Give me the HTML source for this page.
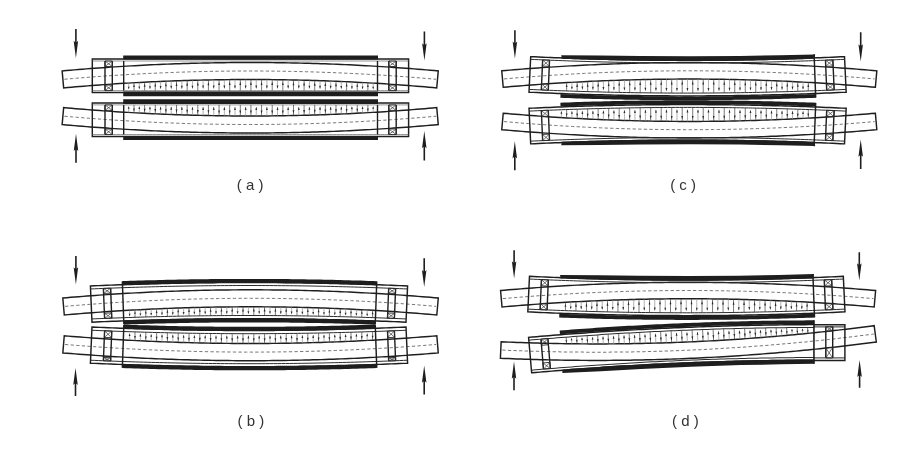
<!DOCTYPE html>
<html><head><meta charset="utf-8"><title>Roll bending diagram</title>
<style>html,body{margin:0;padding:0;background:#fff;}svg{display:block;font-family:"Liberation Sans",sans-serif;filter:grayscale(1);}</style>
</head><body>
<svg width="924" height="460" viewBox="0 0 924 460">
<rect width="924" height="460" fill="#fff"/>
<polygon points="62.14,70.93 66.18,70.58 70.23,70.22 74.27,69.88 78.32,69.55 82.36,69.22 86.41,68.9 90.45,68.59 94.49,68.28 98.54,67.99 102.58,67.7 106.63,67.42 110.67,67.14 114.72,66.88 118.76,66.62 122.8,66.37 126.85,66.13 130.89,65.89 134.94,65.67 138.98,65.45 143.03,65.24 147.07,65.04 151.11,64.84 155.16,64.65 159.2,64.47 163.25,64.3 167.29,64.14 171.34,63.98 175.38,63.83 179.42,63.69 183.47,63.56 187.51,63.44 191.56,63.32 195.6,63.21 199.65,63.11 203.69,63.02 207.73,62.93 211.78,62.85 215.82,62.78 219.87,62.72 223.91,62.66 227.96,62.62 232,62.58 236.04,62.55 240.09,62.52 244.13,62.51 248.18,62.5 252.22,62.5 256.27,62.51 260.31,62.52 264.36,62.55 268.4,62.58 272.44,62.62 276.49,62.66 280.53,62.72 284.58,62.78 288.62,62.85 292.67,62.93 296.71,63.02 300.75,63.11 304.8,63.21 308.84,63.32 312.89,63.44 316.93,63.56 320.98,63.69 325.02,63.83 329.06,63.98 333.11,64.14 337.15,64.3 341.2,64.47 345.24,64.65 349.29,64.84 353.33,65.04 357.37,65.24 361.42,65.45 365.46,65.67 369.51,65.89 373.55,66.13 377.6,66.37 381.64,66.62 385.68,66.88 389.73,67.14 393.77,67.42 397.82,67.7 401.86,67.99 405.91,68.28 409.95,68.59 413.99,68.9 418.04,69.22 422.08,69.55 426.13,69.88 430.17,70.22 434.22,70.58 438.26,70.93 436.74,87.87 432.73,87.51 428.72,87.16 424.71,86.82 420.69,86.49 416.68,86.16 412.67,85.85 408.66,85.54 404.65,85.23 400.64,84.94 396.62,84.65 392.61,84.38 388.6,84.11 384.59,83.84 380.58,83.59 376.57,83.34 372.55,83.1 368.54,82.87 364.53,82.64 360.52,82.43 356.51,82.22 352.5,82.02 348.48,81.82 344.47,81.64 340.46,81.46 336.45,81.29 332.44,81.13 328.43,80.97 324.41,80.82 320.4,80.68 316.39,80.55 312.38,80.43 308.37,80.31 304.36,80.21 300.34,80.1 296.33,80.01 292.32,79.93 288.31,79.85 284.3,79.78 280.29,79.72 276.28,79.66 272.26,79.62 268.25,79.58 264.24,79.55 260.23,79.52 256.22,79.51 252.21,79.5 248.19,79.5 244.18,79.51 240.17,79.52 236.16,79.55 232.15,79.58 228.14,79.62 224.12,79.66 220.11,79.72 216.1,79.78 212.09,79.85 208.08,79.93 204.07,80.01 200.06,80.1 196.04,80.21 192.03,80.31 188.02,80.43 184.01,80.55 180,80.68 175.99,80.82 171.97,80.97 167.96,81.13 163.95,81.29 159.94,81.46 155.93,81.64 151.92,81.82 147.9,82.02 143.89,82.22 139.88,82.43 135.87,82.64 131.86,82.87 127.85,83.1 123.83,83.34 119.82,83.59 115.81,83.84 111.8,84.11 107.79,84.38 103.78,84.65 99.76,84.94 95.75,85.23 91.74,85.54 87.73,85.85 83.72,86.16 79.71,86.49 75.69,86.82 71.68,87.16 67.67,87.51 63.66,87.87" fill="none" stroke="#1e1e1e" stroke-width="1.45" stroke-linejoin="miter"/>
<polyline points="64.4,79.27 68.44,78.91 72.48,78.56 76.52,78.22 80.56,77.89 84.6,77.57 88.63,77.25 92.67,76.94 96.71,76.64 100.75,76.35 104.79,76.06 108.83,75.79 112.87,75.52 116.91,75.25 120.95,75 124.99,74.75 129.03,74.52 133.07,74.29 137.1,74.06 141.14,73.85 145.18,73.64 149.22,73.44 153.26,73.25 157.3,73.07 161.34,72.89 165.38,72.72 169.42,72.56 173.46,72.41 177.5,72.27 181.53,72.13 185.57,72 189.61,71.88 193.65,71.77 197.69,71.66 201.73,71.56 205.77,71.47 209.81,71.39 213.85,71.32 217.89,71.25 221.93,71.19 225.97,71.14 230,71.1 234.04,71.06 238.08,71.04 242.12,71.02 246.16,71 250.2,71 254.24,71 258.28,71.02 262.32,71.04 266.36,71.06 270.4,71.1 274.43,71.14 278.47,71.19 282.51,71.25 286.55,71.32 290.59,71.39 294.63,71.47 298.67,71.56 302.71,71.66 306.75,71.77 310.79,71.88 314.83,72 318.87,72.13 322.9,72.27 326.94,72.41 330.98,72.56 335.02,72.72 339.06,72.89 343.1,73.07 347.14,73.25 351.18,73.44 355.22,73.64 359.26,73.85 363.3,74.06 367.33,74.29 371.37,74.52 375.41,74.75 379.45,75 383.49,75.25 387.53,75.52 391.57,75.79 395.61,76.06 399.65,76.35 403.69,76.64 407.73,76.94 411.77,77.25 415.8,77.57 419.84,77.89 423.88,78.22 427.92,78.56 431.96,78.91 436,79.27" fill="none" stroke="#777" stroke-width="1" stroke-dasharray="3.3 2.3"/>
<polygon points="92.3,59 96.3,59 100.31,59 104.31,59 108.32,59 112.32,59 116.32,59 120.33,59 124.33,59 128.33,59 132.34,59 136.34,59 140.35,59 144.35,59 148.35,59 152.36,59 156.36,59 160.36,59 164.37,59 168.37,59 172.38,59 176.38,59 180.38,59 184.39,59 188.39,59 192.39,59 196.4,59 200.4,59 204.41,59 208.41,59 212.41,59 216.42,59 220.42,59 224.43,59 228.43,59 232.43,59 236.44,59 240.44,59 244.44,59 248.45,59 252.45,59 256.46,59 260.46,59 264.46,59 268.47,59 272.47,59 276.47,59 280.48,59 284.48,59 288.49,59 292.49,59 296.49,59 300.5,59 304.5,59 308.51,59 312.51,59 316.51,59 320.52,59 324.52,59 328.52,59 332.53,59 336.53,59 340.54,59 344.54,59 348.54,59 352.55,59 356.55,59 360.55,59 364.56,59 368.56,59 372.57,59 376.57,59 380.57,59 384.58,59 388.58,59 392.58,59 396.59,59 400.59,59 404.6,59 408.6,59 408.6,92.5 404.6,92.5 400.59,92.5 396.59,92.5 392.58,92.5 388.58,92.5 384.58,92.5 380.57,92.5 376.57,92.5 372.57,92.5 368.56,92.5 364.56,92.5 360.55,92.5 356.55,92.5 352.55,92.5 348.54,92.5 344.54,92.5 340.54,92.5 336.53,92.5 332.53,92.5 328.52,92.5 324.52,92.5 320.52,92.5 316.51,92.5 312.51,92.5 308.51,92.5 304.5,92.5 300.5,92.5 296.49,92.5 292.49,92.5 288.49,92.5 284.48,92.5 280.48,92.5 276.47,92.5 272.47,92.5 268.47,92.5 264.46,92.5 260.46,92.5 256.46,92.5 252.45,92.5 248.45,92.5 244.44,92.5 240.44,92.5 236.44,92.5 232.43,92.5 228.43,92.5 224.43,92.5 220.42,92.5 216.42,92.5 212.41,92.5 208.41,92.5 204.41,92.5 200.4,92.5 196.4,92.5 192.39,92.5 188.39,92.5 184.39,92.5 180.38,92.5 176.38,92.5 172.38,92.5 168.37,92.5 164.37,92.5 160.36,92.5 156.36,92.5 152.36,92.5 148.35,92.5 144.35,92.5 140.35,92.5 136.34,92.5 132.34,92.5 128.33,92.5 124.33,92.5 120.33,92.5 116.32,92.5 112.32,92.5 108.32,92.5 104.31,92.5 100.31,92.5 96.3,92.5 92.3,92.5" fill="none" stroke="#1e1e1e" stroke-width="1.45" stroke-linejoin="miter"/>
<polyline points="92.3,61 96.3,61 100.31,61 104.31,61 108.32,61 112.32,61 116.32,61 120.33,61 124.33,61 128.33,61 132.34,61 136.34,61 140.35,61 144.35,61 148.35,61 152.36,61 156.36,61 160.36,61 164.37,61 168.37,61 172.38,61 176.38,61 180.38,61 184.39,61 188.39,61 192.39,61 196.4,61 200.4,61 204.41,61 208.41,61 212.41,61 216.42,61 220.42,61 224.43,61 228.43,61 232.43,61 236.44,61 240.44,61 244.44,61 248.45,61 252.45,61 256.46,61 260.46,61 264.46,61 268.47,61 272.47,61 276.47,61 280.48,61 284.48,61 288.49,61 292.49,61 296.49,61 300.5,61 304.5,61 308.51,61 312.51,61 316.51,61 320.52,61 324.52,61 328.52,61 332.53,61 336.53,61 340.54,61 344.54,61 348.54,61 352.55,61 356.55,61 360.55,61 364.56,61 368.56,61 372.57,61 376.57,61 380.57,61 384.58,61 388.58,61 392.58,61 396.59,61 400.59,61 404.6,61 408.6,61" fill="none" stroke="#666" stroke-width="0.7" />
<polyline points="92.3,90.6 96.3,90.6 100.31,90.6 104.31,90.6 108.32,90.6 112.32,90.6 116.32,90.6 120.33,90.6 124.33,90.6 128.33,90.6 132.34,90.6 136.34,90.6 140.35,90.6 144.35,90.6 148.35,90.6 152.36,90.6 156.36,90.6 160.36,90.6 164.37,90.6 168.37,90.6 172.38,90.6 176.38,90.6 180.38,90.6 184.39,90.6 188.39,90.6 192.39,90.6 196.4,90.6 200.4,90.6 204.41,90.6 208.41,90.6 212.41,90.6 216.42,90.6 220.42,90.6 224.43,90.6 228.43,90.6 232.43,90.6 236.44,90.6 240.44,90.6 244.44,90.6 248.45,90.6 252.45,90.6 256.46,90.6 260.46,90.6 264.46,90.6 268.47,90.6 272.47,90.6 276.47,90.6 280.48,90.6 284.48,90.6 288.49,90.6 292.49,90.6 296.49,90.6 300.5,90.6 304.5,90.6 308.51,90.6 312.51,90.6 316.51,90.6 320.52,90.6 324.52,90.6 328.52,90.6 332.53,90.6 336.53,90.6 340.54,90.6 344.54,90.6 348.54,90.6 352.55,90.6 356.55,90.6 360.55,90.6 364.56,90.6 368.56,90.6 372.57,90.6 376.57,90.6 380.57,90.6 384.58,90.6 388.58,90.6 392.58,90.6 396.59,90.6 400.59,90.6 404.6,90.6 408.6,90.6" fill="none" stroke="#666" stroke-width="0.7" />
<polygon points="123.2,55.5 127.24,55.5 131.29,55.5 135.33,55.5 139.38,55.5 143.42,55.5 147.47,55.5 151.51,55.5 155.56,55.5 159.6,55.5 163.64,55.5 167.69,55.5 171.73,55.5 175.78,55.5 179.82,55.5 183.87,55.5 187.91,55.5 191.96,55.5 196,55.5 200.04,55.5 204.09,55.5 208.13,55.5 212.18,55.5 216.22,55.5 220.27,55.5 224.31,55.5 228.36,55.5 232.4,55.5 236.44,55.5 240.49,55.5 244.53,55.5 248.58,55.5 252.62,55.5 256.67,55.5 260.71,55.5 264.76,55.5 268.8,55.5 272.84,55.5 276.89,55.5 280.93,55.5 284.98,55.5 289.02,55.5 293.07,55.5 297.11,55.5 301.16,55.5 305.2,55.5 309.24,55.5 313.29,55.5 317.33,55.5 321.38,55.5 325.42,55.5 329.47,55.5 333.51,55.5 337.56,55.5 341.6,55.5 345.64,55.5 349.69,55.5 353.73,55.5 357.78,55.5 361.82,55.5 365.87,55.5 369.91,55.5 373.96,55.5 378,55.5 378,59.4 373.96,59.4 369.91,59.4 365.87,59.4 361.82,59.4 357.78,59.4 353.73,59.4 349.69,59.4 345.64,59.4 341.6,59.4 337.56,59.4 333.51,59.4 329.47,59.4 325.42,59.4 321.38,59.4 317.33,59.4 313.29,59.4 309.24,59.4 305.2,59.4 301.16,59.4 297.11,59.4 293.07,59.4 289.02,59.4 284.98,59.4 280.93,59.4 276.89,59.4 272.84,59.4 268.8,59.4 264.76,59.4 260.71,59.4 256.67,59.4 252.62,59.4 248.58,59.4 244.53,59.4 240.49,59.4 236.44,59.4 232.4,59.4 228.36,59.4 224.31,59.4 220.27,59.4 216.22,59.4 212.18,59.4 208.13,59.4 204.09,59.4 200.04,59.4 196,59.4 191.96,59.4 187.91,59.4 183.87,59.4 179.82,59.4 175.78,59.4 171.73,59.4 167.69,59.4 163.64,59.4 159.6,59.4 155.56,59.4 151.51,59.4 147.47,59.4 143.42,59.4 139.38,59.4 135.33,59.4 131.29,59.4 127.24,59.4 123.2,59.4" fill="#1e1e1e" stroke="none" stroke-width="0" stroke-linejoin="miter"/>
<polygon points="123.2,91.5 127.24,91.5 131.29,91.5 135.33,91.5 139.38,91.5 143.42,91.5 147.47,91.5 151.51,91.5 155.56,91.5 159.6,91.5 163.64,91.5 167.69,91.5 171.73,91.5 175.78,91.5 179.82,91.5 183.87,91.5 187.91,91.5 191.96,91.5 196,91.5 200.04,91.5 204.09,91.5 208.13,91.5 212.18,91.5 216.22,91.5 220.27,91.5 224.31,91.5 228.36,91.5 232.4,91.5 236.44,91.5 240.49,91.5 244.53,91.5 248.58,91.5 252.62,91.5 256.67,91.5 260.71,91.5 264.76,91.5 268.8,91.5 272.84,91.5 276.89,91.5 280.93,91.5 284.98,91.5 289.02,91.5 293.07,91.5 297.11,91.5 301.16,91.5 305.2,91.5 309.24,91.5 313.29,91.5 317.33,91.5 321.38,91.5 325.42,91.5 329.47,91.5 333.51,91.5 337.56,91.5 341.6,91.5 345.64,91.5 349.69,91.5 353.73,91.5 357.78,91.5 361.82,91.5 365.87,91.5 369.91,91.5 373.96,91.5 378,91.5 378,96.2 373.96,96.2 369.91,96.2 365.87,96.2 361.82,96.2 357.78,96.2 353.73,96.2 349.69,96.2 345.64,96.2 341.6,96.2 337.56,96.2 333.51,96.2 329.47,96.2 325.42,96.2 321.38,96.2 317.33,96.2 313.29,96.2 309.24,96.2 305.2,96.2 301.16,96.2 297.11,96.2 293.07,96.2 289.02,96.2 284.98,96.2 280.93,96.2 276.89,96.2 272.84,96.2 268.8,96.2 264.76,96.2 260.71,96.2 256.67,96.2 252.62,96.2 248.58,96.2 244.53,96.2 240.49,96.2 236.44,96.2 232.4,96.2 228.36,96.2 224.31,96.2 220.27,96.2 216.22,96.2 212.18,96.2 208.13,96.2 204.09,96.2 200.04,96.2 196,96.2 191.96,96.2 187.91,96.2 183.87,96.2 179.82,96.2 175.78,96.2 171.73,96.2 167.69,96.2 163.64,96.2 159.6,96.2 155.56,96.2 151.51,96.2 147.47,96.2 143.42,96.2 139.38,96.2 135.33,96.2 131.29,96.2 127.24,96.2 123.2,96.2" fill="#1e1e1e" stroke="none" stroke-width="0" stroke-linejoin="miter"/>
<line x1="105" y1="61" x2="105" y2="90.6" stroke="#1e1e1e" stroke-width="1.4"/>
<line x1="112.3" y1="61" x2="112.3" y2="90.6" stroke="#1e1e1e" stroke-width="1.4"/>
<polygon points="105,61 112.3,61 112.3,66.5 105,66.5" fill="none" stroke="#2a2a2a" stroke-width="0.9" stroke-linejoin="miter"/>
<line x1="105.44" y1="61.33" x2="111.86" y2="66.17" stroke="#333" stroke-width="0.7"/>
<line x1="111.86" y1="61.33" x2="105.44" y2="66.17" stroke="#333" stroke-width="0.7"/>
<polygon points="105,85.1 112.3,85.1 112.3,90.6 105,90.6" fill="none" stroke="#2a2a2a" stroke-width="0.9" stroke-linejoin="miter"/>
<line x1="105.44" y1="85.43" x2="111.86" y2="90.27" stroke="#333" stroke-width="0.7"/>
<line x1="111.86" y1="85.43" x2="105.44" y2="90.27" stroke="#333" stroke-width="0.7"/>
<line x1="388.8" y1="61" x2="388.8" y2="90.6" stroke="#1e1e1e" stroke-width="1.4"/>
<line x1="396.2" y1="61" x2="396.2" y2="90.6" stroke="#1e1e1e" stroke-width="1.4"/>
<polygon points="388.8,61 396.2,61 396.2,66.5 388.8,66.5" fill="none" stroke="#2a2a2a" stroke-width="0.9" stroke-linejoin="miter"/>
<line x1="389.24" y1="61.33" x2="395.76" y2="66.17" stroke="#333" stroke-width="0.7"/>
<line x1="395.76" y1="61.33" x2="389.24" y2="66.17" stroke="#333" stroke-width="0.7"/>
<polygon points="388.8,85.1 396.2,85.1 396.2,90.6 388.8,90.6" fill="none" stroke="#2a2a2a" stroke-width="0.9" stroke-linejoin="miter"/>
<line x1="389.24" y1="85.43" x2="395.76" y2="90.27" stroke="#333" stroke-width="0.7"/>
<line x1="395.76" y1="85.43" x2="389.24" y2="90.27" stroke="#333" stroke-width="0.7"/>
<line x1="123.7" y1="61" x2="123.7" y2="90.6" stroke="#1e1e1e" stroke-width="1.4"/>
<line x1="377.5" y1="61" x2="377.5" y2="90.6" stroke="#1e1e1e" stroke-width="1.4"/>
<line x1="128.7" y1="83.02" x2="128.7" y2="88.81" stroke="#909090" stroke-width="0.7"/>
<polygon points="127.8,86.81 129.6,86.81 128.7,89.31" fill="#2a2a2a" stroke="none" stroke-width="0" stroke-linejoin="miter"/>
<line x1="134.01" y1="82.72" x2="134.01" y2="90.6" stroke="#404040" stroke-width="0.7"/>
<polygon points="133.11,86.9 134.91,86.9 134.01,84.3" fill="#2a2a2a" stroke="none" stroke-width="0" stroke-linejoin="miter"/>
<line x1="139.33" y1="82.43" x2="139.33" y2="88.71" stroke="#909090" stroke-width="0.7"/>
<polygon points="138.43,86.52 140.23,86.52 139.33,89.21" fill="#2a2a2a" stroke="none" stroke-width="0" stroke-linejoin="miter"/>
<line x1="144.64" y1="82.16" x2="144.64" y2="90.6" stroke="#404040" stroke-width="0.7"/>
<polygon points="143.74,86.63 145.54,86.63 144.64,83.85" fill="#2a2a2a" stroke="none" stroke-width="0" stroke-linejoin="miter"/>
<line x1="149.96" y1="81.9" x2="149.96" y2="88.62" stroke="#909090" stroke-width="0.7"/>
<polygon points="149.06,86.25 150.86,86.25 149.96,89.12" fill="#2a2a2a" stroke="none" stroke-width="0" stroke-linejoin="miter"/>
<line x1="155.27" y1="81.65" x2="155.27" y2="90.6" stroke="#404040" stroke-width="0.7"/>
<polygon points="154.37,86.39 156.17,86.39 155.27,83.44" fill="#2a2a2a" stroke="none" stroke-width="0" stroke-linejoin="miter"/>
<line x1="160.59" y1="81.41" x2="160.59" y2="88.54" stroke="#909090" stroke-width="0.7"/>
<polygon points="159.69,86.01 161.49,86.01 160.59,89.04" fill="#2a2a2a" stroke="none" stroke-width="0" stroke-linejoin="miter"/>
<line x1="165.91" y1="81.19" x2="165.91" y2="90.6" stroke="#404040" stroke-width="0.7"/>
<polygon points="165,86.18 166.81,86.18 165.91,83.08" fill="#2a2a2a" stroke="none" stroke-width="0" stroke-linejoin="miter"/>
<line x1="171.22" y1="80.99" x2="171.22" y2="88.47" stroke="#909090" stroke-width="0.7"/>
<polygon points="170.32,85.79 172.12,85.79 171.22,88.97" fill="#2a2a2a" stroke="none" stroke-width="0" stroke-linejoin="miter"/>
<line x1="176.53" y1="80.79" x2="176.53" y2="90.6" stroke="#404040" stroke-width="0.7"/>
<polygon points="175.63,85.96 177.44,85.96 176.53,82.76" fill="#2a2a2a" stroke="none" stroke-width="0" stroke-linejoin="miter"/>
<line x1="181.85" y1="80.61" x2="181.85" y2="88.4" stroke="#909090" stroke-width="0.7"/>
<polygon points="180.95,85.7 182.75,85.7 181.85,88.9" fill="#2a2a2a" stroke="none" stroke-width="0" stroke-linejoin="miter"/>
<line x1="187.16" y1="80.45" x2="187.16" y2="90.6" stroke="#404040" stroke-width="0.7"/>
<polygon points="186.26,85.68 188.06,85.68 187.16,82.48" fill="#2a2a2a" stroke="none" stroke-width="0" stroke-linejoin="miter"/>
<line x1="192.48" y1="80.29" x2="192.48" y2="88.35" stroke="#909090" stroke-width="0.7"/>
<polygon points="191.58,85.65 193.38,85.65 192.48,88.85" fill="#2a2a2a" stroke="none" stroke-width="0" stroke-linejoin="miter"/>
<line x1="197.79" y1="80.15" x2="197.79" y2="90.6" stroke="#404040" stroke-width="0.7"/>
<polygon points="196.89,85.44 198.69,85.44 197.79,82.24" fill="#2a2a2a" stroke="none" stroke-width="0" stroke-linejoin="miter"/>
<line x1="203.11" y1="80.03" x2="203.11" y2="88.3" stroke="#909090" stroke-width="0.7"/>
<polygon points="202.21,85.6 204.01,85.6 203.11,88.8" fill="#2a2a2a" stroke="none" stroke-width="0" stroke-linejoin="miter"/>
<line x1="208.43" y1="79.92" x2="208.43" y2="90.6" stroke="#404040" stroke-width="0.7"/>
<polygon points="207.53,85.25 209.33,85.25 208.43,82.05" fill="#2a2a2a" stroke="none" stroke-width="0" stroke-linejoin="miter"/>
<line x1="213.74" y1="79.82" x2="213.74" y2="88.27" stroke="#909090" stroke-width="0.7"/>
<polygon points="212.84,85.57 214.64,85.57 213.74,88.77" fill="#2a2a2a" stroke="none" stroke-width="0" stroke-linejoin="miter"/>
<line x1="219.06" y1="79.73" x2="219.06" y2="90.6" stroke="#404040" stroke-width="0.7"/>
<polygon points="218.16,85.11 219.96,85.11 219.06,81.91" fill="#2a2a2a" stroke="none" stroke-width="0" stroke-linejoin="miter"/>
<line x1="224.37" y1="79.66" x2="224.37" y2="88.24" stroke="#909090" stroke-width="0.7"/>
<polygon points="223.47,85.54 225.27,85.54 224.37,88.74" fill="#2a2a2a" stroke="none" stroke-width="0" stroke-linejoin="miter"/>
<line x1="229.69" y1="79.6" x2="229.69" y2="90.6" stroke="#404040" stroke-width="0.7"/>
<polygon points="228.78,85 230.59,85 229.69,81.8" fill="#2a2a2a" stroke="none" stroke-width="0" stroke-linejoin="miter"/>
<line x1="235" y1="79.56" x2="235" y2="88.22" stroke="#909090" stroke-width="0.7"/>
<polygon points="234.1,85.52 235.9,85.52 235,88.72" fill="#2a2a2a" stroke="none" stroke-width="0" stroke-linejoin="miter"/>
<line x1="240.31" y1="79.52" x2="240.31" y2="90.6" stroke="#404040" stroke-width="0.7"/>
<polygon points="239.41,84.92 241.22,84.92 240.31,81.72" fill="#2a2a2a" stroke="none" stroke-width="0" stroke-linejoin="miter"/>
<line x1="245.63" y1="79.5" x2="245.63" y2="88.21" stroke="#909090" stroke-width="0.7"/>
<polygon points="244.73,85.51 246.53,85.51 245.63,88.71" fill="#2a2a2a" stroke="none" stroke-width="0" stroke-linejoin="miter"/>
<line x1="250.94" y1="79.5" x2="250.94" y2="90.6" stroke="#404040" stroke-width="0.7"/>
<polygon points="250.04,84.9 251.84,84.9 250.94,81.7" fill="#2a2a2a" stroke="none" stroke-width="0" stroke-linejoin="miter"/>
<line x1="256.26" y1="79.51" x2="256.26" y2="88.21" stroke="#909090" stroke-width="0.7"/>
<polygon points="255.36,85.51 257.16,85.51 256.26,88.71" fill="#2a2a2a" stroke="none" stroke-width="0" stroke-linejoin="miter"/>
<line x1="261.57" y1="79.53" x2="261.57" y2="90.6" stroke="#404040" stroke-width="0.7"/>
<polygon points="260.68,84.93 262.47,84.93 261.57,81.73" fill="#2a2a2a" stroke="none" stroke-width="0" stroke-linejoin="miter"/>
<line x1="266.89" y1="79.57" x2="266.89" y2="88.22" stroke="#909090" stroke-width="0.7"/>
<polygon points="265.99,85.52 267.79,85.52 266.89,88.72" fill="#2a2a2a" stroke="none" stroke-width="0" stroke-linejoin="miter"/>
<line x1="272.21" y1="79.62" x2="272.21" y2="90.6" stroke="#404040" stroke-width="0.7"/>
<polygon points="271.31,85.01 273.11,85.01 272.21,81.81" fill="#2a2a2a" stroke="none" stroke-width="0" stroke-linejoin="miter"/>
<line x1="277.52" y1="79.68" x2="277.52" y2="88.24" stroke="#909090" stroke-width="0.7"/>
<polygon points="276.62,85.54 278.42,85.54 277.52,88.74" fill="#2a2a2a" stroke="none" stroke-width="0" stroke-linejoin="miter"/>
<line x1="282.84" y1="79.75" x2="282.84" y2="90.6" stroke="#404040" stroke-width="0.7"/>
<polygon points="281.94,85.12 283.74,85.12 282.84,81.92" fill="#2a2a2a" stroke="none" stroke-width="0" stroke-linejoin="miter"/>
<line x1="288.15" y1="79.84" x2="288.15" y2="88.27" stroke="#909090" stroke-width="0.7"/>
<polygon points="287.25,85.57 289.05,85.57 288.15,88.77" fill="#2a2a2a" stroke="none" stroke-width="0" stroke-linejoin="miter"/>
<line x1="293.47" y1="79.95" x2="293.47" y2="90.6" stroke="#404040" stroke-width="0.7"/>
<polygon points="292.57,85.28 294.37,85.28 293.47,82.08" fill="#2a2a2a" stroke="none" stroke-width="0" stroke-linejoin="miter"/>
<line x1="298.78" y1="80.06" x2="298.78" y2="88.31" stroke="#909090" stroke-width="0.7"/>
<polygon points="297.88,85.61 299.68,85.61 298.78,88.81" fill="#2a2a2a" stroke="none" stroke-width="0" stroke-linejoin="miter"/>
<line x1="304.1" y1="80.19" x2="304.1" y2="90.6" stroke="#404040" stroke-width="0.7"/>
<polygon points="303.2,85.47 305,85.47 304.1,82.27" fill="#2a2a2a" stroke="none" stroke-width="0" stroke-linejoin="miter"/>
<line x1="309.41" y1="80.34" x2="309.41" y2="88.36" stroke="#909090" stroke-width="0.7"/>
<polygon points="308.51,85.66 310.31,85.66 309.41,88.86" fill="#2a2a2a" stroke="none" stroke-width="0" stroke-linejoin="miter"/>
<line x1="314.73" y1="80.49" x2="314.73" y2="90.6" stroke="#404040" stroke-width="0.7"/>
<polygon points="313.83,85.71 315.62,85.71 314.73,82.51" fill="#2a2a2a" stroke="none" stroke-width="0" stroke-linejoin="miter"/>
<line x1="320.04" y1="80.66" x2="320.04" y2="88.41" stroke="#909090" stroke-width="0.7"/>
<polygon points="319.14,85.71 320.94,85.71 320.04,88.91" fill="#2a2a2a" stroke="none" stroke-width="0" stroke-linejoin="miter"/>
<line x1="325.36" y1="80.85" x2="325.36" y2="90.6" stroke="#404040" stroke-width="0.7"/>
<polygon points="324.46,86 326.25,86 325.36,82.8" fill="#2a2a2a" stroke="none" stroke-width="0" stroke-linejoin="miter"/>
<line x1="330.67" y1="81.04" x2="330.67" y2="88.48" stroke="#909090" stroke-width="0.7"/>
<polygon points="329.77,85.82 331.57,85.82 330.67,88.98" fill="#2a2a2a" stroke="none" stroke-width="0" stroke-linejoin="miter"/>
<line x1="335.99" y1="81.25" x2="335.99" y2="90.6" stroke="#404040" stroke-width="0.7"/>
<polygon points="335.09,86.21 336.88,86.21 335.99,83.12" fill="#2a2a2a" stroke="none" stroke-width="0" stroke-linejoin="miter"/>
<line x1="341.3" y1="81.48" x2="341.3" y2="88.55" stroke="#909090" stroke-width="0.7"/>
<polygon points="340.4,86.04 342.2,86.04 341.3,89.05" fill="#2a2a2a" stroke="none" stroke-width="0" stroke-linejoin="miter"/>
<line x1="346.62" y1="81.72" x2="346.62" y2="90.6" stroke="#404040" stroke-width="0.7"/>
<polygon points="345.72,86.42 347.51,86.42 346.62,83.49" fill="#2a2a2a" stroke="none" stroke-width="0" stroke-linejoin="miter"/>
<line x1="351.93" y1="81.97" x2="351.93" y2="88.63" stroke="#909090" stroke-width="0.7"/>
<polygon points="351.03,86.28 352.83,86.28 351.93,89.13" fill="#2a2a2a" stroke="none" stroke-width="0" stroke-linejoin="miter"/>
<line x1="357.25" y1="82.23" x2="357.25" y2="90.6" stroke="#404040" stroke-width="0.7"/>
<polygon points="356.35,86.67 358.14,86.67 357.25,83.91" fill="#2a2a2a" stroke="none" stroke-width="0" stroke-linejoin="miter"/>
<line x1="362.56" y1="82.51" x2="362.56" y2="88.72" stroke="#909090" stroke-width="0.7"/>
<polygon points="361.66,86.56 363.46,86.56 362.56,89.22" fill="#2a2a2a" stroke="none" stroke-width="0" stroke-linejoin="miter"/>
<line x1="367.88" y1="82.8" x2="367.88" y2="90.6" stroke="#404040" stroke-width="0.7"/>
<polygon points="366.98,86.94 368.77,86.94 367.88,84.36" fill="#2a2a2a" stroke="none" stroke-width="0" stroke-linejoin="miter"/>
<line x1="373.19" y1="83.11" x2="373.19" y2="88.83" stroke="#909090" stroke-width="0.7"/>
<polygon points="372.29,86.85 374.09,86.85 373.19,89.33" fill="#2a2a2a" stroke="none" stroke-width="0" stroke-linejoin="miter"/>
<g transform="matrix(1 0 0 -1 0 195.5)">
<polygon points="62.14,70.93 66.18,70.58 70.23,70.22 74.27,69.88 78.32,69.55 82.36,69.22 86.41,68.9 90.45,68.59 94.49,68.28 98.54,67.99 102.58,67.7 106.63,67.42 110.67,67.14 114.72,66.88 118.76,66.62 122.8,66.37 126.85,66.13 130.89,65.89 134.94,65.67 138.98,65.45 143.03,65.24 147.07,65.04 151.11,64.84 155.16,64.65 159.2,64.47 163.25,64.3 167.29,64.14 171.34,63.98 175.38,63.83 179.42,63.69 183.47,63.56 187.51,63.44 191.56,63.32 195.6,63.21 199.65,63.11 203.69,63.02 207.73,62.93 211.78,62.85 215.82,62.78 219.87,62.72 223.91,62.66 227.96,62.62 232,62.58 236.04,62.55 240.09,62.52 244.13,62.51 248.18,62.5 252.22,62.5 256.27,62.51 260.31,62.52 264.36,62.55 268.4,62.58 272.44,62.62 276.49,62.66 280.53,62.72 284.58,62.78 288.62,62.85 292.67,62.93 296.71,63.02 300.75,63.11 304.8,63.21 308.84,63.32 312.89,63.44 316.93,63.56 320.98,63.69 325.02,63.83 329.06,63.98 333.11,64.14 337.15,64.3 341.2,64.47 345.24,64.65 349.29,64.84 353.33,65.04 357.37,65.24 361.42,65.45 365.46,65.67 369.51,65.89 373.55,66.13 377.6,66.37 381.64,66.62 385.68,66.88 389.73,67.14 393.77,67.42 397.82,67.7 401.86,67.99 405.91,68.28 409.95,68.59 413.99,68.9 418.04,69.22 422.08,69.55 426.13,69.88 430.17,70.22 434.22,70.58 438.26,70.93 436.74,87.87 432.73,87.51 428.72,87.16 424.71,86.82 420.69,86.49 416.68,86.16 412.67,85.85 408.66,85.54 404.65,85.23 400.64,84.94 396.62,84.65 392.61,84.38 388.6,84.11 384.59,83.84 380.58,83.59 376.57,83.34 372.55,83.1 368.54,82.87 364.53,82.64 360.52,82.43 356.51,82.22 352.5,82.02 348.48,81.82 344.47,81.64 340.46,81.46 336.45,81.29 332.44,81.13 328.43,80.97 324.41,80.82 320.4,80.68 316.39,80.55 312.38,80.43 308.37,80.31 304.36,80.21 300.34,80.1 296.33,80.01 292.32,79.93 288.31,79.85 284.3,79.78 280.29,79.72 276.28,79.66 272.26,79.62 268.25,79.58 264.24,79.55 260.23,79.52 256.22,79.51 252.21,79.5 248.19,79.5 244.18,79.51 240.17,79.52 236.16,79.55 232.15,79.58 228.14,79.62 224.12,79.66 220.11,79.72 216.1,79.78 212.09,79.85 208.08,79.93 204.07,80.01 200.06,80.1 196.04,80.21 192.03,80.31 188.02,80.43 184.01,80.55 180,80.68 175.99,80.82 171.97,80.97 167.96,81.13 163.95,81.29 159.94,81.46 155.93,81.64 151.92,81.82 147.9,82.02 143.89,82.22 139.88,82.43 135.87,82.64 131.86,82.87 127.85,83.1 123.83,83.34 119.82,83.59 115.81,83.84 111.8,84.11 107.79,84.38 103.78,84.65 99.76,84.94 95.75,85.23 91.74,85.54 87.73,85.85 83.72,86.16 79.71,86.49 75.69,86.82 71.68,87.16 67.67,87.51 63.66,87.87" fill="none" stroke="#1e1e1e" stroke-width="1.45" stroke-linejoin="miter"/>
<polyline points="64.4,79.27 68.44,78.91 72.48,78.56 76.52,78.22 80.56,77.89 84.6,77.57 88.63,77.25 92.67,76.94 96.71,76.64 100.75,76.35 104.79,76.06 108.83,75.79 112.87,75.52 116.91,75.25 120.95,75 124.99,74.75 129.03,74.52 133.07,74.29 137.1,74.06 141.14,73.85 145.18,73.64 149.22,73.44 153.26,73.25 157.3,73.07 161.34,72.89 165.38,72.72 169.42,72.56 173.46,72.41 177.5,72.27 181.53,72.13 185.57,72 189.61,71.88 193.65,71.77 197.69,71.66 201.73,71.56 205.77,71.47 209.81,71.39 213.85,71.32 217.89,71.25 221.93,71.19 225.97,71.14 230,71.1 234.04,71.06 238.08,71.04 242.12,71.02 246.16,71 250.2,71 254.24,71 258.28,71.02 262.32,71.04 266.36,71.06 270.4,71.1 274.43,71.14 278.47,71.19 282.51,71.25 286.55,71.32 290.59,71.39 294.63,71.47 298.67,71.56 302.71,71.66 306.75,71.77 310.79,71.88 314.83,72 318.87,72.13 322.9,72.27 326.94,72.41 330.98,72.56 335.02,72.72 339.06,72.89 343.1,73.07 347.14,73.25 351.18,73.44 355.22,73.64 359.26,73.85 363.3,74.06 367.33,74.29 371.37,74.52 375.41,74.75 379.45,75 383.49,75.25 387.53,75.52 391.57,75.79 395.61,76.06 399.65,76.35 403.69,76.64 407.73,76.94 411.77,77.25 415.8,77.57 419.84,77.89 423.88,78.22 427.92,78.56 431.96,78.91 436,79.27" fill="none" stroke="#777" stroke-width="1" stroke-dasharray="3.3 2.3"/>
<polygon points="92.3,59 96.3,59 100.31,59 104.31,59 108.32,59 112.32,59 116.32,59 120.33,59 124.33,59 128.33,59 132.34,59 136.34,59 140.35,59 144.35,59 148.35,59 152.36,59 156.36,59 160.36,59 164.37,59 168.37,59 172.38,59 176.38,59 180.38,59 184.39,59 188.39,59 192.39,59 196.4,59 200.4,59 204.41,59 208.41,59 212.41,59 216.42,59 220.42,59 224.43,59 228.43,59 232.43,59 236.44,59 240.44,59 244.44,59 248.45,59 252.45,59 256.46,59 260.46,59 264.46,59 268.47,59 272.47,59 276.47,59 280.48,59 284.48,59 288.49,59 292.49,59 296.49,59 300.5,59 304.5,59 308.51,59 312.51,59 316.51,59 320.52,59 324.52,59 328.52,59 332.53,59 336.53,59 340.54,59 344.54,59 348.54,59 352.55,59 356.55,59 360.55,59 364.56,59 368.56,59 372.57,59 376.57,59 380.57,59 384.58,59 388.58,59 392.58,59 396.59,59 400.59,59 404.6,59 408.6,59 408.6,92.5 404.6,92.5 400.59,92.5 396.59,92.5 392.58,92.5 388.58,92.5 384.58,92.5 380.57,92.5 376.57,92.5 372.57,92.5 368.56,92.5 364.56,92.5 360.55,92.5 356.55,92.5 352.55,92.5 348.54,92.5 344.54,92.5 340.54,92.5 336.53,92.5 332.53,92.5 328.52,92.5 324.52,92.5 320.52,92.5 316.51,92.5 312.51,92.5 308.51,92.5 304.5,92.5 300.5,92.5 296.49,92.5 292.49,92.5 288.49,92.5 284.48,92.5 280.48,92.5 276.47,92.5 272.47,92.5 268.47,92.5 264.46,92.5 260.46,92.5 256.46,92.5 252.45,92.5 248.45,92.5 244.44,92.5 240.44,92.5 236.44,92.5 232.43,92.5 228.43,92.5 224.43,92.5 220.42,92.5 216.42,92.5 212.41,92.5 208.41,92.5 204.41,92.5 200.4,92.5 196.4,92.5 192.39,92.5 188.39,92.5 184.39,92.5 180.38,92.5 176.38,92.5 172.38,92.5 168.37,92.5 164.37,92.5 160.36,92.5 156.36,92.5 152.36,92.5 148.35,92.5 144.35,92.5 140.35,92.5 136.34,92.5 132.34,92.5 128.33,92.5 124.33,92.5 120.33,92.5 116.32,92.5 112.32,92.5 108.32,92.5 104.31,92.5 100.31,92.5 96.3,92.5 92.3,92.5" fill="none" stroke="#1e1e1e" stroke-width="1.45" stroke-linejoin="miter"/>
<polyline points="92.3,61 96.3,61 100.31,61 104.31,61 108.32,61 112.32,61 116.32,61 120.33,61 124.33,61 128.33,61 132.34,61 136.34,61 140.35,61 144.35,61 148.35,61 152.36,61 156.36,61 160.36,61 164.37,61 168.37,61 172.38,61 176.38,61 180.38,61 184.39,61 188.39,61 192.39,61 196.4,61 200.4,61 204.41,61 208.41,61 212.41,61 216.42,61 220.42,61 224.43,61 228.43,61 232.43,61 236.44,61 240.44,61 244.44,61 248.45,61 252.45,61 256.46,61 260.46,61 264.46,61 268.47,61 272.47,61 276.47,61 280.48,61 284.48,61 288.49,61 292.49,61 296.49,61 300.5,61 304.5,61 308.51,61 312.51,61 316.51,61 320.52,61 324.52,61 328.52,61 332.53,61 336.53,61 340.54,61 344.54,61 348.54,61 352.55,61 356.55,61 360.55,61 364.56,61 368.56,61 372.57,61 376.57,61 380.57,61 384.58,61 388.58,61 392.58,61 396.59,61 400.59,61 404.6,61 408.6,61" fill="none" stroke="#666" stroke-width="0.7" />
<polyline points="92.3,90.6 96.3,90.6 100.31,90.6 104.31,90.6 108.32,90.6 112.32,90.6 116.32,90.6 120.33,90.6 124.33,90.6 128.33,90.6 132.34,90.6 136.34,90.6 140.35,90.6 144.35,90.6 148.35,90.6 152.36,90.6 156.36,90.6 160.36,90.6 164.37,90.6 168.37,90.6 172.38,90.6 176.38,90.6 180.38,90.6 184.39,90.6 188.39,90.6 192.39,90.6 196.4,90.6 200.4,90.6 204.41,90.6 208.41,90.6 212.41,90.6 216.42,90.6 220.42,90.6 224.43,90.6 228.43,90.6 232.43,90.6 236.44,90.6 240.44,90.6 244.44,90.6 248.45,90.6 252.45,90.6 256.46,90.6 260.46,90.6 264.46,90.6 268.47,90.6 272.47,90.6 276.47,90.6 280.48,90.6 284.48,90.6 288.49,90.6 292.49,90.6 296.49,90.6 300.5,90.6 304.5,90.6 308.51,90.6 312.51,90.6 316.51,90.6 320.52,90.6 324.52,90.6 328.52,90.6 332.53,90.6 336.53,90.6 340.54,90.6 344.54,90.6 348.54,90.6 352.55,90.6 356.55,90.6 360.55,90.6 364.56,90.6 368.56,90.6 372.57,90.6 376.57,90.6 380.57,90.6 384.58,90.6 388.58,90.6 392.58,90.6 396.59,90.6 400.59,90.6 404.6,90.6 408.6,90.6" fill="none" stroke="#666" stroke-width="0.7" />
<polygon points="123.2,55.5 127.24,55.5 131.29,55.5 135.33,55.5 139.38,55.5 143.42,55.5 147.47,55.5 151.51,55.5 155.56,55.5 159.6,55.5 163.64,55.5 167.69,55.5 171.73,55.5 175.78,55.5 179.82,55.5 183.87,55.5 187.91,55.5 191.96,55.5 196,55.5 200.04,55.5 204.09,55.5 208.13,55.5 212.18,55.5 216.22,55.5 220.27,55.5 224.31,55.5 228.36,55.5 232.4,55.5 236.44,55.5 240.49,55.5 244.53,55.5 248.58,55.5 252.62,55.5 256.67,55.5 260.71,55.5 264.76,55.5 268.8,55.5 272.84,55.5 276.89,55.5 280.93,55.5 284.98,55.5 289.02,55.5 293.07,55.5 297.11,55.5 301.16,55.5 305.2,55.5 309.24,55.5 313.29,55.5 317.33,55.5 321.38,55.5 325.42,55.5 329.47,55.5 333.51,55.5 337.56,55.5 341.6,55.5 345.64,55.5 349.69,55.5 353.73,55.5 357.78,55.5 361.82,55.5 365.87,55.5 369.91,55.5 373.96,55.5 378,55.5 378,59.4 373.96,59.4 369.91,59.4 365.87,59.4 361.82,59.4 357.78,59.4 353.73,59.4 349.69,59.4 345.64,59.4 341.6,59.4 337.56,59.4 333.51,59.4 329.47,59.4 325.42,59.4 321.38,59.4 317.33,59.4 313.29,59.4 309.24,59.4 305.2,59.4 301.16,59.4 297.11,59.4 293.07,59.4 289.02,59.4 284.98,59.4 280.93,59.4 276.89,59.4 272.84,59.4 268.8,59.4 264.76,59.4 260.71,59.4 256.67,59.4 252.62,59.4 248.58,59.4 244.53,59.4 240.49,59.4 236.44,59.4 232.4,59.4 228.36,59.4 224.31,59.4 220.27,59.4 216.22,59.4 212.18,59.4 208.13,59.4 204.09,59.4 200.04,59.4 196,59.4 191.96,59.4 187.91,59.4 183.87,59.4 179.82,59.4 175.78,59.4 171.73,59.4 167.69,59.4 163.64,59.4 159.6,59.4 155.56,59.4 151.51,59.4 147.47,59.4 143.42,59.4 139.38,59.4 135.33,59.4 131.29,59.4 127.24,59.4 123.2,59.4" fill="#1e1e1e" stroke="none" stroke-width="0" stroke-linejoin="miter"/>
<polygon points="123.2,91.5 127.24,91.5 131.29,91.5 135.33,91.5 139.38,91.5 143.42,91.5 147.47,91.5 151.51,91.5 155.56,91.5 159.6,91.5 163.64,91.5 167.69,91.5 171.73,91.5 175.78,91.5 179.82,91.5 183.87,91.5 187.91,91.5 191.96,91.5 196,91.5 200.04,91.5 204.09,91.5 208.13,91.5 212.18,91.5 216.22,91.5 220.27,91.5 224.31,91.5 228.36,91.5 232.4,91.5 236.44,91.5 240.49,91.5 244.53,91.5 248.58,91.5 252.62,91.5 256.67,91.5 260.71,91.5 264.76,91.5 268.8,91.5 272.84,91.5 276.89,91.5 280.93,91.5 284.98,91.5 289.02,91.5 293.07,91.5 297.11,91.5 301.16,91.5 305.2,91.5 309.24,91.5 313.29,91.5 317.33,91.5 321.38,91.5 325.42,91.5 329.47,91.5 333.51,91.5 337.56,91.5 341.6,91.5 345.64,91.5 349.69,91.5 353.73,91.5 357.78,91.5 361.82,91.5 365.87,91.5 369.91,91.5 373.96,91.5 378,91.5 378,96.2 373.96,96.2 369.91,96.2 365.87,96.2 361.82,96.2 357.78,96.2 353.73,96.2 349.69,96.2 345.64,96.2 341.6,96.2 337.56,96.2 333.51,96.2 329.47,96.2 325.42,96.2 321.38,96.2 317.33,96.2 313.29,96.2 309.24,96.2 305.2,96.2 301.16,96.2 297.11,96.2 293.07,96.2 289.02,96.2 284.98,96.2 280.93,96.2 276.89,96.2 272.84,96.2 268.8,96.2 264.76,96.2 260.71,96.2 256.67,96.2 252.62,96.2 248.58,96.2 244.53,96.2 240.49,96.2 236.44,96.2 232.4,96.2 228.36,96.2 224.31,96.2 220.27,96.2 216.22,96.2 212.18,96.2 208.13,96.2 204.09,96.2 200.04,96.2 196,96.2 191.96,96.2 187.91,96.2 183.87,96.2 179.82,96.2 175.78,96.2 171.73,96.2 167.69,96.2 163.64,96.2 159.6,96.2 155.56,96.2 151.51,96.2 147.47,96.2 143.42,96.2 139.38,96.2 135.33,96.2 131.29,96.2 127.24,96.2 123.2,96.2" fill="#1e1e1e" stroke="none" stroke-width="0" stroke-linejoin="miter"/>
<line x1="105" y1="61" x2="105" y2="90.6" stroke="#1e1e1e" stroke-width="1.4"/>
<line x1="112.3" y1="61" x2="112.3" y2="90.6" stroke="#1e1e1e" stroke-width="1.4"/>
<polygon points="105,61 112.3,61 112.3,66.5 105,66.5" fill="none" stroke="#2a2a2a" stroke-width="0.9" stroke-linejoin="miter"/>
<line x1="105.44" y1="61.33" x2="111.86" y2="66.17" stroke="#333" stroke-width="0.7"/>
<line x1="111.86" y1="61.33" x2="105.44" y2="66.17" stroke="#333" stroke-width="0.7"/>
<polygon points="105,85.1 112.3,85.1 112.3,90.6 105,90.6" fill="none" stroke="#2a2a2a" stroke-width="0.9" stroke-linejoin="miter"/>
<line x1="105.44" y1="85.43" x2="111.86" y2="90.27" stroke="#333" stroke-width="0.7"/>
<line x1="111.86" y1="85.43" x2="105.44" y2="90.27" stroke="#333" stroke-width="0.7"/>
<line x1="388.8" y1="61" x2="388.8" y2="90.6" stroke="#1e1e1e" stroke-width="1.4"/>
<line x1="396.2" y1="61" x2="396.2" y2="90.6" stroke="#1e1e1e" stroke-width="1.4"/>
<polygon points="388.8,61 396.2,61 396.2,66.5 388.8,66.5" fill="none" stroke="#2a2a2a" stroke-width="0.9" stroke-linejoin="miter"/>
<line x1="389.24" y1="61.33" x2="395.76" y2="66.17" stroke="#333" stroke-width="0.7"/>
<line x1="395.76" y1="61.33" x2="389.24" y2="66.17" stroke="#333" stroke-width="0.7"/>
<polygon points="388.8,85.1 396.2,85.1 396.2,90.6 388.8,90.6" fill="none" stroke="#2a2a2a" stroke-width="0.9" stroke-linejoin="miter"/>
<line x1="389.24" y1="85.43" x2="395.76" y2="90.27" stroke="#333" stroke-width="0.7"/>
<line x1="395.76" y1="85.43" x2="389.24" y2="90.27" stroke="#333" stroke-width="0.7"/>
<line x1="123.7" y1="61" x2="123.7" y2="90.6" stroke="#1e1e1e" stroke-width="1.4"/>
<line x1="377.5" y1="61" x2="377.5" y2="90.6" stroke="#1e1e1e" stroke-width="1.4"/>
<line x1="128.7" y1="83.02" x2="128.7" y2="88.81" stroke="#909090" stroke-width="0.7"/>
<polygon points="127.8,86.81 129.6,86.81 128.7,89.31" fill="#2a2a2a" stroke="none" stroke-width="0" stroke-linejoin="miter"/>
<line x1="134.01" y1="82.72" x2="134.01" y2="90.6" stroke="#404040" stroke-width="0.7"/>
<polygon points="133.11,86.9 134.91,86.9 134.01,84.3" fill="#2a2a2a" stroke="none" stroke-width="0" stroke-linejoin="miter"/>
<line x1="139.33" y1="82.43" x2="139.33" y2="88.71" stroke="#909090" stroke-width="0.7"/>
<polygon points="138.43,86.52 140.23,86.52 139.33,89.21" fill="#2a2a2a" stroke="none" stroke-width="0" stroke-linejoin="miter"/>
<line x1="144.64" y1="82.16" x2="144.64" y2="90.6" stroke="#404040" stroke-width="0.7"/>
<polygon points="143.74,86.63 145.54,86.63 144.64,83.85" fill="#2a2a2a" stroke="none" stroke-width="0" stroke-linejoin="miter"/>
<line x1="149.96" y1="81.9" x2="149.96" y2="88.62" stroke="#909090" stroke-width="0.7"/>
<polygon points="149.06,86.25 150.86,86.25 149.96,89.12" fill="#2a2a2a" stroke="none" stroke-width="0" stroke-linejoin="miter"/>
<line x1="155.27" y1="81.65" x2="155.27" y2="90.6" stroke="#404040" stroke-width="0.7"/>
<polygon points="154.37,86.39 156.17,86.39 155.27,83.44" fill="#2a2a2a" stroke="none" stroke-width="0" stroke-linejoin="miter"/>
<line x1="160.59" y1="81.41" x2="160.59" y2="88.54" stroke="#909090" stroke-width="0.7"/>
<polygon points="159.69,86.01 161.49,86.01 160.59,89.04" fill="#2a2a2a" stroke="none" stroke-width="0" stroke-linejoin="miter"/>
<line x1="165.91" y1="81.19" x2="165.91" y2="90.6" stroke="#404040" stroke-width="0.7"/>
<polygon points="165,86.18 166.81,86.18 165.91,83.08" fill="#2a2a2a" stroke="none" stroke-width="0" stroke-linejoin="miter"/>
<line x1="171.22" y1="80.99" x2="171.22" y2="88.47" stroke="#909090" stroke-width="0.7"/>
<polygon points="170.32,85.79 172.12,85.79 171.22,88.97" fill="#2a2a2a" stroke="none" stroke-width="0" stroke-linejoin="miter"/>
<line x1="176.53" y1="80.79" x2="176.53" y2="90.6" stroke="#404040" stroke-width="0.7"/>
<polygon points="175.63,85.96 177.44,85.96 176.53,82.76" fill="#2a2a2a" stroke="none" stroke-width="0" stroke-linejoin="miter"/>
<line x1="181.85" y1="80.61" x2="181.85" y2="88.4" stroke="#909090" stroke-width="0.7"/>
<polygon points="180.95,85.7 182.75,85.7 181.85,88.9" fill="#2a2a2a" stroke="none" stroke-width="0" stroke-linejoin="miter"/>
<line x1="187.16" y1="80.45" x2="187.16" y2="90.6" stroke="#404040" stroke-width="0.7"/>
<polygon points="186.26,85.68 188.06,85.68 187.16,82.48" fill="#2a2a2a" stroke="none" stroke-width="0" stroke-linejoin="miter"/>
<line x1="192.48" y1="80.29" x2="192.48" y2="88.35" stroke="#909090" stroke-width="0.7"/>
<polygon points="191.58,85.65 193.38,85.65 192.48,88.85" fill="#2a2a2a" stroke="none" stroke-width="0" stroke-linejoin="miter"/>
<line x1="197.79" y1="80.15" x2="197.79" y2="90.6" stroke="#404040" stroke-width="0.7"/>
<polygon points="196.89,85.44 198.69,85.44 197.79,82.24" fill="#2a2a2a" stroke="none" stroke-width="0" stroke-linejoin="miter"/>
<line x1="203.11" y1="80.03" x2="203.11" y2="88.3" stroke="#909090" stroke-width="0.7"/>
<polygon points="202.21,85.6 204.01,85.6 203.11,88.8" fill="#2a2a2a" stroke="none" stroke-width="0" stroke-linejoin="miter"/>
<line x1="208.43" y1="79.92" x2="208.43" y2="90.6" stroke="#404040" stroke-width="0.7"/>
<polygon points="207.53,85.25 209.33,85.25 208.43,82.05" fill="#2a2a2a" stroke="none" stroke-width="0" stroke-linejoin="miter"/>
<line x1="213.74" y1="79.82" x2="213.74" y2="88.27" stroke="#909090" stroke-width="0.7"/>
<polygon points="212.84,85.57 214.64,85.57 213.74,88.77" fill="#2a2a2a" stroke="none" stroke-width="0" stroke-linejoin="miter"/>
<line x1="219.06" y1="79.73" x2="219.06" y2="90.6" stroke="#404040" stroke-width="0.7"/>
<polygon points="218.16,85.11 219.96,85.11 219.06,81.91" fill="#2a2a2a" stroke="none" stroke-width="0" stroke-linejoin="miter"/>
<line x1="224.37" y1="79.66" x2="224.37" y2="88.24" stroke="#909090" stroke-width="0.7"/>
<polygon points="223.47,85.54 225.27,85.54 224.37,88.74" fill="#2a2a2a" stroke="none" stroke-width="0" stroke-linejoin="miter"/>
<line x1="229.69" y1="79.6" x2="229.69" y2="90.6" stroke="#404040" stroke-width="0.7"/>
<polygon points="228.78,85 230.59,85 229.69,81.8" fill="#2a2a2a" stroke="none" stroke-width="0" stroke-linejoin="miter"/>
<line x1="235" y1="79.56" x2="235" y2="88.22" stroke="#909090" stroke-width="0.7"/>
<polygon points="234.1,85.52 235.9,85.52 235,88.72" fill="#2a2a2a" stroke="none" stroke-width="0" stroke-linejoin="miter"/>
<line x1="240.31" y1="79.52" x2="240.31" y2="90.6" stroke="#404040" stroke-width="0.7"/>
<polygon points="239.41,84.92 241.22,84.92 240.31,81.72" fill="#2a2a2a" stroke="none" stroke-width="0" stroke-linejoin="miter"/>
<line x1="245.63" y1="79.5" x2="245.63" y2="88.21" stroke="#909090" stroke-width="0.7"/>
<polygon points="244.73,85.51 246.53,85.51 245.63,88.71" fill="#2a2a2a" stroke="none" stroke-width="0" stroke-linejoin="miter"/>
<line x1="250.94" y1="79.5" x2="250.94" y2="90.6" stroke="#404040" stroke-width="0.7"/>
<polygon points="250.04,84.9 251.84,84.9 250.94,81.7" fill="#2a2a2a" stroke="none" stroke-width="0" stroke-linejoin="miter"/>
<line x1="256.26" y1="79.51" x2="256.26" y2="88.21" stroke="#909090" stroke-width="0.7"/>
<polygon points="255.36,85.51 257.16,85.51 256.26,88.71" fill="#2a2a2a" stroke="none" stroke-width="0" stroke-linejoin="miter"/>
<line x1="261.57" y1="79.53" x2="261.57" y2="90.6" stroke="#404040" stroke-width="0.7"/>
<polygon points="260.68,84.93 262.47,84.93 261.57,81.73" fill="#2a2a2a" stroke="none" stroke-width="0" stroke-linejoin="miter"/>
<line x1="266.89" y1="79.57" x2="266.89" y2="88.22" stroke="#909090" stroke-width="0.7"/>
<polygon points="265.99,85.52 267.79,85.52 266.89,88.72" fill="#2a2a2a" stroke="none" stroke-width="0" stroke-linejoin="miter"/>
<line x1="272.21" y1="79.62" x2="272.21" y2="90.6" stroke="#404040" stroke-width="0.7"/>
<polygon points="271.31,85.01 273.11,85.01 272.21,81.81" fill="#2a2a2a" stroke="none" stroke-width="0" stroke-linejoin="miter"/>
<line x1="277.52" y1="79.68" x2="277.52" y2="88.24" stroke="#909090" stroke-width="0.7"/>
<polygon points="276.62,85.54 278.42,85.54 277.52,88.74" fill="#2a2a2a" stroke="none" stroke-width="0" stroke-linejoin="miter"/>
<line x1="282.84" y1="79.75" x2="282.84" y2="90.6" stroke="#404040" stroke-width="0.7"/>
<polygon points="281.94,85.12 283.74,85.12 282.84,81.92" fill="#2a2a2a" stroke="none" stroke-width="0" stroke-linejoin="miter"/>
<line x1="288.15" y1="79.84" x2="288.15" y2="88.27" stroke="#909090" stroke-width="0.7"/>
<polygon points="287.25,85.57 289.05,85.57 288.15,88.77" fill="#2a2a2a" stroke="none" stroke-width="0" stroke-linejoin="miter"/>
<line x1="293.47" y1="79.95" x2="293.47" y2="90.6" stroke="#404040" stroke-width="0.7"/>
<polygon points="292.57,85.28 294.37,85.28 293.47,82.08" fill="#2a2a2a" stroke="none" stroke-width="0" stroke-linejoin="miter"/>
<line x1="298.78" y1="80.06" x2="298.78" y2="88.31" stroke="#909090" stroke-width="0.7"/>
<polygon points="297.88,85.61 299.68,85.61 298.78,88.81" fill="#2a2a2a" stroke="none" stroke-width="0" stroke-linejoin="miter"/>
<line x1="304.1" y1="80.19" x2="304.1" y2="90.6" stroke="#404040" stroke-width="0.7"/>
<polygon points="303.2,85.47 305,85.47 304.1,82.27" fill="#2a2a2a" stroke="none" stroke-width="0" stroke-linejoin="miter"/>
<line x1="309.41" y1="80.34" x2="309.41" y2="88.36" stroke="#909090" stroke-width="0.7"/>
<polygon points="308.51,85.66 310.31,85.66 309.41,88.86" fill="#2a2a2a" stroke="none" stroke-width="0" stroke-linejoin="miter"/>
<line x1="314.73" y1="80.49" x2="314.73" y2="90.6" stroke="#404040" stroke-width="0.7"/>
<polygon points="313.83,85.71 315.62,85.71 314.73,82.51" fill="#2a2a2a" stroke="none" stroke-width="0" stroke-linejoin="miter"/>
<line x1="320.04" y1="80.66" x2="320.04" y2="88.41" stroke="#909090" stroke-width="0.7"/>
<polygon points="319.14,85.71 320.94,85.71 320.04,88.91" fill="#2a2a2a" stroke="none" stroke-width="0" stroke-linejoin="miter"/>
<line x1="325.36" y1="80.85" x2="325.36" y2="90.6" stroke="#404040" stroke-width="0.7"/>
<polygon points="324.46,86 326.25,86 325.36,82.8" fill="#2a2a2a" stroke="none" stroke-width="0" stroke-linejoin="miter"/>
<line x1="330.67" y1="81.04" x2="330.67" y2="88.48" stroke="#909090" stroke-width="0.7"/>
<polygon points="329.77,85.82 331.57,85.82 330.67,88.98" fill="#2a2a2a" stroke="none" stroke-width="0" stroke-linejoin="miter"/>
<line x1="335.99" y1="81.25" x2="335.99" y2="90.6" stroke="#404040" stroke-width="0.7"/>
<polygon points="335.09,86.21 336.88,86.21 335.99,83.12" fill="#2a2a2a" stroke="none" stroke-width="0" stroke-linejoin="miter"/>
<line x1="341.3" y1="81.48" x2="341.3" y2="88.55" stroke="#909090" stroke-width="0.7"/>
<polygon points="340.4,86.04 342.2,86.04 341.3,89.05" fill="#2a2a2a" stroke="none" stroke-width="0" stroke-linejoin="miter"/>
<line x1="346.62" y1="81.72" x2="346.62" y2="90.6" stroke="#404040" stroke-width="0.7"/>
<polygon points="345.72,86.42 347.51,86.42 346.62,83.49" fill="#2a2a2a" stroke="none" stroke-width="0" stroke-linejoin="miter"/>
<line x1="351.93" y1="81.97" x2="351.93" y2="88.63" stroke="#909090" stroke-width="0.7"/>
<polygon points="351.03,86.28 352.83,86.28 351.93,89.13" fill="#2a2a2a" stroke="none" stroke-width="0" stroke-linejoin="miter"/>
<line x1="357.25" y1="82.23" x2="357.25" y2="90.6" stroke="#404040" stroke-width="0.7"/>
<polygon points="356.35,86.67 358.14,86.67 357.25,83.91" fill="#2a2a2a" stroke="none" stroke-width="0" stroke-linejoin="miter"/>
<line x1="362.56" y1="82.51" x2="362.56" y2="88.72" stroke="#909090" stroke-width="0.7"/>
<polygon points="361.66,86.56 363.46,86.56 362.56,89.22" fill="#2a2a2a" stroke="none" stroke-width="0" stroke-linejoin="miter"/>
<line x1="367.88" y1="82.8" x2="367.88" y2="90.6" stroke="#404040" stroke-width="0.7"/>
<polygon points="366.98,86.94 368.77,86.94 367.88,84.36" fill="#2a2a2a" stroke="none" stroke-width="0" stroke-linejoin="miter"/>
<line x1="373.19" y1="83.11" x2="373.19" y2="88.83" stroke="#909090" stroke-width="0.7"/>
<polygon points="372.29,86.85 374.09,86.85 373.19,89.33" fill="#2a2a2a" stroke="none" stroke-width="0" stroke-linejoin="miter"/>
</g>
<polygon points="62.81,298.03 66.84,297.68 70.88,297.34 74.92,297 78.96,296.68 82.99,296.36 87.03,296.05 91.07,295.74 95.11,295.44 99.14,295.15 103.18,294.87 107.22,294.6 111.26,294.33 115.29,294.07 119.33,293.82 123.37,293.58 127.41,293.34 131.44,293.11 135.48,292.89 139.52,292.68 143.56,292.47 147.59,292.28 151.63,292.09 155.67,291.9 159.71,291.73 163.74,291.56 167.78,291.4 171.82,291.25 175.86,291.1 179.89,290.97 183.93,290.84 187.97,290.71 192.01,290.6 196.04,290.49 200.08,290.39 204.12,290.3 208.16,290.22 212.19,290.14 216.23,290.08 220.27,290.01 224.31,289.96 228.34,289.92 232.38,289.88 236.42,289.85 240.46,289.82 244.49,289.81 248.53,289.8 252.57,289.8 256.61,289.81 260.64,289.82 264.68,289.85 268.72,289.88 272.76,289.92 276.79,289.96 280.83,290.01 284.87,290.08 288.91,290.14 292.94,290.22 296.98,290.3 301.02,290.39 305.06,290.49 309.09,290.6 313.13,290.71 317.17,290.84 321.21,290.97 325.24,291.1 329.28,291.25 333.32,291.4 337.36,291.56 341.39,291.73 345.43,291.9 349.47,292.09 353.51,292.28 357.54,292.47 361.58,292.68 365.62,292.89 369.66,293.11 373.69,293.34 377.73,293.58 381.77,293.82 385.81,294.07 389.84,294.33 393.88,294.6 397.92,294.87 401.96,295.15 405.99,295.44 410.03,295.74 414.07,296.05 418.11,296.36 422.14,296.68 426.18,297 430.22,297.34 434.26,297.68 438.29,298.03 436.81,314.97 432.8,314.62 428.8,314.28 424.79,313.95 420.78,313.62 416.78,313.31 412.77,313 408.77,312.69 404.76,312.4 400.76,312.11 396.75,311.83 392.75,311.56 388.74,311.3 384.73,311.04 380.73,310.79 376.72,310.55 372.72,310.31 368.71,310.09 364.71,309.87 360.7,309.66 356.7,309.45 352.69,309.26 348.68,309.07 344.68,308.89 340.67,308.71 336.67,308.55 332.66,308.39 328.66,308.24 324.65,308.09 320.65,307.96 316.64,307.83 312.63,307.71 308.63,307.59 304.62,307.49 300.62,307.39 296.61,307.3 292.61,307.22 288.6,307.14 284.6,307.07 280.59,307.01 276.59,306.96 272.58,306.91 268.57,306.88 264.57,306.85 260.56,306.82 256.56,306.81 252.55,306.8 248.55,306.8 244.54,306.81 240.54,306.82 236.53,306.85 232.53,306.88 228.52,306.91 224.51,306.96 220.51,307.01 216.5,307.07 212.5,307.14 208.49,307.22 204.49,307.3 200.48,307.39 196.48,307.49 192.47,307.59 188.47,307.71 184.46,307.83 180.45,307.96 176.45,308.09 172.44,308.24 168.44,308.39 164.43,308.55 160.43,308.71 156.42,308.89 152.42,309.07 148.41,309.26 144.4,309.45 140.4,309.66 136.39,309.87 132.39,310.09 128.38,310.31 124.38,310.55 120.37,310.79 116.37,311.04 112.36,311.3 108.35,311.56 104.35,311.83 100.34,312.11 96.34,312.4 92.33,312.69 88.33,313 84.32,313.31 80.32,313.62 76.31,313.95 72.3,314.28 68.3,314.62 64.29,314.97" fill="none" stroke="#1e1e1e" stroke-width="1.45" stroke-linejoin="miter"/>
<polyline points="65.05,306.37 69.08,306.02 73.12,305.68 77.15,305.35 81.18,305.03 85.21,304.71 89.25,304.4 93.28,304.1 97.31,303.81 101.34,303.52 105.38,303.24 109.41,302.97 113.44,302.71 117.47,302.45 121.51,302.2 125.54,301.96 129.57,301.73 133.6,301.51 137.64,301.29 141.67,301.08 145.7,300.88 149.73,300.68 153.77,300.5 157.8,300.32 161.83,300.15 165.87,299.98 169.9,299.83 173.93,299.68 177.96,299.54 182,299.4 186.03,299.28 190.06,299.16 194.09,299.05 198.13,298.94 202.16,298.85 206.19,298.76 210.22,298.68 214.26,298.61 218.29,298.54 222.32,298.49 226.35,298.44 230.39,298.4 234.42,298.36 238.45,298.33 242.48,298.32 246.52,298.3 250.55,298.3 254.58,298.3 258.62,298.32 262.65,298.33 266.68,298.36 270.71,298.4 274.75,298.44 278.78,298.49 282.81,298.54 286.84,298.61 290.88,298.68 294.91,298.76 298.94,298.85 302.97,298.94 307.01,299.05 311.04,299.16 315.07,299.28 319.1,299.4 323.14,299.54 327.17,299.68 331.2,299.83 335.23,299.98 339.27,300.15 343.3,300.32 347.33,300.5 351.37,300.68 355.4,300.88 359.43,301.08 363.46,301.29 367.5,301.51 371.53,301.73 375.56,301.96 379.59,302.2 383.63,302.45 387.66,302.71 391.69,302.97 395.72,303.24 399.76,303.52 403.79,303.81 407.82,304.1 411.85,304.4 415.89,304.71 419.92,305.03 423.95,305.35 427.98,305.68 432.02,306.02 436.05,306.37" fill="none" stroke="#777" stroke-width="1" stroke-dasharray="3.3 2.3"/>
<polygon points="90.41,285.98 94.47,285.8 98.54,285.63 102.61,285.46 106.67,285.3 110.74,285.14 114.81,284.99 118.87,284.84 122.94,284.7 127,284.56 131.07,284.42 135.14,284.29 139.2,284.17 143.27,284.05 147.34,283.93 151.4,283.82 155.47,283.71 159.54,283.61 163.6,283.51 167.67,283.41 171.74,283.33 175.8,283.24 179.87,283.16 183.94,283.09 188,283.01 192.07,282.95 196.14,282.89 200.2,282.83 204.27,282.78 208.33,282.73 212.4,282.69 216.47,282.65 220.53,282.61 224.6,282.58 228.67,282.56 232.73,282.54 236.8,282.52 240.87,282.51 244.93,282.5 249,282.5 253.07,282.5 257.13,282.51 261.2,282.52 265.27,282.54 269.33,282.56 273.4,282.58 277.47,282.61 281.53,282.65 285.6,282.69 289.67,282.73 293.73,282.78 297.8,282.83 301.86,282.89 305.93,282.95 310,283.01 314.06,283.09 318.13,283.16 322.2,283.24 326.26,283.33 330.33,283.41 334.4,283.51 338.46,283.61 342.53,283.71 346.6,283.82 350.66,283.93 354.73,284.05 358.8,284.17 362.86,284.29 366.93,284.42 371,284.56 375.06,284.7 379.13,284.84 383.19,284.99 387.26,285.14 391.33,285.3 395.39,285.46 399.46,285.63 403.53,285.8 407.59,285.98 406.01,322.14 401.98,321.97 397.96,321.8 393.93,321.63 389.9,321.47 385.88,321.32 381.85,321.17 377.83,321.02 373.8,320.88 369.77,320.74 365.75,320.6 361.72,320.48 357.7,320.35 353.67,320.23 349.65,320.12 345.62,320 341.59,319.9 337.57,319.8 333.54,319.7 329.52,319.61 325.49,319.52 321.46,319.43 317.44,319.35 313.41,319.28 309.39,319.21 305.36,319.14 301.34,319.08 297.31,319.03 293.28,318.97 289.26,318.93 285.23,318.88 281.21,318.84 277.18,318.81 273.15,318.78 269.13,318.76 265.1,318.74 261.08,318.72 257.05,318.71 253.03,318.7 249,318.7 244.97,318.7 240.95,318.71 236.92,318.72 232.9,318.74 228.87,318.76 224.85,318.78 220.82,318.81 216.79,318.84 212.77,318.88 208.74,318.93 204.72,318.97 200.69,319.03 196.66,319.08 192.64,319.14 188.61,319.21 184.59,319.28 180.56,319.35 176.54,319.43 172.51,319.52 168.48,319.61 164.46,319.7 160.43,319.8 156.41,319.9 152.38,320 148.35,320.12 144.33,320.23 140.3,320.35 136.28,320.48 132.25,320.6 128.23,320.74 124.2,320.88 120.17,321.02 116.15,321.17 112.12,321.32 108.1,321.47 104.07,321.63 100.04,321.8 96.02,321.97 91.99,322.14" fill="none" stroke="#1e1e1e" stroke-width="1.45" stroke-linejoin="miter"/>
<polyline points="90.54,288.98 94.6,288.8 98.66,288.63 102.73,288.46 106.79,288.3 110.85,288.14 114.92,287.99 118.98,287.84 123.04,287.7 127.11,287.56 131.17,287.42 135.23,287.29 139.3,287.17 143.36,287.04 147.42,286.93 151.48,286.82 155.55,286.71 159.61,286.61 163.67,286.51 167.74,286.41 171.8,286.32 175.86,286.24 179.93,286.16 183.99,286.09 188.05,286.01 192.12,285.95 196.18,285.89 200.24,285.83 204.31,285.78 208.37,285.73 212.43,285.69 216.49,285.65 220.56,285.61 224.62,285.58 228.68,285.56 232.75,285.54 236.81,285.52 240.87,285.51 244.94,285.5 249,285.5 253.06,285.5 257.13,285.51 261.19,285.52 265.25,285.54 269.32,285.56 273.38,285.58 277.44,285.61 281.51,285.65 285.57,285.69 289.63,285.73 293.69,285.78 297.76,285.83 301.82,285.89 305.88,285.95 309.95,286.01 314.01,286.09 318.07,286.16 322.14,286.24 326.2,286.32 330.26,286.41 334.33,286.51 338.39,286.61 342.45,286.71 346.52,286.82 350.58,286.93 354.64,287.04 358.7,287.17 362.77,287.29 366.83,287.42 370.89,287.56 374.96,287.7 379.02,287.84 383.08,287.99 387.15,288.14 391.21,288.3 395.27,288.46 399.34,288.63 403.4,288.8 407.46,288.98" fill="none" stroke="#2a2a2a" stroke-width="1" />
<polyline points="91.85,318.95 95.88,318.77 99.91,318.6 103.94,318.44 107.97,318.28 112,318.12 116.03,317.97 120.06,317.82 124.09,317.68 128.12,317.54 132.15,317.41 136.18,317.28 140.21,317.15 144.24,317.03 148.26,316.92 152.29,316.81 156.32,316.7 160.35,316.6 164.38,316.5 168.41,316.41 172.44,316.32 176.47,316.23 180.5,316.15 184.53,316.08 188.56,316.01 192.59,315.94 196.62,315.88 200.65,315.83 204.68,315.77 208.71,315.73 212.74,315.68 216.76,315.65 220.79,315.61 224.82,315.58 228.85,315.56 232.88,315.54 236.91,315.52 240.94,315.51 244.97,315.5 249,315.5 253.03,315.5 257.06,315.51 261.09,315.52 265.12,315.54 269.15,315.56 273.18,315.58 277.21,315.61 281.24,315.65 285.26,315.68 289.29,315.73 293.32,315.77 297.35,315.83 301.38,315.88 305.41,315.94 309.44,316.01 313.47,316.08 317.5,316.15 321.53,316.23 325.56,316.32 329.59,316.41 333.62,316.5 337.65,316.6 341.68,316.7 345.71,316.81 349.74,316.92 353.76,317.03 357.79,317.15 361.82,317.28 365.85,317.41 369.88,317.54 373.91,317.68 377.94,317.82 381.97,317.97 386,318.12 390.03,318.28 394.06,318.44 398.09,318.6 402.12,318.77 406.15,318.95" fill="none" stroke="#2a2a2a" stroke-width="1" />
<polygon points="122.34,281.12 126.38,280.98 130.42,280.84 134.46,280.71 138.49,280.59 142.53,280.47 146.57,280.35 150.61,280.24 154.65,280.13 158.69,280.03 162.73,279.93 166.76,279.83 170.8,279.74 174.84,279.66 178.88,279.58 182.92,279.5 186.96,279.43 191,279.36 195.03,279.3 199.07,279.24 203.11,279.19 207.15,279.14 211.19,279.1 215.23,279.06 219.26,279.02 223.3,278.99 227.34,278.96 231.38,278.94 235.42,278.93 239.46,278.91 243.5,278.9 247.53,278.9 251.57,278.9 255.61,278.91 259.65,278.92 263.69,278.93 267.73,278.95 271.77,278.97 275.8,279 279.84,279.03 283.88,279.07 287.92,279.11 291.96,279.15 296,279.21 300.03,279.26 304.07,279.32 308.11,279.38 312.15,279.45 316.19,279.52 320.23,279.6 324.27,279.68 328.3,279.77 332.34,279.86 336.38,279.95 340.42,280.05 344.46,280.16 348.5,280.27 352.53,280.38 356.57,280.5 360.61,280.62 364.65,280.75 368.69,280.88 372.73,281.02 376.77,281.16 376.62,285.25 372.59,285.11 368.55,284.98 364.52,284.85 360.49,284.72 356.45,284.6 352.42,284.48 348.38,284.37 344.35,284.26 340.32,284.15 336.28,284.05 332.25,283.96 328.21,283.87 324.18,283.78 320.15,283.7 316.11,283.62 312.08,283.55 308.04,283.48 304.01,283.42 299.98,283.36 295.94,283.3 291.91,283.25 287.87,283.21 283.84,283.17 279.81,283.13 275.77,283.1 271.74,283.07 267.71,283.05 263.67,283.03 259.64,283.02 255.6,283.01 251.57,283 247.54,283 243.5,283 239.47,283.01 235.43,283.03 231.4,283.04 227.37,283.06 223.33,283.09 219.3,283.12 215.26,283.16 211.23,283.2 207.2,283.24 203.16,283.29 199.13,283.34 195.09,283.4 191.06,283.46 187.03,283.53 182.99,283.6 178.96,283.68 174.93,283.76 170.89,283.84 166.86,283.93 162.82,284.03 158.79,284.13 154.76,284.23 150.72,284.34 146.69,284.45 142.65,284.56 138.62,284.69 134.59,284.81 130.55,284.94 126.52,285.08 122.48,285.21" fill="#1e1e1e" stroke="none" stroke-width="0" stroke-linejoin="miter"/>
<polygon points="123.72,320.39 127.71,320.25 131.7,320.12 135.7,319.99 139.69,319.87 143.69,319.75 147.68,319.63 151.68,319.52 155.67,319.42 159.67,319.31 163.66,319.22 167.66,319.12 171.65,319.04 175.65,318.95 179.64,318.87 183.64,318.8 187.63,318.73 191.62,318.66 195.62,318.6 199.61,318.54 203.61,318.49 207.6,318.44 211.6,318.4 215.59,318.36 219.59,318.32 223.58,318.29 227.58,318.26 231.57,318.24 235.57,318.23 239.56,318.21 243.56,318.2 247.55,318.2 251.54,318.2 255.54,318.21 259.53,318.22 263.53,318.23 267.52,318.25 271.52,318.27 275.51,318.3 279.51,318.33 283.5,318.37 287.5,318.41 291.49,318.45 295.49,318.5 299.48,318.56 303.48,318.61 307.47,318.68 311.46,318.75 315.46,318.82 319.45,318.89 323.45,318.97 327.44,319.06 331.44,319.15 335.43,319.24 339.43,319.34 343.42,319.45 347.42,319.55 351.41,319.66 355.41,319.78 359.4,319.9 363.39,320.03 367.39,320.16 371.38,320.29 375.38,320.43 375.23,324.63 371.24,324.49 367.25,324.36 363.26,324.23 359.27,324.1 355.28,323.98 351.29,323.86 347.3,323.75 343.31,323.64 339.32,323.54 335.33,323.44 331.34,323.35 327.35,323.26 323.36,323.17 319.37,323.09 315.38,323.02 311.39,322.94 307.4,322.88 303.41,322.81 299.42,322.76 295.43,322.7 291.44,322.65 287.45,322.61 283.46,322.57 279.47,322.53 275.48,322.5 271.49,322.47 267.5,322.45 263.51,322.43 259.52,322.42 255.53,322.41 251.54,322.4 247.55,322.4 243.56,322.4 239.57,322.41 235.58,322.43 231.59,322.44 227.6,322.46 223.61,322.49 219.62,322.52 215.63,322.56 211.64,322.6 207.65,322.64 203.66,322.69 199.67,322.74 195.68,322.8 191.69,322.86 187.7,322.93 183.71,323 179.72,323.07 175.73,323.15 171.74,323.23 167.75,323.32 163.76,323.42 159.77,323.51 155.78,323.62 151.79,323.72 147.8,323.83 143.81,323.95 139.82,324.07 135.83,324.19 131.84,324.32 127.85,324.45 123.86,324.59" fill="#1e1e1e" stroke="none" stroke-width="0" stroke-linejoin="miter"/>
<line x1="103.39" y1="288.43" x2="104.6" y2="318.41" stroke="#1e1e1e" stroke-width="1.4"/>
<line x1="110.62" y1="288.15" x2="111.77" y2="318.13" stroke="#1e1e1e" stroke-width="1.4"/>
<polygon points="103.39,288.43 110.62,288.15 110.81,293.15 103.59,293.43" fill="none" stroke="#2a2a2a" stroke-width="0.9" stroke-linejoin="miter"/>
<line x1="103.84" y1="288.72" x2="110.37" y2="292.86" stroke="#333" stroke-width="0.7"/>
<line x1="110.2" y1="288.47" x2="104.01" y2="293.11" stroke="#333" stroke-width="0.7"/>
<polygon points="104.39,313.21 111.57,312.93 111.77,318.13 104.6,318.41" fill="none" stroke="#2a2a2a" stroke-width="0.9" stroke-linejoin="miter"/>
<line x1="104.83" y1="313.51" x2="111.33" y2="317.83" stroke="#333" stroke-width="0.7"/>
<line x1="111.15" y1="313.26" x2="105.02" y2="318.08" stroke="#333" stroke-width="0.7"/>
<line x1="388.68" y1="288.2" x2="387.52" y2="318.18" stroke="#1e1e1e" stroke-width="1.4"/>
<line x1="395.61" y1="288.48" x2="394.4" y2="318.45" stroke="#1e1e1e" stroke-width="1.4"/>
<polygon points="388.68,288.2 395.61,288.48 395.41,293.47 388.49,293.2" fill="none" stroke="#2a2a2a" stroke-width="0.9" stroke-linejoin="miter"/>
<line x1="389.09" y1="288.52" x2="395.01" y2="293.16" stroke="#333" stroke-width="0.7"/>
<line x1="395.18" y1="288.76" x2="388.92" y2="292.91" stroke="#333" stroke-width="0.7"/>
<polygon points="387.73,312.98 394.61,313.25 394.4,318.45 387.52,318.18" fill="none" stroke="#2a2a2a" stroke-width="0.9" stroke-linejoin="miter"/>
<line x1="388.13" y1="313.31" x2="394" y2="318.12" stroke="#333" stroke-width="0.7"/>
<line x1="394.18" y1="313.55" x2="387.95" y2="317.88" stroke="#333" stroke-width="0.7"/>
<line x1="122.35" y1="281.42" x2="123.85" y2="324.29" stroke="#1e1e1e" stroke-width="1.45"/>
<line x1="376.76" y1="281.46" x2="375.24" y2="324.33" stroke="#1e1e1e" stroke-width="1.45"/>
<line x1="129.6" y1="310.22" x2="129.6" y2="315.74" stroke="#909090" stroke-width="0.7"/>
<polygon points="128.7,313.85 130.5,313.85 129.6,316.24" fill="#2a2a2a" stroke="none" stroke-width="0" stroke-linejoin="miter"/>
<line x1="135" y1="309.92" x2="135" y2="317.3" stroke="#404040" stroke-width="0.7"/>
<polygon points="134.1,313.83 135.9,313.83 135,311.39" fill="#2a2a2a" stroke="none" stroke-width="0" stroke-linejoin="miter"/>
<line x1="140.4" y1="309.63" x2="140.4" y2="315.36" stroke="#909090" stroke-width="0.7"/>
<polygon points="139.5,313.38 141.3,313.38 140.4,315.86" fill="#2a2a2a" stroke="none" stroke-width="0" stroke-linejoin="miter"/>
<line x1="145.8" y1="309.36" x2="145.8" y2="316.97" stroke="#404040" stroke-width="0.7"/>
<polygon points="144.9,313.4 146.7,313.4 145.8,310.89" fill="#2a2a2a" stroke="none" stroke-width="0" stroke-linejoin="miter"/>
<line x1="151.2" y1="309.11" x2="151.2" y2="315.01" stroke="#909090" stroke-width="0.7"/>
<polygon points="150.3,312.96 152.1,312.96 151.2,315.51" fill="#2a2a2a" stroke="none" stroke-width="0" stroke-linejoin="miter"/>
<line x1="156.6" y1="308.86" x2="156.6" y2="316.68" stroke="#404040" stroke-width="0.7"/>
<polygon points="155.7,313.01 157.5,313.01 156.6,310.43" fill="#2a2a2a" stroke="none" stroke-width="0" stroke-linejoin="miter"/>
<line x1="162" y1="308.63" x2="162" y2="314.7" stroke="#909090" stroke-width="0.7"/>
<polygon points="161.1,312.59 162.9,312.59 162,315.2" fill="#2a2a2a" stroke="none" stroke-width="0" stroke-linejoin="miter"/>
<line x1="167.4" y1="308.41" x2="167.4" y2="316.42" stroke="#404040" stroke-width="0.7"/>
<polygon points="166.5,312.66 168.3,312.66 167.4,310.02" fill="#2a2a2a" stroke="none" stroke-width="0" stroke-linejoin="miter"/>
<line x1="172.8" y1="308.21" x2="172.8" y2="314.43" stroke="#909090" stroke-width="0.7"/>
<polygon points="171.9,312.26 173.7,312.26 172.8,314.93" fill="#2a2a2a" stroke="none" stroke-width="0" stroke-linejoin="miter"/>
<line x1="178.2" y1="308.02" x2="178.2" y2="316.19" stroke="#404040" stroke-width="0.7"/>
<polygon points="177.3,312.35 179.1,312.35 178.2,309.66" fill="#2a2a2a" stroke="none" stroke-width="0" stroke-linejoin="miter"/>
<line x1="183.6" y1="307.85" x2="183.6" y2="314.19" stroke="#909090" stroke-width="0.7"/>
<polygon points="182.7,311.97 184.5,311.97 183.6,314.69" fill="#2a2a2a" stroke="none" stroke-width="0" stroke-linejoin="miter"/>
<line x1="189" y1="307.68" x2="189" y2="316" stroke="#404040" stroke-width="0.7"/>
<polygon points="188.1,312.09 189.9,312.09 189,309.35" fill="#2a2a2a" stroke="none" stroke-width="0" stroke-linejoin="miter"/>
<line x1="194.4" y1="307.54" x2="194.4" y2="313.99" stroke="#909090" stroke-width="0.7"/>
<polygon points="193.5,311.72 195.3,311.72 194.4,314.49" fill="#2a2a2a" stroke="none" stroke-width="0" stroke-linejoin="miter"/>
<line x1="199.8" y1="307.4" x2="199.8" y2="315.84" stroke="#404040" stroke-width="0.7"/>
<polygon points="198.9,311.87 200.7,311.87 199.8,309.09" fill="#2a2a2a" stroke="none" stroke-width="0" stroke-linejoin="miter"/>
<line x1="205.2" y1="307.28" x2="205.2" y2="313.82" stroke="#909090" stroke-width="0.7"/>
<polygon points="204.3,311.52 206.1,311.52 205.2,314.32" fill="#2a2a2a" stroke="none" stroke-width="0" stroke-linejoin="miter"/>
<line x1="210.6" y1="307.17" x2="210.6" y2="315.7" stroke="#404040" stroke-width="0.7"/>
<polygon points="209.7,311.69 211.5,311.69 210.6,308.88" fill="#2a2a2a" stroke="none" stroke-width="0" stroke-linejoin="miter"/>
<line x1="216" y1="307.08" x2="216" y2="313.69" stroke="#909090" stroke-width="0.7"/>
<polygon points="215.1,311.36 216.9,311.36 216,314.19" fill="#2a2a2a" stroke="none" stroke-width="0" stroke-linejoin="miter"/>
<line x1="221.4" y1="307" x2="221.4" y2="315.61" stroke="#404040" stroke-width="0.7"/>
<polygon points="220.5,311.56 222.3,311.56 221.4,308.72" fill="#2a2a2a" stroke="none" stroke-width="0" stroke-linejoin="miter"/>
<line x1="226.8" y1="306.93" x2="226.8" y2="313.6" stroke="#909090" stroke-width="0.7"/>
<polygon points="225.9,311.25 227.7,311.25 226.8,314.1" fill="#2a2a2a" stroke="none" stroke-width="0" stroke-linejoin="miter"/>
<line x1="232.2" y1="306.88" x2="232.2" y2="315.54" stroke="#404040" stroke-width="0.7"/>
<polygon points="231.3,311.47 233.1,311.47 232.2,308.61" fill="#2a2a2a" stroke="none" stroke-width="0" stroke-linejoin="miter"/>
<line x1="237.6" y1="306.84" x2="237.6" y2="313.54" stroke="#909090" stroke-width="0.7"/>
<polygon points="236.7,311.18 238.5,311.18 237.6,314.04" fill="#2a2a2a" stroke="none" stroke-width="0" stroke-linejoin="miter"/>
<line x1="243" y1="306.81" x2="243" y2="315.5" stroke="#404040" stroke-width="0.7"/>
<polygon points="242.1,311.42 243.9,311.42 243,308.55" fill="#2a2a2a" stroke="none" stroke-width="0" stroke-linejoin="miter"/>
<line x1="248.4" y1="306.8" x2="248.4" y2="313.52" stroke="#909090" stroke-width="0.7"/>
<polygon points="247.5,311.15 249.3,311.15 248.4,314.02" fill="#2a2a2a" stroke="none" stroke-width="0" stroke-linejoin="miter"/>
<line x1="253.8" y1="306.8" x2="253.8" y2="315.5" stroke="#404040" stroke-width="0.7"/>
<polygon points="252.9,311.41 254.7,311.41 253.8,308.54" fill="#2a2a2a" stroke="none" stroke-width="0" stroke-linejoin="miter"/>
<line x1="259.2" y1="306.82" x2="259.2" y2="313.54" stroke="#909090" stroke-width="0.7"/>
<polygon points="258.3,311.17 260.1,311.17 259.2,314.04" fill="#2a2a2a" stroke="none" stroke-width="0" stroke-linejoin="miter"/>
<line x1="264.6" y1="306.85" x2="264.6" y2="315.53" stroke="#404040" stroke-width="0.7"/>
<polygon points="263.7,311.45 265.5,311.45 264.6,308.58" fill="#2a2a2a" stroke="none" stroke-width="0" stroke-linejoin="miter"/>
<line x1="270" y1="306.89" x2="270" y2="313.59" stroke="#909090" stroke-width="0.7"/>
<polygon points="269.1,311.22 270.9,311.22 270,314.09" fill="#2a2a2a" stroke="none" stroke-width="0" stroke-linejoin="miter"/>
<line x1="275.4" y1="306.94" x2="275.4" y2="315.6" stroke="#404040" stroke-width="0.7"/>
<polygon points="274.5,311.53 276.3,311.53 275.4,308.67" fill="#2a2a2a" stroke="none" stroke-width="0" stroke-linejoin="miter"/>
<line x1="280.8" y1="307.01" x2="280.8" y2="313.67" stroke="#909090" stroke-width="0.7"/>
<polygon points="279.9,311.33 281.7,311.33 280.8,314.17" fill="#2a2a2a" stroke="none" stroke-width="0" stroke-linejoin="miter"/>
<line x1="286.2" y1="307.1" x2="286.2" y2="315.69" stroke="#404040" stroke-width="0.7"/>
<polygon points="285.3,311.65 287.1,311.65 286.2,308.82" fill="#2a2a2a" stroke="none" stroke-width="0" stroke-linejoin="miter"/>
<line x1="291.6" y1="307.19" x2="291.6" y2="313.8" stroke="#909090" stroke-width="0.7"/>
<polygon points="290.7,311.47 292.5,311.47 291.6,314.3" fill="#2a2a2a" stroke="none" stroke-width="0" stroke-linejoin="miter"/>
<line x1="297" y1="307.3" x2="297" y2="315.82" stroke="#404040" stroke-width="0.7"/>
<polygon points="296.1,311.82 297.9,311.82 297,309.01" fill="#2a2a2a" stroke="none" stroke-width="0" stroke-linejoin="miter"/>
<line x1="302.4" y1="307.43" x2="302.4" y2="313.96" stroke="#909090" stroke-width="0.7"/>
<polygon points="301.5,311.66 303.3,311.66 302.4,314.46" fill="#2a2a2a" stroke="none" stroke-width="0" stroke-linejoin="miter"/>
<line x1="307.8" y1="307.57" x2="307.8" y2="315.98" stroke="#404040" stroke-width="0.7"/>
<polygon points="306.9,312.02 308.7,312.02 307.8,309.25" fill="#2a2a2a" stroke="none" stroke-width="0" stroke-linejoin="miter"/>
<line x1="313.2" y1="307.72" x2="313.2" y2="314.15" stroke="#909090" stroke-width="0.7"/>
<polygon points="312.3,311.89 314.1,311.89 313.2,314.65" fill="#2a2a2a" stroke="none" stroke-width="0" stroke-linejoin="miter"/>
<line x1="318.6" y1="307.88" x2="318.6" y2="316.17" stroke="#404040" stroke-width="0.7"/>
<polygon points="317.7,312.27 319.5,312.27 318.6,309.54" fill="#2a2a2a" stroke="none" stroke-width="0" stroke-linejoin="miter"/>
<line x1="324" y1="308.06" x2="324" y2="314.38" stroke="#909090" stroke-width="0.7"/>
<polygon points="323.1,312.17 324.9,312.17 324,314.88" fill="#2a2a2a" stroke="none" stroke-width="0" stroke-linejoin="miter"/>
<line x1="329.4" y1="308.25" x2="329.4" y2="316.39" stroke="#404040" stroke-width="0.7"/>
<polygon points="328.5,312.57 330.3,312.57 329.4,309.88" fill="#2a2a2a" stroke="none" stroke-width="0" stroke-linejoin="miter"/>
<line x1="334.8" y1="308.46" x2="334.8" y2="314.65" stroke="#909090" stroke-width="0.7"/>
<polygon points="333.9,312.49 335.7,312.49 334.8,315.15" fill="#2a2a2a" stroke="none" stroke-width="0" stroke-linejoin="miter"/>
<line x1="340.2" y1="308.68" x2="340.2" y2="316.65" stroke="#404040" stroke-width="0.7"/>
<polygon points="339.3,312.9 341.1,312.9 340.2,310.27" fill="#2a2a2a" stroke="none" stroke-width="0" stroke-linejoin="miter"/>
<line x1="345.6" y1="308.91" x2="345.6" y2="314.95" stroke="#909090" stroke-width="0.7"/>
<polygon points="344.7,312.85 346.5,312.85 345.6,315.45" fill="#2a2a2a" stroke="none" stroke-width="0" stroke-linejoin="miter"/>
<line x1="351" y1="309.16" x2="351" y2="316.94" stroke="#404040" stroke-width="0.7"/>
<polygon points="350.1,313.28 351.9,313.28 351,310.71" fill="#2a2a2a" stroke="none" stroke-width="0" stroke-linejoin="miter"/>
<line x1="356.4" y1="309.42" x2="356.4" y2="315.29" stroke="#909090" stroke-width="0.7"/>
<polygon points="355.5,313.26 357.3,313.26 356.4,315.79" fill="#2a2a2a" stroke="none" stroke-width="0" stroke-linejoin="miter"/>
<line x1="361.8" y1="309.69" x2="361.8" y2="317.26" stroke="#404040" stroke-width="0.7"/>
<polygon points="360.9,313.7 362.7,313.7 361.8,311.2" fill="#2a2a2a" stroke="none" stroke-width="0" stroke-linejoin="miter"/>
<line x1="367.2" y1="309.98" x2="367.2" y2="315.67" stroke="#909090" stroke-width="0.7"/>
<polygon points="366.3,313.71 368.1,313.71 367.2,316.17" fill="#2a2a2a" stroke="none" stroke-width="0" stroke-linejoin="miter"/>
<line x1="372.6" y1="310.28" x2="372.6" y2="317.61" stroke="#404040" stroke-width="0.7"/>
<polygon points="371.7,314.17 373.5,314.17 372.6,311.75" fill="#2a2a2a" stroke="none" stroke-width="0" stroke-linejoin="miter"/>
<g transform="matrix(1 0 0 -1 0 649.2)">
<polygon points="62.84,296.28 66.88,295.95 70.91,295.62 74.95,295.31 78.99,295 83.02,294.7 87.06,294.4 91.1,294.11 95.13,293.83 99.17,293.56 103.21,293.29 107.24,293.03 111.28,292.78 115.32,292.54 119.35,292.3 123.39,292.07 127.43,291.85 131.46,291.63 135.5,291.42 139.54,291.22 143.57,291.03 147.61,290.84 151.65,290.66 155.68,290.49 159.72,290.32 163.76,290.16 167.8,290.01 171.83,289.87 175.87,289.73 179.91,289.6 183.94,289.48 187.98,289.36 192.02,289.26 196.05,289.16 200.09,289.06 204.13,288.98 208.16,288.9 212.2,288.82 216.24,288.76 220.27,288.7 224.31,288.65 228.35,288.61 232.38,288.57 236.42,288.54 240.46,288.52 244.49,288.51 248.53,288.5 252.57,288.5 256.61,288.51 260.64,288.52 264.68,288.54 268.72,288.57 272.75,288.61 276.79,288.65 280.83,288.7 284.86,288.76 288.9,288.82 292.94,288.9 296.97,288.98 301.01,289.06 305.05,289.16 309.08,289.26 313.12,289.36 317.16,289.48 321.19,289.6 325.23,289.73 329.27,289.87 333.3,290.01 337.34,290.16 341.38,290.32 345.42,290.49 349.45,290.66 353.49,290.84 357.53,291.03 361.56,291.22 365.6,291.42 369.64,291.63 373.67,291.85 377.71,292.07 381.75,292.3 385.78,292.54 389.82,292.78 393.86,293.03 397.89,293.29 401.93,293.56 405.97,293.83 410,294.11 414.04,294.4 418.08,294.7 422.11,295 426.15,295.31 430.19,295.62 434.22,295.95 438.26,296.28 436.84,313.42 432.83,313.09 428.83,312.77 424.82,312.46 420.81,312.15 416.81,311.85 412.8,311.56 408.8,311.27 404.79,310.99 400.78,310.72 396.78,310.46 392.77,310.2 388.76,309.95 384.76,309.71 380.75,309.47 376.75,309.24 372.74,309.02 368.73,308.81 364.73,308.6 360.72,308.4 356.71,308.21 352.71,308.02 348.7,307.84 344.7,307.67 340.69,307.51 336.68,307.35 332.68,307.2 328.67,307.06 324.66,306.92 320.66,306.79 316.65,306.67 312.65,306.56 308.64,306.45 304.63,306.35 300.63,306.26 296.62,306.17 292.61,306.09 288.61,306.02 284.6,305.96 280.6,305.9 276.59,305.85 272.58,305.81 268.58,305.77 264.57,305.74 260.57,305.72 256.56,305.71 252.55,305.7 248.55,305.7 244.54,305.71 240.53,305.72 236.53,305.74 232.52,305.77 228.52,305.81 224.51,305.85 220.5,305.9 216.5,305.96 212.49,306.02 208.49,306.09 204.48,306.17 200.47,306.26 196.47,306.35 192.46,306.45 188.45,306.56 184.45,306.67 180.44,306.79 176.44,306.92 172.43,307.06 168.42,307.2 164.42,307.35 160.41,307.51 156.4,307.67 152.4,307.84 148.39,308.02 144.39,308.21 140.38,308.4 136.37,308.6 132.37,308.81 128.36,309.02 124.35,309.24 120.35,309.47 116.34,309.71 112.34,309.95 108.33,310.2 104.32,310.46 100.32,310.72 96.31,310.99 92.3,311.27 88.3,311.56 84.29,311.85 80.29,312.15 76.28,312.46 72.27,312.77 68.27,313.09 64.26,313.42" fill="none" stroke="#1e1e1e" stroke-width="1.45" stroke-linejoin="miter"/>
<polyline points="65.05,304.73 69.08,304.4 73.12,304.08 77.15,303.76 81.18,303.46 85.21,303.16 89.25,302.87 93.28,302.58 97.31,302.3 101.34,302.03 105.38,301.77 109.41,301.51 113.44,301.27 117.47,301.02 121.51,300.79 125.54,300.56 129.57,300.34 133.6,300.13 137.64,299.93 141.67,299.73 145.7,299.54 149.73,299.35 153.77,299.18 157.8,299.01 161.83,298.84 165.87,298.69 169.9,298.54 173.93,298.4 177.96,298.27 182,298.14 186.03,298.02 190.06,297.91 194.09,297.81 198.13,297.71 202.16,297.62 206.19,297.54 210.22,297.46 214.26,297.39 218.29,297.33 222.32,297.28 226.35,297.23 230.39,297.19 234.42,297.16 238.45,297.13 242.48,297.11 246.52,297.1 250.55,297.1 254.58,297.1 258.62,297.11 262.65,297.13 266.68,297.16 270.71,297.19 274.75,297.23 278.78,297.28 282.81,297.33 286.84,297.39 290.88,297.46 294.91,297.54 298.94,297.62 302.97,297.71 307.01,297.81 311.04,297.91 315.07,298.02 319.1,298.14 323.14,298.27 327.17,298.4 331.2,298.54 335.23,298.69 339.27,298.84 343.3,299.01 347.33,299.18 351.37,299.35 355.4,299.54 359.43,299.73 363.46,299.93 367.5,300.13 371.53,300.34 375.56,300.56 379.59,300.79 383.63,301.02 387.66,301.27 391.69,301.51 395.72,301.77 399.76,302.03 403.79,302.3 407.82,302.58 411.85,302.87 415.89,303.16 419.92,303.46 423.95,303.76 427.98,304.08 432.02,304.4 436.05,304.73" fill="none" stroke="#777" stroke-width="1" stroke-dasharray="3.3 2.3"/>
<polygon points="90.41,285.98 94.47,285.8 98.54,285.63 102.61,285.46 106.67,285.3 110.74,285.14 114.81,284.99 118.87,284.84 122.94,284.7 127,284.56 131.07,284.42 135.14,284.29 139.2,284.17 143.27,284.05 147.34,283.93 151.4,283.82 155.47,283.71 159.54,283.61 163.6,283.51 167.67,283.41 171.74,283.33 175.8,283.24 179.87,283.16 183.94,283.09 188,283.01 192.07,282.95 196.14,282.89 200.2,282.83 204.27,282.78 208.33,282.73 212.4,282.69 216.47,282.65 220.53,282.61 224.6,282.58 228.67,282.56 232.73,282.54 236.8,282.52 240.87,282.51 244.93,282.5 249,282.5 253.07,282.5 257.13,282.51 261.2,282.52 265.27,282.54 269.33,282.56 273.4,282.58 277.47,282.61 281.53,282.65 285.6,282.69 289.67,282.73 293.73,282.78 297.8,282.83 301.86,282.89 305.93,282.95 310,283.01 314.06,283.09 318.13,283.16 322.2,283.24 326.26,283.33 330.33,283.41 334.4,283.51 338.46,283.61 342.53,283.71 346.6,283.82 350.66,283.93 354.73,284.05 358.8,284.17 362.86,284.29 366.93,284.42 371,284.56 375.06,284.7 379.13,284.84 383.19,284.99 387.26,285.14 391.33,285.3 395.39,285.46 399.46,285.63 403.53,285.8 407.59,285.98 406.01,322.14 401.98,321.97 397.96,321.8 393.93,321.63 389.9,321.47 385.88,321.32 381.85,321.17 377.83,321.02 373.8,320.88 369.77,320.74 365.75,320.6 361.72,320.48 357.7,320.35 353.67,320.23 349.65,320.12 345.62,320 341.59,319.9 337.57,319.8 333.54,319.7 329.52,319.61 325.49,319.52 321.46,319.43 317.44,319.35 313.41,319.28 309.39,319.21 305.36,319.14 301.34,319.08 297.31,319.03 293.28,318.97 289.26,318.93 285.23,318.88 281.21,318.84 277.18,318.81 273.15,318.78 269.13,318.76 265.1,318.74 261.08,318.72 257.05,318.71 253.03,318.7 249,318.7 244.97,318.7 240.95,318.71 236.92,318.72 232.9,318.74 228.87,318.76 224.85,318.78 220.82,318.81 216.79,318.84 212.77,318.88 208.74,318.93 204.72,318.97 200.69,319.03 196.66,319.08 192.64,319.14 188.61,319.21 184.59,319.28 180.56,319.35 176.54,319.43 172.51,319.52 168.48,319.61 164.46,319.7 160.43,319.8 156.41,319.9 152.38,320 148.35,320.12 144.33,320.23 140.3,320.35 136.28,320.48 132.25,320.6 128.23,320.74 124.2,320.88 120.17,321.02 116.15,321.17 112.12,321.32 108.1,321.47 104.07,321.63 100.04,321.8 96.02,321.97 91.99,322.14" fill="none" stroke="#1e1e1e" stroke-width="1.45" stroke-linejoin="miter"/>
<polyline points="90.54,288.98 94.6,288.8 98.66,288.63 102.73,288.46 106.79,288.3 110.85,288.14 114.92,287.99 118.98,287.84 123.04,287.7 127.11,287.56 131.17,287.42 135.23,287.29 139.3,287.17 143.36,287.04 147.42,286.93 151.48,286.82 155.55,286.71 159.61,286.61 163.67,286.51 167.74,286.41 171.8,286.32 175.86,286.24 179.93,286.16 183.99,286.09 188.05,286.01 192.12,285.95 196.18,285.89 200.24,285.83 204.31,285.78 208.37,285.73 212.43,285.69 216.49,285.65 220.56,285.61 224.62,285.58 228.68,285.56 232.75,285.54 236.81,285.52 240.87,285.51 244.94,285.5 249,285.5 253.06,285.5 257.13,285.51 261.19,285.52 265.25,285.54 269.32,285.56 273.38,285.58 277.44,285.61 281.51,285.65 285.57,285.69 289.63,285.73 293.69,285.78 297.76,285.83 301.82,285.89 305.88,285.95 309.95,286.01 314.01,286.09 318.07,286.16 322.14,286.24 326.2,286.32 330.26,286.41 334.33,286.51 338.39,286.61 342.45,286.71 346.52,286.82 350.58,286.93 354.64,287.04 358.7,287.17 362.77,287.29 366.83,287.42 370.89,287.56 374.96,287.7 379.02,287.84 383.08,287.99 387.15,288.14 391.21,288.3 395.27,288.46 399.34,288.63 403.4,288.8 407.46,288.98" fill="none" stroke="#2a2a2a" stroke-width="1" />
<polyline points="91.85,318.95 95.88,318.77 99.91,318.6 103.94,318.44 107.97,318.28 112,318.12 116.03,317.97 120.06,317.82 124.09,317.68 128.12,317.54 132.15,317.41 136.18,317.28 140.21,317.15 144.24,317.03 148.26,316.92 152.29,316.81 156.32,316.7 160.35,316.6 164.38,316.5 168.41,316.41 172.44,316.32 176.47,316.23 180.5,316.15 184.53,316.08 188.56,316.01 192.59,315.94 196.62,315.88 200.65,315.83 204.68,315.77 208.71,315.73 212.74,315.68 216.76,315.65 220.79,315.61 224.82,315.58 228.85,315.56 232.88,315.54 236.91,315.52 240.94,315.51 244.97,315.5 249,315.5 253.03,315.5 257.06,315.51 261.09,315.52 265.12,315.54 269.15,315.56 273.18,315.58 277.21,315.61 281.24,315.65 285.26,315.68 289.29,315.73 293.32,315.77 297.35,315.83 301.38,315.88 305.41,315.94 309.44,316.01 313.47,316.08 317.5,316.15 321.53,316.23 325.56,316.32 329.59,316.41 333.62,316.5 337.65,316.6 341.68,316.7 345.71,316.81 349.74,316.92 353.76,317.03 357.79,317.15 361.82,317.28 365.85,317.41 369.88,317.54 373.91,317.68 377.94,317.82 381.97,317.97 386,318.12 390.03,318.28 394.06,318.44 398.09,318.6 402.12,318.77 406.15,318.95" fill="none" stroke="#2a2a2a" stroke-width="1" />
<polygon points="122.34,281.12 126.38,280.98 130.42,280.84 134.46,280.71 138.49,280.59 142.53,280.47 146.57,280.35 150.61,280.24 154.65,280.13 158.69,280.03 162.73,279.93 166.76,279.83 170.8,279.74 174.84,279.66 178.88,279.58 182.92,279.5 186.96,279.43 191,279.36 195.03,279.3 199.07,279.24 203.11,279.19 207.15,279.14 211.19,279.1 215.23,279.06 219.26,279.02 223.3,278.99 227.34,278.96 231.38,278.94 235.42,278.93 239.46,278.91 243.5,278.9 247.53,278.9 251.57,278.9 255.61,278.91 259.65,278.92 263.69,278.93 267.73,278.95 271.77,278.97 275.8,279 279.84,279.03 283.88,279.07 287.92,279.11 291.96,279.15 296,279.21 300.03,279.26 304.07,279.32 308.11,279.38 312.15,279.45 316.19,279.52 320.23,279.6 324.27,279.68 328.3,279.77 332.34,279.86 336.38,279.95 340.42,280.05 344.46,280.16 348.5,280.27 352.53,280.38 356.57,280.5 360.61,280.62 364.65,280.75 368.69,280.88 372.73,281.02 376.77,281.16 376.62,285.25 372.59,285.11 368.55,284.98 364.52,284.85 360.49,284.72 356.45,284.6 352.42,284.48 348.38,284.37 344.35,284.26 340.32,284.15 336.28,284.05 332.25,283.96 328.21,283.87 324.18,283.78 320.15,283.7 316.11,283.62 312.08,283.55 308.04,283.48 304.01,283.42 299.98,283.36 295.94,283.3 291.91,283.25 287.87,283.21 283.84,283.17 279.81,283.13 275.77,283.1 271.74,283.07 267.71,283.05 263.67,283.03 259.64,283.02 255.6,283.01 251.57,283 247.54,283 243.5,283 239.47,283.01 235.43,283.03 231.4,283.04 227.37,283.06 223.33,283.09 219.3,283.12 215.26,283.16 211.23,283.2 207.2,283.24 203.16,283.29 199.13,283.34 195.09,283.4 191.06,283.46 187.03,283.53 182.99,283.6 178.96,283.68 174.93,283.76 170.89,283.84 166.86,283.93 162.82,284.03 158.79,284.13 154.76,284.23 150.72,284.34 146.69,284.45 142.65,284.56 138.62,284.69 134.59,284.81 130.55,284.94 126.52,285.08 122.48,285.21" fill="#1e1e1e" stroke="none" stroke-width="0" stroke-linejoin="miter"/>
<polygon points="123.72,320.39 127.71,320.25 131.7,320.12 135.7,319.99 139.69,319.87 143.69,319.75 147.68,319.63 151.68,319.52 155.67,319.42 159.67,319.31 163.66,319.22 167.66,319.12 171.65,319.04 175.65,318.95 179.64,318.87 183.64,318.8 187.63,318.73 191.62,318.66 195.62,318.6 199.61,318.54 203.61,318.49 207.6,318.44 211.6,318.4 215.59,318.36 219.59,318.32 223.58,318.29 227.58,318.26 231.57,318.24 235.57,318.23 239.56,318.21 243.56,318.2 247.55,318.2 251.54,318.2 255.54,318.21 259.53,318.22 263.53,318.23 267.52,318.25 271.52,318.27 275.51,318.3 279.51,318.33 283.5,318.37 287.5,318.41 291.49,318.45 295.49,318.5 299.48,318.56 303.48,318.61 307.47,318.68 311.46,318.75 315.46,318.82 319.45,318.89 323.45,318.97 327.44,319.06 331.44,319.15 335.43,319.24 339.43,319.34 343.42,319.45 347.42,319.55 351.41,319.66 355.41,319.78 359.4,319.9 363.39,320.03 367.39,320.16 371.38,320.29 375.38,320.43 375.23,324.63 371.24,324.49 367.25,324.36 363.26,324.23 359.27,324.1 355.28,323.98 351.29,323.86 347.3,323.75 343.31,323.64 339.32,323.54 335.33,323.44 331.34,323.35 327.35,323.26 323.36,323.17 319.37,323.09 315.38,323.02 311.39,322.94 307.4,322.88 303.41,322.81 299.42,322.76 295.43,322.7 291.44,322.65 287.45,322.61 283.46,322.57 279.47,322.53 275.48,322.5 271.49,322.47 267.5,322.45 263.51,322.43 259.52,322.42 255.53,322.41 251.54,322.4 247.55,322.4 243.56,322.4 239.57,322.41 235.58,322.43 231.59,322.44 227.6,322.46 223.61,322.49 219.62,322.52 215.63,322.56 211.64,322.6 207.65,322.64 203.66,322.69 199.67,322.74 195.68,322.8 191.69,322.86 187.7,322.93 183.71,323 179.72,323.07 175.73,323.15 171.74,323.23 167.75,323.32 163.76,323.42 159.77,323.51 155.78,323.62 151.79,323.72 147.8,323.83 143.81,323.95 139.82,324.07 135.83,324.19 131.84,324.32 127.85,324.45 123.86,324.59" fill="#1e1e1e" stroke="none" stroke-width="0" stroke-linejoin="miter"/>
<line x1="103.39" y1="288.43" x2="104.6" y2="318.41" stroke="#1e1e1e" stroke-width="1.4"/>
<line x1="110.62" y1="288.15" x2="111.77" y2="318.13" stroke="#1e1e1e" stroke-width="1.4"/>
<polygon points="103.39,288.43 110.62,288.15 110.75,291.45 103.52,291.73" fill="none" stroke="#2a2a2a" stroke-width="0.9" stroke-linejoin="miter"/>
<line x1="103.83" y1="288.62" x2="110.31" y2="291.27" stroke="#333" stroke-width="0.7"/>
<line x1="110.2" y1="288.37" x2="103.95" y2="291.52" stroke="#333" stroke-width="0.7"/>
<polygon points="104.33,311.82 111.52,311.53 111.77,318.13 104.6,318.41" fill="none" stroke="#2a2a2a" stroke-width="0.9" stroke-linejoin="miter"/>
<line x1="104.78" y1="312.19" x2="111.32" y2="317.75" stroke="#333" stroke-width="0.7"/>
<line x1="111.1" y1="311.95" x2="105.01" y2="318" stroke="#333" stroke-width="0.7"/>
<line x1="388.68" y1="288.2" x2="387.52" y2="318.18" stroke="#1e1e1e" stroke-width="1.4"/>
<line x1="395.61" y1="288.48" x2="394.4" y2="318.45" stroke="#1e1e1e" stroke-width="1.4"/>
<polygon points="388.68,288.2 395.61,288.48 395.48,291.77 388.56,291.5" fill="none" stroke="#2a2a2a" stroke-width="0.9" stroke-linejoin="miter"/>
<line x1="389.09" y1="288.42" x2="395.07" y2="291.56" stroke="#333" stroke-width="0.7"/>
<line x1="395.19" y1="288.66" x2="388.98" y2="291.32" stroke="#333" stroke-width="0.7"/>
<polygon points="387.78,311.58 394.66,311.86 394.4,318.45 387.52,318.18" fill="none" stroke="#2a2a2a" stroke-width="0.9" stroke-linejoin="miter"/>
<line x1="388.18" y1="312" x2="394" y2="318.04" stroke="#333" stroke-width="0.7"/>
<line x1="394.23" y1="312.24" x2="387.95" y2="317.8" stroke="#333" stroke-width="0.7"/>
<line x1="122.35" y1="281.42" x2="123.85" y2="324.29" stroke="#1e1e1e" stroke-width="1.45"/>
<line x1="376.76" y1="281.46" x2="375.24" y2="324.33" stroke="#1e1e1e" stroke-width="1.45"/>
<line x1="129.6" y1="308.93" x2="129.6" y2="315.52" stroke="#909090" stroke-width="0.7"/>
<polygon points="128.7,313.2 130.5,313.2 129.6,316.02" fill="#2a2a2a" stroke="none" stroke-width="0" stroke-linejoin="miter"/>
<line x1="135" y1="308.65" x2="135" y2="317.3" stroke="#404040" stroke-width="0.7"/>
<polygon points="134.1,313.23 135.9,313.23 135,310.38" fill="#2a2a2a" stroke="none" stroke-width="0" stroke-linejoin="miter"/>
<line x1="140.4" y1="308.38" x2="140.4" y2="315.14" stroke="#909090" stroke-width="0.7"/>
<polygon points="139.5,312.76 141.3,312.76 140.4,315.64" fill="#2a2a2a" stroke="none" stroke-width="0" stroke-linejoin="miter"/>
<line x1="145.8" y1="308.12" x2="145.8" y2="316.97" stroke="#404040" stroke-width="0.7"/>
<polygon points="144.9,312.81 146.7,312.81 145.8,309.89" fill="#2a2a2a" stroke="none" stroke-width="0" stroke-linejoin="miter"/>
<line x1="151.2" y1="307.88" x2="151.2" y2="314.8" stroke="#909090" stroke-width="0.7"/>
<polygon points="150.3,312.35 152.1,312.35 151.2,315.3" fill="#2a2a2a" stroke="none" stroke-width="0" stroke-linejoin="miter"/>
<line x1="156.6" y1="307.65" x2="156.6" y2="316.68" stroke="#404040" stroke-width="0.7"/>
<polygon points="155.7,312.44 157.5,312.44 156.6,309.46" fill="#2a2a2a" stroke="none" stroke-width="0" stroke-linejoin="miter"/>
<line x1="162" y1="307.43" x2="162" y2="314.5" stroke="#909090" stroke-width="0.7"/>
<polygon points="161.1,311.99 162.9,311.99 162,315" fill="#2a2a2a" stroke="none" stroke-width="0" stroke-linejoin="miter"/>
<line x1="167.4" y1="307.23" x2="167.4" y2="316.42" stroke="#404040" stroke-width="0.7"/>
<polygon points="166.5,312.1 168.3,312.1 167.4,309.07" fill="#2a2a2a" stroke="none" stroke-width="0" stroke-linejoin="miter"/>
<line x1="172.8" y1="307.03" x2="172.8" y2="314.23" stroke="#909090" stroke-width="0.7"/>
<polygon points="171.9,311.67 173.7,311.67 172.8,314.73" fill="#2a2a2a" stroke="none" stroke-width="0" stroke-linejoin="miter"/>
<line x1="178.2" y1="306.86" x2="178.2" y2="316.19" stroke="#404040" stroke-width="0.7"/>
<polygon points="177.3,311.8 179.1,311.8 178.2,308.72" fill="#2a2a2a" stroke="none" stroke-width="0" stroke-linejoin="miter"/>
<line x1="183.6" y1="306.69" x2="183.6" y2="313.99" stroke="#909090" stroke-width="0.7"/>
<polygon points="182.7,311.39 184.5,311.39 183.6,314.49" fill="#2a2a2a" stroke="none" stroke-width="0" stroke-linejoin="miter"/>
<line x1="189" y1="306.54" x2="189" y2="316" stroke="#404040" stroke-width="0.7"/>
<polygon points="188.1,311.55 189.9,311.55 189,308.43" fill="#2a2a2a" stroke="none" stroke-width="0" stroke-linejoin="miter"/>
<line x1="194.4" y1="306.4" x2="194.4" y2="313.79" stroke="#909090" stroke-width="0.7"/>
<polygon points="193.5,311.15 195.3,311.15 194.4,314.29" fill="#2a2a2a" stroke="none" stroke-width="0" stroke-linejoin="miter"/>
<line x1="199.8" y1="306.27" x2="199.8" y2="315.84" stroke="#404040" stroke-width="0.7"/>
<polygon points="198.9,311.34 200.7,311.34 199.8,308.18" fill="#2a2a2a" stroke="none" stroke-width="0" stroke-linejoin="miter"/>
<line x1="205.2" y1="306.15" x2="205.2" y2="313.63" stroke="#909090" stroke-width="0.7"/>
<polygon points="204.3,310.96 206.1,310.96 205.2,314.13" fill="#2a2a2a" stroke="none" stroke-width="0" stroke-linejoin="miter"/>
<line x1="210.6" y1="306.05" x2="210.6" y2="315.7" stroke="#404040" stroke-width="0.7"/>
<polygon points="209.7,311.17 211.5,311.17 210.6,307.98" fill="#2a2a2a" stroke="none" stroke-width="0" stroke-linejoin="miter"/>
<line x1="216" y1="305.96" x2="216" y2="313.5" stroke="#909090" stroke-width="0.7"/>
<polygon points="215.1,310.81 216.9,310.81 216,314" fill="#2a2a2a" stroke="none" stroke-width="0" stroke-linejoin="miter"/>
<line x1="221.4" y1="305.89" x2="221.4" y2="315.61" stroke="#404040" stroke-width="0.7"/>
<polygon points="220.5,311.03 222.3,311.03 221.4,307.83" fill="#2a2a2a" stroke="none" stroke-width="0" stroke-linejoin="miter"/>
<line x1="226.8" y1="305.82" x2="226.8" y2="313.41" stroke="#909090" stroke-width="0.7"/>
<polygon points="225.9,310.71 227.7,310.71 226.8,313.91" fill="#2a2a2a" stroke="none" stroke-width="0" stroke-linejoin="miter"/>
<line x1="232.2" y1="305.77" x2="232.2" y2="315.54" stroke="#404040" stroke-width="0.7"/>
<polygon points="231.3,310.93 233.1,310.93 232.2,307.73" fill="#2a2a2a" stroke="none" stroke-width="0" stroke-linejoin="miter"/>
<line x1="237.6" y1="305.74" x2="237.6" y2="313.36" stroke="#909090" stroke-width="0.7"/>
<polygon points="236.7,310.66 238.5,310.66 237.6,313.86" fill="#2a2a2a" stroke="none" stroke-width="0" stroke-linejoin="miter"/>
<line x1="243" y1="305.71" x2="243" y2="315.5" stroke="#404040" stroke-width="0.7"/>
<polygon points="242.1,310.87 243.9,310.87 243,307.67" fill="#2a2a2a" stroke="none" stroke-width="0" stroke-linejoin="miter"/>
<line x1="248.4" y1="305.7" x2="248.4" y2="313.33" stroke="#909090" stroke-width="0.7"/>
<polygon points="247.5,310.63 249.3,310.63 248.4,313.83" fill="#2a2a2a" stroke="none" stroke-width="0" stroke-linejoin="miter"/>
<line x1="253.8" y1="305.7" x2="253.8" y2="315.5" stroke="#404040" stroke-width="0.7"/>
<polygon points="252.9,310.86 254.7,310.86 253.8,307.66" fill="#2a2a2a" stroke="none" stroke-width="0" stroke-linejoin="miter"/>
<line x1="259.2" y1="305.72" x2="259.2" y2="313.35" stroke="#909090" stroke-width="0.7"/>
<polygon points="258.3,310.65 260.1,310.65 259.2,313.85" fill="#2a2a2a" stroke="none" stroke-width="0" stroke-linejoin="miter"/>
<line x1="264.6" y1="305.74" x2="264.6" y2="315.53" stroke="#404040" stroke-width="0.7"/>
<polygon points="263.7,310.9 265.5,310.9 264.6,307.7" fill="#2a2a2a" stroke="none" stroke-width="0" stroke-linejoin="miter"/>
<line x1="270" y1="305.78" x2="270" y2="313.4" stroke="#909090" stroke-width="0.7"/>
<polygon points="269.1,310.7 270.9,310.7 270,313.9" fill="#2a2a2a" stroke="none" stroke-width="0" stroke-linejoin="miter"/>
<line x1="275.4" y1="305.84" x2="275.4" y2="315.6" stroke="#404040" stroke-width="0.7"/>
<polygon points="274.5,310.99 276.3,310.99 275.4,307.79" fill="#2a2a2a" stroke="none" stroke-width="0" stroke-linejoin="miter"/>
<line x1="280.8" y1="305.9" x2="280.8" y2="313.48" stroke="#909090" stroke-width="0.7"/>
<polygon points="279.9,310.78 281.7,310.78 280.8,313.98" fill="#2a2a2a" stroke="none" stroke-width="0" stroke-linejoin="miter"/>
<line x1="286.2" y1="305.98" x2="286.2" y2="315.69" stroke="#404040" stroke-width="0.7"/>
<polygon points="285.3,311.12 287.1,311.12 286.2,307.92" fill="#2a2a2a" stroke="none" stroke-width="0" stroke-linejoin="miter"/>
<line x1="291.6" y1="306.07" x2="291.6" y2="313.61" stroke="#909090" stroke-width="0.7"/>
<polygon points="290.7,310.91 292.5,310.91 291.6,314.11" fill="#2a2a2a" stroke="none" stroke-width="0" stroke-linejoin="miter"/>
<line x1="297" y1="306.18" x2="297" y2="315.82" stroke="#404040" stroke-width="0.7"/>
<polygon points="296.1,311.29 297.9,311.29 297,308.1" fill="#2a2a2a" stroke="none" stroke-width="0" stroke-linejoin="miter"/>
<line x1="302.4" y1="306.29" x2="302.4" y2="313.76" stroke="#909090" stroke-width="0.7"/>
<polygon points="301.5,311.09 303.3,311.09 302.4,314.26" fill="#2a2a2a" stroke="none" stroke-width="0" stroke-linejoin="miter"/>
<line x1="307.8" y1="306.42" x2="307.8" y2="315.98" stroke="#404040" stroke-width="0.7"/>
<polygon points="306.9,311.49 308.7,311.49 307.8,308.33" fill="#2a2a2a" stroke="none" stroke-width="0" stroke-linejoin="miter"/>
<line x1="313.2" y1="306.57" x2="313.2" y2="313.95" stroke="#909090" stroke-width="0.7"/>
<polygon points="312.3,311.32 314.1,311.32 313.2,314.45" fill="#2a2a2a" stroke="none" stroke-width="0" stroke-linejoin="miter"/>
<line x1="318.6" y1="306.72" x2="318.6" y2="316.17" stroke="#404040" stroke-width="0.7"/>
<polygon points="317.7,311.73 319.5,311.73 318.6,308.61" fill="#2a2a2a" stroke="none" stroke-width="0" stroke-linejoin="miter"/>
<line x1="324" y1="306.89" x2="324" y2="314.18" stroke="#909090" stroke-width="0.7"/>
<polygon points="323.1,311.58 324.9,311.58 324,314.68" fill="#2a2a2a" stroke="none" stroke-width="0" stroke-linejoin="miter"/>
<line x1="329.4" y1="307.07" x2="329.4" y2="316.39" stroke="#404040" stroke-width="0.7"/>
<polygon points="328.5,312.01 330.3,312.01 329.4,308.94" fill="#2a2a2a" stroke="none" stroke-width="0" stroke-linejoin="miter"/>
<line x1="334.8" y1="307.27" x2="334.8" y2="314.45" stroke="#909090" stroke-width="0.7"/>
<polygon points="333.9,311.89 335.7,311.89 334.8,314.95" fill="#2a2a2a" stroke="none" stroke-width="0" stroke-linejoin="miter"/>
<line x1="340.2" y1="307.47" x2="340.2" y2="316.65" stroke="#404040" stroke-width="0.7"/>
<polygon points="339.3,312.34 341.1,312.34 340.2,309.31" fill="#2a2a2a" stroke="none" stroke-width="0" stroke-linejoin="miter"/>
<line x1="345.6" y1="307.69" x2="345.6" y2="314.75" stroke="#909090" stroke-width="0.7"/>
<polygon points="344.7,312.24 346.5,312.24 345.6,315.25" fill="#2a2a2a" stroke="none" stroke-width="0" stroke-linejoin="miter"/>
<line x1="351" y1="307.93" x2="351" y2="316.94" stroke="#404040" stroke-width="0.7"/>
<polygon points="350.1,312.7 351.9,312.7 351,309.73" fill="#2a2a2a" stroke="none" stroke-width="0" stroke-linejoin="miter"/>
<line x1="356.4" y1="308.17" x2="356.4" y2="315.08" stroke="#909090" stroke-width="0.7"/>
<polygon points="355.5,312.64 357.3,312.64 356.4,315.58" fill="#2a2a2a" stroke="none" stroke-width="0" stroke-linejoin="miter"/>
<line x1="361.8" y1="308.43" x2="361.8" y2="317.26" stroke="#404040" stroke-width="0.7"/>
<polygon points="360.9,313.11 362.7,313.11 361.8,310.2" fill="#2a2a2a" stroke="none" stroke-width="0" stroke-linejoin="miter"/>
<line x1="367.2" y1="308.7" x2="367.2" y2="315.45" stroke="#909090" stroke-width="0.7"/>
<polygon points="366.3,313.07 368.1,313.07 367.2,315.95" fill="#2a2a2a" stroke="none" stroke-width="0" stroke-linejoin="miter"/>
<line x1="372.6" y1="308.99" x2="372.6" y2="317.61" stroke="#404040" stroke-width="0.7"/>
<polygon points="371.7,313.56 373.5,313.56 372.6,310.71" fill="#2a2a2a" stroke="none" stroke-width="0" stroke-linejoin="miter"/>
</g>
<polygon points="501.77,70.83 505.81,70.48 509.84,70.14 513.87,69.8 517.9,69.47 521.94,69.15 525.97,68.83 530,68.53 534.04,68.23 538.07,67.94 542.1,67.65 546.13,67.38 550.17,67.11 554.2,66.85 558.23,66.6 562.27,66.35 566.3,66.11 570.33,65.88 574.36,65.66 578.4,65.45 582.43,65.24 586.46,65.04 590.49,64.85 594.53,64.67 598.56,64.49 602.59,64.32 606.63,64.16 610.66,64.01 614.69,63.86 618.72,63.72 622.76,63.59 626.79,63.47 630.82,63.36 634.86,63.25 638.89,63.15 642.92,63.06 646.95,62.97 650.99,62.9 655.02,62.83 659.05,62.77 663.09,62.71 667.12,62.67 671.15,62.63 675.18,62.6 679.22,62.57 683.25,62.56 687.28,62.55 691.32,62.55 695.35,62.56 699.38,62.57 703.42,62.6 707.45,62.63 711.48,62.67 715.51,62.71 719.55,62.77 723.58,62.83 727.61,62.9 731.65,62.97 735.68,63.06 739.71,63.15 743.74,63.25 747.78,63.36 751.81,63.47 755.84,63.59 759.88,63.72 763.91,63.86 767.94,64.01 771.97,64.16 776.01,64.32 780.04,64.49 784.07,64.67 788.11,64.85 792.14,65.04 796.17,65.24 800.2,65.45 804.24,65.66 808.27,65.88 812.3,66.11 816.33,66.35 820.37,66.6 824.4,66.85 828.43,67.11 832.47,67.38 836.5,67.65 840.53,67.94 844.56,68.23 848.6,68.53 852.63,68.83 856.66,69.15 860.7,69.47 864.73,69.8 868.76,70.14 872.79,70.48 876.83,70.83 875.37,87.27 871.37,86.92 867.37,86.58 863.37,86.24 859.37,85.92 855.37,85.6 851.36,85.29 847.36,84.98 843.36,84.69 839.36,84.4 835.36,84.11 831.36,83.84 827.35,83.58 823.35,83.32 819.35,83.07 815.35,82.82 811.35,82.59 807.35,82.36 803.34,82.14 799.34,81.93 795.34,81.72 791.34,81.52 787.34,81.33 783.34,81.15 779.33,80.97 775.33,80.81 771.33,80.65 767.33,80.5 763.33,80.35 759.33,80.21 755.33,80.09 751.32,79.96 747.32,79.85 743.32,79.74 739.32,79.64 735.32,79.55 731.32,79.47 727.31,79.39 723.31,79.32 719.31,79.26 715.31,79.21 711.31,79.17 707.31,79.13 703.31,79.1 699.3,79.07 695.3,79.06 691.3,79.05 687.3,79.05 683.3,79.06 679.3,79.07 675.29,79.1 671.29,79.13 667.29,79.17 663.29,79.21 659.29,79.26 655.29,79.32 651.29,79.39 647.28,79.47 643.28,79.55 639.28,79.64 635.28,79.74 631.28,79.85 627.28,79.96 623.27,80.09 619.27,80.21 615.27,80.35 611.27,80.5 607.27,80.65 603.27,80.81 599.27,80.97 595.26,81.15 591.26,81.33 587.26,81.52 583.26,81.72 579.26,81.93 575.26,82.14 571.25,82.36 567.25,82.59 563.25,82.82 559.25,83.07 555.25,83.32 551.25,83.58 547.24,83.84 543.24,84.11 539.24,84.4 535.24,84.69 531.24,84.98 527.24,85.29 523.23,85.6 519.23,85.92 515.23,86.24 511.23,86.58 507.23,86.92 503.23,87.27" fill="none" stroke="#1e1e1e" stroke-width="1.45" stroke-linejoin="miter"/>
<polyline points="504,78.92 508.03,78.57 512.06,78.23 516.08,77.9 520.11,77.57 524.14,77.25 528.17,76.94 532.2,76.64 536.23,76.34 540.25,76.05 544.28,75.77 548.31,75.5 552.34,75.24 556.37,74.98 560.4,74.73 564.42,74.49 568.45,74.25 572.48,74.03 576.51,73.81 580.54,73.6 584.57,73.39 588.59,73.2 592.62,73.01 596.65,72.83 600.68,72.66 604.71,72.49 608.73,72.34 612.76,72.19 616.79,72.04 620.82,71.91 624.85,71.78 628.88,71.66 632.9,71.55 636.93,71.45 640.96,71.35 644.99,71.26 649.02,71.18 653.05,71.11 657.07,71.05 661.1,70.99 665.13,70.94 669.16,70.9 673.19,70.86 677.22,70.83 681.24,70.82 685.27,70.8 689.3,70.8 693.33,70.8 697.36,70.82 701.38,70.83 705.41,70.86 709.44,70.9 713.47,70.94 717.5,70.99 721.53,71.05 725.55,71.11 729.58,71.18 733.61,71.26 737.64,71.35 741.67,71.45 745.7,71.55 749.72,71.66 753.75,71.78 757.78,71.91 761.81,72.04 765.84,72.19 769.87,72.34 773.89,72.49 777.92,72.66 781.95,72.83 785.98,73.01 790.01,73.2 794.03,73.39 798.06,73.6 802.09,73.81 806.12,74.03 810.15,74.25 814.18,74.49 818.2,74.73 822.23,74.98 826.26,75.24 830.29,75.5 834.32,75.77 838.35,76.05 842.37,76.34 846.4,76.64 850.43,76.94 854.46,77.25 858.49,77.57 862.52,77.9 866.54,78.23 870.57,78.57 874.6,78.92" fill="none" stroke="#777" stroke-width="1" stroke-dasharray="3.3 2.3"/>
<polygon points="530.68,56.64 534.7,56.82 538.73,57 542.75,57.18 546.77,57.35 550.8,57.52 554.82,57.68 558.85,57.83 562.87,57.99 566.89,58.13 570.92,58.27 574.94,58.41 578.96,58.54 582.99,58.67 587.01,58.79 591.03,58.91 595.06,59.03 599.08,59.13 603.11,59.24 607.13,59.34 611.15,59.43 615.18,59.52 619.2,59.6 623.22,59.68 627.25,59.76 631.27,59.83 635.29,59.89 639.32,59.95 643.34,60.01 647.36,60.06 651.39,60.1 655.41,60.15 659.44,60.18 663.46,60.21 667.48,60.24 671.51,60.26 675.53,60.28 679.55,60.29 683.58,60.3 687.6,60.3 691.62,60.3 695.65,60.29 699.67,60.28 703.69,60.26 707.72,60.24 711.74,60.21 715.76,60.18 719.79,60.15 723.81,60.1 727.84,60.06 731.86,60.01 735.88,59.95 739.91,59.89 743.93,59.83 747.95,59.76 751.98,59.68 756,59.6 760.02,59.52 764.05,59.43 768.07,59.34 772.09,59.24 776.12,59.13 780.14,59.03 784.17,58.91 788.19,58.79 792.21,58.67 796.24,58.54 800.26,58.41 804.28,58.27 808.31,58.13 812.33,57.99 816.35,57.83 820.38,57.68 824.4,57.52 828.43,57.35 832.45,57.18 836.47,57 840.5,56.82 844.52,56.64 846.18,92.2 842.11,92.39 838.05,92.57 833.98,92.75 829.92,92.92 825.85,93.09 821.78,93.25 817.72,93.41 813.65,93.56 809.59,93.71 805.52,93.85 801.45,93.99 797.39,94.13 793.32,94.25 789.25,94.38 785.19,94.5 781.12,94.61 777.06,94.72 772.99,94.83 768.92,94.93 764.86,95.02 760.79,95.11 756.73,95.2 752.66,95.28 748.59,95.35 744.53,95.42 740.46,95.49 736.39,95.55 732.33,95.61 728.26,95.66 724.2,95.7 720.13,95.74 716.06,95.78 712,95.81 707.93,95.84 703.86,95.86 699.8,95.88 695.73,95.89 691.67,95.9 687.6,95.9 683.53,95.9 679.47,95.89 675.4,95.88 671.34,95.86 667.27,95.84 663.2,95.81 659.14,95.78 655.07,95.74 651,95.7 646.94,95.66 642.87,95.61 638.81,95.55 634.74,95.49 630.67,95.42 626.61,95.35 622.54,95.28 618.47,95.2 614.41,95.11 610.34,95.02 606.28,94.93 602.21,94.83 598.14,94.72 594.08,94.61 590.01,94.5 585.95,94.38 581.88,94.25 577.81,94.13 573.75,93.99 569.68,93.85 565.61,93.71 561.55,93.56 557.48,93.41 553.42,93.25 549.35,93.09 545.28,92.92 541.22,92.75 537.15,92.57 533.09,92.39 529.02,92.2" fill="none" stroke="#1e1e1e" stroke-width="1.45" stroke-linejoin="miter"/>
<polyline points="530.55,59.33 534.58,59.52 538.61,59.7 542.63,59.88 546.66,60.05 550.69,60.21 554.72,60.37 558.74,60.53 562.77,60.68 566.8,60.83 570.82,60.97 574.85,61.11 578.88,61.24 582.9,61.37 586.93,61.49 590.96,61.61 594.98,61.72 599.01,61.83 603.04,61.94 607.06,62.04 611.09,62.13 615.12,62.22 619.14,62.3 623.17,62.38 627.2,62.46 631.22,62.53 635.25,62.59 639.28,62.65 643.31,62.71 647.33,62.76 651.36,62.8 655.39,62.85 659.41,62.88 663.44,62.91 667.47,62.94 671.49,62.96 675.52,62.98 679.55,62.99 683.57,63 687.6,63 691.63,63 695.65,62.99 699.68,62.98 703.71,62.96 707.73,62.94 711.76,62.91 715.79,62.88 719.81,62.85 723.84,62.8 727.87,62.76 731.89,62.71 735.92,62.65 739.95,62.59 743.98,62.53 748,62.46 752.03,62.38 756.06,62.3 760.08,62.22 764.11,62.13 768.14,62.04 772.16,61.94 776.19,61.83 780.22,61.72 784.24,61.61 788.27,61.49 792.3,61.37 796.32,61.24 800.35,61.11 804.38,60.97 808.4,60.83 812.43,60.68 816.46,60.53 820.48,60.37 824.51,60.21 828.54,60.05 832.57,59.88 836.59,59.7 840.62,59.52 844.65,59.33" fill="none" stroke="#2a2a2a" stroke-width="1" />
<polyline points="529.15,89.4 533.21,89.59 537.28,89.77 541.34,89.95 545.4,90.12 549.46,90.29 553.53,90.45 557.59,90.61 561.65,90.76 565.72,90.91 569.78,91.05 573.84,91.19 577.9,91.33 581.97,91.46 586.03,91.58 590.09,91.7 594.16,91.81 598.22,91.92 602.28,92.03 606.34,92.13 610.41,92.22 614.47,92.31 618.53,92.4 622.59,92.48 626.66,92.55 630.72,92.62 634.78,92.69 638.85,92.75 642.91,92.81 646.97,92.86 651.03,92.9 655.1,92.94 659.16,92.98 663.22,93.01 667.29,93.04 671.35,93.06 675.41,93.08 679.47,93.09 683.54,93.1 687.6,93.1 691.66,93.1 695.73,93.09 699.79,93.08 703.85,93.06 707.91,93.04 711.98,93.01 716.04,92.98 720.1,92.94 724.17,92.9 728.23,92.86 732.29,92.81 736.35,92.75 740.42,92.69 744.48,92.62 748.54,92.55 752.61,92.48 756.67,92.4 760.73,92.31 764.79,92.22 768.86,92.13 772.92,92.03 776.98,91.92 781.04,91.81 785.11,91.7 789.17,91.58 793.23,91.46 797.3,91.33 801.36,91.19 805.42,91.05 809.48,90.91 813.55,90.76 817.61,90.61 821.67,90.45 825.74,90.29 829.8,90.12 833.86,89.95 837.92,89.77 841.99,89.59 846.05,89.4" fill="none" stroke="#2a2a2a" stroke-width="1" />
<polygon points="561.2,55.2 600,55.55 640,56 690,56.3 740,56 780,55.2 815.2,54.4 814.56,58.7 810.55,58.85 806.54,59 802.52,59.14 798.51,59.27 794.5,59.4 790.49,59.53 786.48,59.65 782.47,59.76 778.45,59.87 774.44,59.98 770.43,60.08 766.42,60.18 762.41,60.27 758.4,60.35 754.39,60.44 750.37,60.51 746.36,60.59 742.35,60.65 738.34,60.72 734.33,60.78 730.32,60.83 726.31,60.88 722.29,60.92 718.28,60.96 714.27,60.99 710.26,61.02 706.25,61.05 702.24,61.07 698.23,61.08 694.21,61.09 690.2,61.1 686.19,61.1 682.18,61.1 678.17,61.09 674.16,61.07 670.15,61.05 666.13,61.03 662.12,61 658.11,60.97 654.1,60.93 650.09,60.89 646.08,60.84 642.07,60.79 638.05,60.73 634.04,60.67 630.03,60.61 626.02,60.54 622.01,60.46 618,60.38 613.98,60.29 609.97,60.2 605.96,60.11 601.95,60.01 597.94,59.9 593.93,59.79 589.92,59.68 585.9,59.56 581.89,59.44 577.88,59.31 573.87,59.18 569.86,59.04 565.85,58.89 561.84,58.75" fill="#1e1e1e" stroke="none" stroke-width="0" stroke-linejoin="miter"/>
<polygon points="560.52,94.02 564.57,94.17 568.62,94.32 572.68,94.46 576.73,94.59 580.78,94.72 584.84,94.85 588.89,94.97 592.94,95.08 597,95.19 601.05,95.3 605.1,95.4 609.16,95.49 613.21,95.59 617.27,95.67 621.32,95.75 625.37,95.83 629.43,95.9 633.48,95.97 637.53,96.03 641.59,96.09 645.64,96.14 649.69,96.19 653.75,96.23 657.8,96.27 661.85,96.3 665.91,96.33 669.96,96.35 674.02,96.37 678.07,96.39 682.12,96.4 686.18,96.4 690.23,96.4 694.28,96.39 698.34,96.38 702.39,96.37 706.44,96.35 710.5,96.32 714.55,96.29 718.61,96.26 722.66,96.22 726.71,96.17 730.77,96.13 734.82,96.07 738.87,96.01 742.93,95.95 746.98,95.88 751.03,95.81 755.09,95.73 759.14,95.65 763.19,95.56 767.25,95.47 771.3,95.37 775.36,95.27 779.41,95.16 783.46,95.05 787.52,94.93 791.57,94.81 795.62,94.68 799.68,94.55 803.73,94.41 807.78,94.27 811.84,94.13 815.89,93.98 816.03,97.77 811.98,97.93 807.92,98.07 803.86,98.21 799.8,98.35 795.74,98.48 791.69,98.61 787.63,98.73 783.57,98.85 779.51,98.96 775.45,99.07 771.4,99.17 767.34,99.27 763.28,99.36 759.22,99.45 755.16,99.53 751.1,99.61 747.05,99.68 742.99,99.75 738.93,99.81 734.87,99.87 730.81,99.93 726.76,99.97 722.7,100.02 718.64,100.06 714.58,100.09 710.52,100.12 706.47,100.15 702.41,100.17 698.35,100.18 694.29,100.19 690.23,100.2 686.17,100.2 682.12,100.2 678.06,100.19 674,100.17 669.94,100.15 665.88,100.13 661.83,100.1 657.77,100.07 653.71,100.03 649.65,99.99 645.59,99.94 641.54,99.89 637.48,99.83 633.42,99.77 629.36,99.7 625.3,99.63 621.25,99.55 617.19,99.47 613.13,99.38 609.07,99.29 605.01,99.2 600.95,99.1 596.9,98.99 592.84,98.88 588.78,98.76 584.72,98.64 580.66,98.52 576.61,98.39 572.55,98.25 568.49,98.11 564.43,97.97 560.37,97.82" fill="#1e1e1e" stroke="none" stroke-width="0" stroke-linejoin="miter"/>
<line x1="542.65" y1="59.88" x2="541.35" y2="89.95" stroke="#1e1e1e" stroke-width="1.4"/>
<line x1="549.52" y1="60.17" x2="548.28" y2="90.24" stroke="#1e1e1e" stroke-width="1.4"/>
<polygon points="542.65,59.88 549.52,60.17 549.27,66.36 542.38,66.07" fill="none" stroke="#2a2a2a" stroke-width="0.9" stroke-linejoin="miter"/>
<line x1="543.05" y1="60.27" x2="548.87" y2="65.97" stroke="#333" stroke-width="0.7"/>
<line x1="549.09" y1="60.52" x2="542.81" y2="65.72" stroke="#333" stroke-width="0.7"/>
<polygon points="541.62,83.75 548.54,84.05 548.28,90.24 541.35,89.95" fill="none" stroke="#2a2a2a" stroke-width="0.9" stroke-linejoin="miter"/>
<line x1="542.02" y1="84.14" x2="547.88" y2="89.85" stroke="#333" stroke-width="0.7"/>
<line x1="548.11" y1="84.4" x2="541.79" y2="89.59" stroke="#333" stroke-width="0.7"/>
<line x1="825.48" y1="60.17" x2="826.71" y2="90.25" stroke="#1e1e1e" stroke-width="1.4"/>
<line x1="832.85" y1="59.86" x2="834.15" y2="89.94" stroke="#1e1e1e" stroke-width="1.4"/>
<polygon points="825.48,60.17 832.85,59.86 833.12,66.06 825.74,66.37" fill="none" stroke="#2a2a2a" stroke-width="0.9" stroke-linejoin="miter"/>
<line x1="825.94" y1="60.53" x2="832.66" y2="65.7" stroke="#333" stroke-width="0.7"/>
<line x1="832.42" y1="60.25" x2="826.16" y2="65.98" stroke="#333" stroke-width="0.7"/>
<polygon points="826.46,84.05 833.88,83.74 834.15,89.94 826.71,90.25" fill="none" stroke="#2a2a2a" stroke-width="0.9" stroke-linejoin="miter"/>
<line x1="826.92" y1="84.41" x2="833.69" y2="89.58" stroke="#333" stroke-width="0.7"/>
<line x1="833.45" y1="84.13" x2="827.15" y2="89.86" stroke="#333" stroke-width="0.7"/>
<line x1="814.09" y1="54.22" x2="815.72" y2="97.49" stroke="#1e1e1e" stroke-width="1.45"/>
<line x1="566.65" y1="82.59" x2="566.65" y2="90.93" stroke="#404040" stroke-width="0.7"/>
<polygon points="565.75,87.01 567.55,87.01 566.65,84.26" fill="#2a2a2a" stroke="none" stroke-width="0" stroke-linejoin="miter"/>
<line x1="571.91" y1="82.3" x2="571.91" y2="89.11" stroke="#909090" stroke-width="0.7"/>
<polygon points="571.01,86.7 572.81,86.7 571.91,89.61" fill="#2a2a2a" stroke="none" stroke-width="0" stroke-linejoin="miter"/>
<line x1="577.16" y1="82.01" x2="577.16" y2="91.29" stroke="#404040" stroke-width="0.7"/>
<polygon points="576.26,86.93 578.06,86.93 577.16,83.87" fill="#2a2a2a" stroke="none" stroke-width="0" stroke-linejoin="miter"/>
<line x1="582.41" y1="81.74" x2="582.41" y2="89.3" stroke="#909090" stroke-width="0.7"/>
<polygon points="581.51,86.6 583.31,86.6 582.41,89.8" fill="#2a2a2a" stroke="none" stroke-width="0" stroke-linejoin="miter"/>
<line x1="587.66" y1="81.48" x2="587.66" y2="91.62" stroke="#404040" stroke-width="0.7"/>
<polygon points="586.76,86.71 588.56,86.71 587.66,83.51" fill="#2a2a2a" stroke="none" stroke-width="0" stroke-linejoin="miter"/>
<line x1="592.92" y1="81.24" x2="592.92" y2="89.48" stroke="#909090" stroke-width="0.7"/>
<polygon points="592.02,86.78 593.82,86.78 592.92,89.98" fill="#2a2a2a" stroke="none" stroke-width="0" stroke-linejoin="miter"/>
<line x1="598.17" y1="81.01" x2="598.17" y2="91.91" stroke="#404040" stroke-width="0.7"/>
<polygon points="597.27,86.39 599.07,86.39 598.17,83.19" fill="#2a2a2a" stroke="none" stroke-width="0" stroke-linejoin="miter"/>
<line x1="603.42" y1="80.79" x2="603.42" y2="89.65" stroke="#909090" stroke-width="0.7"/>
<polygon points="602.52,86.95 604.32,86.95 603.42,90.15" fill="#2a2a2a" stroke="none" stroke-width="0" stroke-linejoin="miter"/>
<line x1="608.68" y1="80.58" x2="608.68" y2="92.17" stroke="#404040" stroke-width="0.7"/>
<polygon points="607.78,85.98 609.58,85.98 608.68,82.78" fill="#2a2a2a" stroke="none" stroke-width="0" stroke-linejoin="miter"/>
<line x1="613.93" y1="80.39" x2="613.93" y2="89.89" stroke="#909090" stroke-width="0.7"/>
<polygon points="613.03,87.19 614.83,87.19 613.93,90.39" fill="#2a2a2a" stroke="none" stroke-width="0" stroke-linejoin="miter"/>
<line x1="619.18" y1="80.21" x2="619.18" y2="92.4" stroke="#404040" stroke-width="0.7"/>
<polygon points="618.28,85.61 620.08,85.61 619.18,82.41" fill="#2a2a2a" stroke="none" stroke-width="0" stroke-linejoin="miter"/>
<line x1="624.44" y1="80.04" x2="624.44" y2="90.11" stroke="#909090" stroke-width="0.7"/>
<polygon points="623.54,87.41 625.34,87.41 624.44,90.61" fill="#2a2a2a" stroke="none" stroke-width="0" stroke-linejoin="miter"/>
<line x1="629.69" y1="79.89" x2="629.69" y2="92.6" stroke="#404040" stroke-width="0.7"/>
<polygon points="628.79,85.29 630.59,85.29 629.69,82.09" fill="#2a2a2a" stroke="none" stroke-width="0" stroke-linejoin="miter"/>
<line x1="634.94" y1="79.75" x2="634.94" y2="90.29" stroke="#909090" stroke-width="0.7"/>
<polygon points="634.04,87.59 635.84,87.59 634.94,90.79" fill="#2a2a2a" stroke="none" stroke-width="0" stroke-linejoin="miter"/>
<line x1="640.19" y1="79.62" x2="640.19" y2="92.77" stroke="#404040" stroke-width="0.7"/>
<polygon points="639.29,85.02 641.09,85.02 640.19,81.82" fill="#2a2a2a" stroke="none" stroke-width="0" stroke-linejoin="miter"/>
<line x1="645.45" y1="79.5" x2="645.45" y2="90.44" stroke="#909090" stroke-width="0.7"/>
<polygon points="644.55,87.74 646.35,87.74 645.45,90.94" fill="#2a2a2a" stroke="none" stroke-width="0" stroke-linejoin="miter"/>
<line x1="650.7" y1="79.4" x2="650.7" y2="92.9" stroke="#404040" stroke-width="0.7"/>
<polygon points="649.8,84.8 651.6,84.8 650.7,81.6" fill="#2a2a2a" stroke="none" stroke-width="0" stroke-linejoin="miter"/>
<line x1="655.95" y1="79.31" x2="655.95" y2="90.55" stroke="#909090" stroke-width="0.7"/>
<polygon points="655.05,87.85 656.85,87.85 655.95,91.05" fill="#2a2a2a" stroke="none" stroke-width="0" stroke-linejoin="miter"/>
<line x1="661.21" y1="79.24" x2="661.21" y2="93" stroke="#404040" stroke-width="0.7"/>
<polygon points="660.31,84.64 662.11,84.64 661.21,81.44" fill="#2a2a2a" stroke="none" stroke-width="0" stroke-linejoin="miter"/>
<line x1="666.46" y1="79.17" x2="666.46" y2="90.63" stroke="#909090" stroke-width="0.7"/>
<polygon points="665.56,87.93 667.36,87.93 666.46,91.13" fill="#2a2a2a" stroke="none" stroke-width="0" stroke-linejoin="miter"/>
<line x1="671.71" y1="79.12" x2="671.71" y2="93.06" stroke="#404040" stroke-width="0.7"/>
<polygon points="670.81,84.52 672.61,84.52 671.71,81.32" fill="#2a2a2a" stroke="none" stroke-width="0" stroke-linejoin="miter"/>
<line x1="676.97" y1="79.09" x2="676.97" y2="90.68" stroke="#909090" stroke-width="0.7"/>
<polygon points="676.07,87.98 677.87,87.98 676.97,91.18" fill="#2a2a2a" stroke="none" stroke-width="0" stroke-linejoin="miter"/>
<line x1="682.22" y1="79.06" x2="682.22" y2="93.1" stroke="#404040" stroke-width="0.7"/>
<polygon points="681.32,84.46 683.12,84.46 682.22,81.26" fill="#2a2a2a" stroke="none" stroke-width="0" stroke-linejoin="miter"/>
<line x1="687.47" y1="79.05" x2="687.47" y2="90.7" stroke="#909090" stroke-width="0.7"/>
<polygon points="686.57,88 688.37,88 687.47,91.2" fill="#2a2a2a" stroke="none" stroke-width="0" stroke-linejoin="miter"/>
<line x1="692.72" y1="79.05" x2="692.72" y2="93.1" stroke="#404040" stroke-width="0.7"/>
<polygon points="691.82,84.45 693.62,84.45 692.72,81.25" fill="#2a2a2a" stroke="none" stroke-width="0" stroke-linejoin="miter"/>
<line x1="697.98" y1="79.07" x2="697.98" y2="90.68" stroke="#909090" stroke-width="0.7"/>
<polygon points="697.08,87.98 698.88,87.98 697.98,91.18" fill="#2a2a2a" stroke="none" stroke-width="0" stroke-linejoin="miter"/>
<line x1="703.23" y1="79.1" x2="703.23" y2="93.06" stroke="#404040" stroke-width="0.7"/>
<polygon points="702.33,84.5 704.13,84.5 703.23,81.3" fill="#2a2a2a" stroke="none" stroke-width="0" stroke-linejoin="miter"/>
<line x1="708.48" y1="79.14" x2="708.48" y2="90.64" stroke="#909090" stroke-width="0.7"/>
<polygon points="707.58,87.94 709.38,87.94 708.48,91.14" fill="#2a2a2a" stroke="none" stroke-width="0" stroke-linejoin="miter"/>
<line x1="713.74" y1="79.19" x2="713.74" y2="93" stroke="#404040" stroke-width="0.7"/>
<polygon points="712.84,84.59 714.64,84.59 713.74,81.39" fill="#2a2a2a" stroke="none" stroke-width="0" stroke-linejoin="miter"/>
<line x1="718.99" y1="79.26" x2="718.99" y2="90.55" stroke="#909090" stroke-width="0.7"/>
<polygon points="718.09,87.85 719.89,87.85 718.99,91.05" fill="#2a2a2a" stroke="none" stroke-width="0" stroke-linejoin="miter"/>
<line x1="724.24" y1="79.34" x2="724.24" y2="92.9" stroke="#404040" stroke-width="0.7"/>
<polygon points="723.34,84.74 725.14,84.74 724.24,81.54" fill="#2a2a2a" stroke="none" stroke-width="0" stroke-linejoin="miter"/>
<line x1="729.5" y1="79.43" x2="729.5" y2="90.44" stroke="#909090" stroke-width="0.7"/>
<polygon points="728.6,87.74 730.4,87.74 729.5,90.94" fill="#2a2a2a" stroke="none" stroke-width="0" stroke-linejoin="miter"/>
<line x1="734.75" y1="79.54" x2="734.75" y2="92.77" stroke="#404040" stroke-width="0.7"/>
<polygon points="733.85,84.94 735.65,84.94 734.75,81.74" fill="#2a2a2a" stroke="none" stroke-width="0" stroke-linejoin="miter"/>
<line x1="740" y1="79.66" x2="740" y2="90.29" stroke="#909090" stroke-width="0.7"/>
<polygon points="739.1,87.59 740.9,87.59 740,90.79" fill="#2a2a2a" stroke="none" stroke-width="0" stroke-linejoin="miter"/>
<line x1="745.25" y1="79.79" x2="745.25" y2="92.61" stroke="#404040" stroke-width="0.7"/>
<polygon points="744.36,85.19 746.15,85.19 745.25,81.99" fill="#2a2a2a" stroke="none" stroke-width="0" stroke-linejoin="miter"/>
<line x1="750.51" y1="79.93" x2="750.51" y2="90.11" stroke="#909090" stroke-width="0.7"/>
<polygon points="749.61,87.41 751.41,87.41 750.51,90.61" fill="#2a2a2a" stroke="none" stroke-width="0" stroke-linejoin="miter"/>
<line x1="755.76" y1="80.09" x2="755.76" y2="92.41" stroke="#404040" stroke-width="0.7"/>
<polygon points="754.86,85.49 756.66,85.49 755.76,82.29" fill="#2a2a2a" stroke="none" stroke-width="0" stroke-linejoin="miter"/>
<line x1="761.01" y1="80.26" x2="761.01" y2="89.9" stroke="#909090" stroke-width="0.7"/>
<polygon points="760.11,87.2 761.91,87.2 761.01,90.4" fill="#2a2a2a" stroke="none" stroke-width="0" stroke-linejoin="miter"/>
<line x1="766.27" y1="80.45" x2="766.27" y2="92.18" stroke="#404040" stroke-width="0.7"/>
<polygon points="765.37,85.85 767.17,85.85 766.27,82.65" fill="#2a2a2a" stroke="none" stroke-width="0" stroke-linejoin="miter"/>
<line x1="771.52" y1="80.64" x2="771.52" y2="89.65" stroke="#909090" stroke-width="0.7"/>
<polygon points="770.62,86.95 772.42,86.95 771.52,90.15" fill="#2a2a2a" stroke="none" stroke-width="0" stroke-linejoin="miter"/>
<line x1="776.77" y1="80.85" x2="776.77" y2="91.92" stroke="#404040" stroke-width="0.7"/>
<polygon points="775.87,86.25 777.67,86.25 776.77,83.05" fill="#2a2a2a" stroke="none" stroke-width="0" stroke-linejoin="miter"/>
<line x1="782.03" y1="81.08" x2="782.03" y2="89.46" stroke="#909090" stroke-width="0.7"/>
<polygon points="781.13,86.76 782.93,86.76 782.03,89.96" fill="#2a2a2a" stroke="none" stroke-width="0" stroke-linejoin="miter"/>
<line x1="787.28" y1="81.31" x2="787.28" y2="91.62" stroke="#404040" stroke-width="0.7"/>
<polygon points="786.38,86.57 788.18,86.57 787.28,83.37" fill="#2a2a2a" stroke="none" stroke-width="0" stroke-linejoin="miter"/>
<line x1="792.53" y1="81.56" x2="792.53" y2="89.28" stroke="#909090" stroke-width="0.7"/>
<polygon points="791.63,86.58 793.43,86.58 792.53,89.78" fill="#2a2a2a" stroke="none" stroke-width="0" stroke-linejoin="miter"/>
<line x1="797.78" y1="81.82" x2="797.78" y2="91.3" stroke="#404040" stroke-width="0.7"/>
<polygon points="796.88,86.84 798.68,86.84 797.78,83.72" fill="#2a2a2a" stroke="none" stroke-width="0" stroke-linejoin="miter"/>
<line x1="803.04" y1="82.1" x2="803.04" y2="89.09" stroke="#909090" stroke-width="0.7"/>
<polygon points="802.14,86.61 803.94,86.61 803.04,89.59" fill="#2a2a2a" stroke="none" stroke-width="0" stroke-linejoin="miter"/>
<line x1="808.29" y1="82.39" x2="808.29" y2="90.93" stroke="#404040" stroke-width="0.7"/>
<polygon points="807.39,86.92 809.19,86.92 808.29,84.1" fill="#2a2a2a" stroke="none" stroke-width="0" stroke-linejoin="miter"/>
<g transform="matrix(1 0 0 -1 0 200.5)">
<polygon points="501.77,70.83 505.81,70.48 509.84,70.14 513.87,69.8 517.9,69.47 521.94,69.15 525.97,68.83 530,68.53 534.04,68.23 538.07,67.94 542.1,67.65 546.13,67.38 550.17,67.11 554.2,66.85 558.23,66.6 562.27,66.35 566.3,66.11 570.33,65.88 574.36,65.66 578.4,65.45 582.43,65.24 586.46,65.04 590.49,64.85 594.53,64.67 598.56,64.49 602.59,64.32 606.63,64.16 610.66,64.01 614.69,63.86 618.72,63.72 622.76,63.59 626.79,63.47 630.82,63.36 634.86,63.25 638.89,63.15 642.92,63.06 646.95,62.97 650.99,62.9 655.02,62.83 659.05,62.77 663.09,62.71 667.12,62.67 671.15,62.63 675.18,62.6 679.22,62.57 683.25,62.56 687.28,62.55 691.32,62.55 695.35,62.56 699.38,62.57 703.42,62.6 707.45,62.63 711.48,62.67 715.51,62.71 719.55,62.77 723.58,62.83 727.61,62.9 731.65,62.97 735.68,63.06 739.71,63.15 743.74,63.25 747.78,63.36 751.81,63.47 755.84,63.59 759.88,63.72 763.91,63.86 767.94,64.01 771.97,64.16 776.01,64.32 780.04,64.49 784.07,64.67 788.11,64.85 792.14,65.04 796.17,65.24 800.2,65.45 804.24,65.66 808.27,65.88 812.3,66.11 816.33,66.35 820.37,66.6 824.4,66.85 828.43,67.11 832.47,67.38 836.5,67.65 840.53,67.94 844.56,68.23 848.6,68.53 852.63,68.83 856.66,69.15 860.7,69.47 864.73,69.8 868.76,70.14 872.79,70.48 876.83,70.83 875.37,87.27 871.37,86.92 867.37,86.58 863.37,86.24 859.37,85.92 855.37,85.6 851.36,85.29 847.36,84.98 843.36,84.69 839.36,84.4 835.36,84.11 831.36,83.84 827.35,83.58 823.35,83.32 819.35,83.07 815.35,82.82 811.35,82.59 807.35,82.36 803.34,82.14 799.34,81.93 795.34,81.72 791.34,81.52 787.34,81.33 783.34,81.15 779.33,80.97 775.33,80.81 771.33,80.65 767.33,80.5 763.33,80.35 759.33,80.21 755.33,80.09 751.32,79.96 747.32,79.85 743.32,79.74 739.32,79.64 735.32,79.55 731.32,79.47 727.31,79.39 723.31,79.32 719.31,79.26 715.31,79.21 711.31,79.17 707.31,79.13 703.31,79.1 699.3,79.07 695.3,79.06 691.3,79.05 687.3,79.05 683.3,79.06 679.3,79.07 675.29,79.1 671.29,79.13 667.29,79.17 663.29,79.21 659.29,79.26 655.29,79.32 651.29,79.39 647.28,79.47 643.28,79.55 639.28,79.64 635.28,79.74 631.28,79.85 627.28,79.96 623.27,80.09 619.27,80.21 615.27,80.35 611.27,80.5 607.27,80.65 603.27,80.81 599.27,80.97 595.26,81.15 591.26,81.33 587.26,81.52 583.26,81.72 579.26,81.93 575.26,82.14 571.25,82.36 567.25,82.59 563.25,82.82 559.25,83.07 555.25,83.32 551.25,83.58 547.24,83.84 543.24,84.11 539.24,84.4 535.24,84.69 531.24,84.98 527.24,85.29 523.23,85.6 519.23,85.92 515.23,86.24 511.23,86.58 507.23,86.92 503.23,87.27" fill="none" stroke="#1e1e1e" stroke-width="1.45" stroke-linejoin="miter"/>
<polyline points="504,78.92 508.03,78.57 512.06,78.23 516.08,77.9 520.11,77.57 524.14,77.25 528.17,76.94 532.2,76.64 536.23,76.34 540.25,76.05 544.28,75.77 548.31,75.5 552.34,75.24 556.37,74.98 560.4,74.73 564.42,74.49 568.45,74.25 572.48,74.03 576.51,73.81 580.54,73.6 584.57,73.39 588.59,73.2 592.62,73.01 596.65,72.83 600.68,72.66 604.71,72.49 608.73,72.34 612.76,72.19 616.79,72.04 620.82,71.91 624.85,71.78 628.88,71.66 632.9,71.55 636.93,71.45 640.96,71.35 644.99,71.26 649.02,71.18 653.05,71.11 657.07,71.05 661.1,70.99 665.13,70.94 669.16,70.9 673.19,70.86 677.22,70.83 681.24,70.82 685.27,70.8 689.3,70.8 693.33,70.8 697.36,70.82 701.38,70.83 705.41,70.86 709.44,70.9 713.47,70.94 717.5,70.99 721.53,71.05 725.55,71.11 729.58,71.18 733.61,71.26 737.64,71.35 741.67,71.45 745.7,71.55 749.72,71.66 753.75,71.78 757.78,71.91 761.81,72.04 765.84,72.19 769.87,72.34 773.89,72.49 777.92,72.66 781.95,72.83 785.98,73.01 790.01,73.2 794.03,73.39 798.06,73.6 802.09,73.81 806.12,74.03 810.15,74.25 814.18,74.49 818.2,74.73 822.23,74.98 826.26,75.24 830.29,75.5 834.32,75.77 838.35,76.05 842.37,76.34 846.4,76.64 850.43,76.94 854.46,77.25 858.49,77.57 862.52,77.9 866.54,78.23 870.57,78.57 874.6,78.92" fill="none" stroke="#777" stroke-width="1" stroke-dasharray="3.3 2.3"/>
<polygon points="530.68,56.64 534.7,56.82 538.73,57 542.75,57.18 546.77,57.35 550.8,57.52 554.82,57.68 558.85,57.83 562.87,57.99 566.89,58.13 570.92,58.27 574.94,58.41 578.96,58.54 582.99,58.67 587.01,58.79 591.03,58.91 595.06,59.03 599.08,59.13 603.11,59.24 607.13,59.34 611.15,59.43 615.18,59.52 619.2,59.6 623.22,59.68 627.25,59.76 631.27,59.83 635.29,59.89 639.32,59.95 643.34,60.01 647.36,60.06 651.39,60.1 655.41,60.15 659.44,60.18 663.46,60.21 667.48,60.24 671.51,60.26 675.53,60.28 679.55,60.29 683.58,60.3 687.6,60.3 691.62,60.3 695.65,60.29 699.67,60.28 703.69,60.26 707.72,60.24 711.74,60.21 715.76,60.18 719.79,60.15 723.81,60.1 727.84,60.06 731.86,60.01 735.88,59.95 739.91,59.89 743.93,59.83 747.95,59.76 751.98,59.68 756,59.6 760.02,59.52 764.05,59.43 768.07,59.34 772.09,59.24 776.12,59.13 780.14,59.03 784.17,58.91 788.19,58.79 792.21,58.67 796.24,58.54 800.26,58.41 804.28,58.27 808.31,58.13 812.33,57.99 816.35,57.83 820.38,57.68 824.4,57.52 828.43,57.35 832.45,57.18 836.47,57 840.5,56.82 844.52,56.64 846.18,92.2 842.11,92.39 838.05,92.57 833.98,92.75 829.92,92.92 825.85,93.09 821.78,93.25 817.72,93.41 813.65,93.56 809.59,93.71 805.52,93.85 801.45,93.99 797.39,94.13 793.32,94.25 789.25,94.38 785.19,94.5 781.12,94.61 777.06,94.72 772.99,94.83 768.92,94.93 764.86,95.02 760.79,95.11 756.73,95.2 752.66,95.28 748.59,95.35 744.53,95.42 740.46,95.49 736.39,95.55 732.33,95.61 728.26,95.66 724.2,95.7 720.13,95.74 716.06,95.78 712,95.81 707.93,95.84 703.86,95.86 699.8,95.88 695.73,95.89 691.67,95.9 687.6,95.9 683.53,95.9 679.47,95.89 675.4,95.88 671.34,95.86 667.27,95.84 663.2,95.81 659.14,95.78 655.07,95.74 651,95.7 646.94,95.66 642.87,95.61 638.81,95.55 634.74,95.49 630.67,95.42 626.61,95.35 622.54,95.28 618.47,95.2 614.41,95.11 610.34,95.02 606.28,94.93 602.21,94.83 598.14,94.72 594.08,94.61 590.01,94.5 585.95,94.38 581.88,94.25 577.81,94.13 573.75,93.99 569.68,93.85 565.61,93.71 561.55,93.56 557.48,93.41 553.42,93.25 549.35,93.09 545.28,92.92 541.22,92.75 537.15,92.57 533.09,92.39 529.02,92.2" fill="none" stroke="#1e1e1e" stroke-width="1.45" stroke-linejoin="miter"/>
<polyline points="530.55,59.33 534.58,59.52 538.61,59.7 542.63,59.88 546.66,60.05 550.69,60.21 554.72,60.37 558.74,60.53 562.77,60.68 566.8,60.83 570.82,60.97 574.85,61.11 578.88,61.24 582.9,61.37 586.93,61.49 590.96,61.61 594.98,61.72 599.01,61.83 603.04,61.94 607.06,62.04 611.09,62.13 615.12,62.22 619.14,62.3 623.17,62.38 627.2,62.46 631.22,62.53 635.25,62.59 639.28,62.65 643.31,62.71 647.33,62.76 651.36,62.8 655.39,62.85 659.41,62.88 663.44,62.91 667.47,62.94 671.49,62.96 675.52,62.98 679.55,62.99 683.57,63 687.6,63 691.63,63 695.65,62.99 699.68,62.98 703.71,62.96 707.73,62.94 711.76,62.91 715.79,62.88 719.81,62.85 723.84,62.8 727.87,62.76 731.89,62.71 735.92,62.65 739.95,62.59 743.98,62.53 748,62.46 752.03,62.38 756.06,62.3 760.08,62.22 764.11,62.13 768.14,62.04 772.16,61.94 776.19,61.83 780.22,61.72 784.24,61.61 788.27,61.49 792.3,61.37 796.32,61.24 800.35,61.11 804.38,60.97 808.4,60.83 812.43,60.68 816.46,60.53 820.48,60.37 824.51,60.21 828.54,60.05 832.57,59.88 836.59,59.7 840.62,59.52 844.65,59.33" fill="none" stroke="#2a2a2a" stroke-width="1" />
<polyline points="529.15,89.4 533.21,89.59 537.28,89.77 541.34,89.95 545.4,90.12 549.46,90.29 553.53,90.45 557.59,90.61 561.65,90.76 565.72,90.91 569.78,91.05 573.84,91.19 577.9,91.33 581.97,91.46 586.03,91.58 590.09,91.7 594.16,91.81 598.22,91.92 602.28,92.03 606.34,92.13 610.41,92.22 614.47,92.31 618.53,92.4 622.59,92.48 626.66,92.55 630.72,92.62 634.78,92.69 638.85,92.75 642.91,92.81 646.97,92.86 651.03,92.9 655.1,92.94 659.16,92.98 663.22,93.01 667.29,93.04 671.35,93.06 675.41,93.08 679.47,93.09 683.54,93.1 687.6,93.1 691.66,93.1 695.73,93.09 699.79,93.08 703.85,93.06 707.91,93.04 711.98,93.01 716.04,92.98 720.1,92.94 724.17,92.9 728.23,92.86 732.29,92.81 736.35,92.75 740.42,92.69 744.48,92.62 748.54,92.55 752.61,92.48 756.67,92.4 760.73,92.31 764.79,92.22 768.86,92.13 772.92,92.03 776.98,91.92 781.04,91.81 785.11,91.7 789.17,91.58 793.23,91.46 797.3,91.33 801.36,91.19 805.42,91.05 809.48,90.91 813.55,90.76 817.61,90.61 821.67,90.45 825.74,90.29 829.8,90.12 833.86,89.95 837.92,89.77 841.99,89.59 846.05,89.4" fill="none" stroke="#2a2a2a" stroke-width="1" />
<polygon points="561.2,55.2 600,55.55 640,56 690,56.3 740,56 780,55.2 815.2,54.4 814.56,58.7 810.55,58.85 806.54,59 802.52,59.14 798.51,59.27 794.5,59.4 790.49,59.53 786.48,59.65 782.47,59.76 778.45,59.87 774.44,59.98 770.43,60.08 766.42,60.18 762.41,60.27 758.4,60.35 754.39,60.44 750.37,60.51 746.36,60.59 742.35,60.65 738.34,60.72 734.33,60.78 730.32,60.83 726.31,60.88 722.29,60.92 718.28,60.96 714.27,60.99 710.26,61.02 706.25,61.05 702.24,61.07 698.23,61.08 694.21,61.09 690.2,61.1 686.19,61.1 682.18,61.1 678.17,61.09 674.16,61.07 670.15,61.05 666.13,61.03 662.12,61 658.11,60.97 654.1,60.93 650.09,60.89 646.08,60.84 642.07,60.79 638.05,60.73 634.04,60.67 630.03,60.61 626.02,60.54 622.01,60.46 618,60.38 613.98,60.29 609.97,60.2 605.96,60.11 601.95,60.01 597.94,59.9 593.93,59.79 589.92,59.68 585.9,59.56 581.89,59.44 577.88,59.31 573.87,59.18 569.86,59.04 565.85,58.89 561.84,58.75" fill="#1e1e1e" stroke="none" stroke-width="0" stroke-linejoin="miter"/>
<polygon points="560.52,94.02 564.57,94.17 568.62,94.32 572.68,94.46 576.73,94.59 580.78,94.72 584.84,94.85 588.89,94.97 592.94,95.08 597,95.19 601.05,95.3 605.1,95.4 609.16,95.49 613.21,95.59 617.27,95.67 621.32,95.75 625.37,95.83 629.43,95.9 633.48,95.97 637.53,96.03 641.59,96.09 645.64,96.14 649.69,96.19 653.75,96.23 657.8,96.27 661.85,96.3 665.91,96.33 669.96,96.35 674.02,96.37 678.07,96.39 682.12,96.4 686.18,96.4 690.23,96.4 694.28,96.39 698.34,96.38 702.39,96.37 706.44,96.35 710.5,96.32 714.55,96.29 718.61,96.26 722.66,96.22 726.71,96.17 730.77,96.13 734.82,96.07 738.87,96.01 742.93,95.95 746.98,95.88 751.03,95.81 755.09,95.73 759.14,95.65 763.19,95.56 767.25,95.47 771.3,95.37 775.36,95.27 779.41,95.16 783.46,95.05 787.52,94.93 791.57,94.81 795.62,94.68 799.68,94.55 803.73,94.41 807.78,94.27 811.84,94.13 815.89,93.98 816.03,97.77 811.98,97.93 807.92,98.07 803.86,98.21 799.8,98.35 795.74,98.48 791.69,98.61 787.63,98.73 783.57,98.85 779.51,98.96 775.45,99.07 771.4,99.17 767.34,99.27 763.28,99.36 759.22,99.45 755.16,99.53 751.1,99.61 747.05,99.68 742.99,99.75 738.93,99.81 734.87,99.87 730.81,99.93 726.76,99.97 722.7,100.02 718.64,100.06 714.58,100.09 710.52,100.12 706.47,100.15 702.41,100.17 698.35,100.18 694.29,100.19 690.23,100.2 686.17,100.2 682.12,100.2 678.06,100.19 674,100.17 669.94,100.15 665.88,100.13 661.83,100.1 657.77,100.07 653.71,100.03 649.65,99.99 645.59,99.94 641.54,99.89 637.48,99.83 633.42,99.77 629.36,99.7 625.3,99.63 621.25,99.55 617.19,99.47 613.13,99.38 609.07,99.29 605.01,99.2 600.95,99.1 596.9,98.99 592.84,98.88 588.78,98.76 584.72,98.64 580.66,98.52 576.61,98.39 572.55,98.25 568.49,98.11 564.43,97.97 560.37,97.82" fill="#1e1e1e" stroke="none" stroke-width="0" stroke-linejoin="miter"/>
<line x1="542.65" y1="59.88" x2="541.35" y2="89.95" stroke="#1e1e1e" stroke-width="1.4"/>
<line x1="549.52" y1="60.17" x2="548.28" y2="90.24" stroke="#1e1e1e" stroke-width="1.4"/>
<polygon points="542.65,59.88 549.52,60.17 549.27,66.36 542.38,66.07" fill="none" stroke="#2a2a2a" stroke-width="0.9" stroke-linejoin="miter"/>
<line x1="543.05" y1="60.27" x2="548.87" y2="65.97" stroke="#333" stroke-width="0.7"/>
<line x1="549.09" y1="60.52" x2="542.81" y2="65.72" stroke="#333" stroke-width="0.7"/>
<polygon points="541.62,83.75 548.54,84.05 548.28,90.24 541.35,89.95" fill="none" stroke="#2a2a2a" stroke-width="0.9" stroke-linejoin="miter"/>
<line x1="542.02" y1="84.14" x2="547.88" y2="89.85" stroke="#333" stroke-width="0.7"/>
<line x1="548.11" y1="84.4" x2="541.79" y2="89.59" stroke="#333" stroke-width="0.7"/>
<line x1="825.48" y1="60.17" x2="826.71" y2="90.25" stroke="#1e1e1e" stroke-width="1.4"/>
<line x1="832.85" y1="59.86" x2="834.15" y2="89.94" stroke="#1e1e1e" stroke-width="1.4"/>
<polygon points="825.48,60.17 832.85,59.86 833.12,66.06 825.74,66.37" fill="none" stroke="#2a2a2a" stroke-width="0.9" stroke-linejoin="miter"/>
<line x1="825.94" y1="60.53" x2="832.66" y2="65.7" stroke="#333" stroke-width="0.7"/>
<line x1="832.42" y1="60.25" x2="826.16" y2="65.98" stroke="#333" stroke-width="0.7"/>
<polygon points="826.46,84.05 833.88,83.74 834.15,89.94 826.71,90.25" fill="none" stroke="#2a2a2a" stroke-width="0.9" stroke-linejoin="miter"/>
<line x1="826.92" y1="84.41" x2="833.69" y2="89.58" stroke="#333" stroke-width="0.7"/>
<line x1="833.45" y1="84.13" x2="827.15" y2="89.86" stroke="#333" stroke-width="0.7"/>
<line x1="814.09" y1="54.22" x2="815.72" y2="97.49" stroke="#1e1e1e" stroke-width="1.45"/>
<line x1="561.4" y1="82.9" x2="561.4" y2="88.9" stroke="#909090" stroke-width="0.7"/>
<polygon points="560.5,86.82 562.3,86.82 561.4,89.4" fill="#2a2a2a" stroke="none" stroke-width="0" stroke-linejoin="miter"/>
<line x1="566.65" y1="82.59" x2="566.65" y2="90.93" stroke="#404040" stroke-width="0.7"/>
<polygon points="565.75,87.01 567.55,87.01 566.65,84.26" fill="#2a2a2a" stroke="none" stroke-width="0" stroke-linejoin="miter"/>
<line x1="571.91" y1="82.3" x2="571.91" y2="89.11" stroke="#909090" stroke-width="0.7"/>
<polygon points="571.01,86.7 572.81,86.7 571.91,89.61" fill="#2a2a2a" stroke="none" stroke-width="0" stroke-linejoin="miter"/>
<line x1="577.16" y1="82.01" x2="577.16" y2="91.29" stroke="#404040" stroke-width="0.7"/>
<polygon points="576.26,86.93 578.06,86.93 577.16,83.87" fill="#2a2a2a" stroke="none" stroke-width="0" stroke-linejoin="miter"/>
<line x1="582.41" y1="81.74" x2="582.41" y2="89.3" stroke="#909090" stroke-width="0.7"/>
<polygon points="581.51,86.6 583.31,86.6 582.41,89.8" fill="#2a2a2a" stroke="none" stroke-width="0" stroke-linejoin="miter"/>
<line x1="587.66" y1="81.48" x2="587.66" y2="91.62" stroke="#404040" stroke-width="0.7"/>
<polygon points="586.76,86.71 588.56,86.71 587.66,83.51" fill="#2a2a2a" stroke="none" stroke-width="0" stroke-linejoin="miter"/>
<line x1="592.92" y1="81.24" x2="592.92" y2="89.48" stroke="#909090" stroke-width="0.7"/>
<polygon points="592.02,86.78 593.82,86.78 592.92,89.98" fill="#2a2a2a" stroke="none" stroke-width="0" stroke-linejoin="miter"/>
<line x1="598.17" y1="81.01" x2="598.17" y2="91.91" stroke="#404040" stroke-width="0.7"/>
<polygon points="597.27,86.39 599.07,86.39 598.17,83.19" fill="#2a2a2a" stroke="none" stroke-width="0" stroke-linejoin="miter"/>
<line x1="603.42" y1="80.79" x2="603.42" y2="89.65" stroke="#909090" stroke-width="0.7"/>
<polygon points="602.52,86.95 604.32,86.95 603.42,90.15" fill="#2a2a2a" stroke="none" stroke-width="0" stroke-linejoin="miter"/>
<line x1="608.68" y1="80.58" x2="608.68" y2="92.17" stroke="#404040" stroke-width="0.7"/>
<polygon points="607.78,85.98 609.58,85.98 608.68,82.78" fill="#2a2a2a" stroke="none" stroke-width="0" stroke-linejoin="miter"/>
<line x1="613.93" y1="80.39" x2="613.93" y2="89.89" stroke="#909090" stroke-width="0.7"/>
<polygon points="613.03,87.19 614.83,87.19 613.93,90.39" fill="#2a2a2a" stroke="none" stroke-width="0" stroke-linejoin="miter"/>
<line x1="619.18" y1="80.21" x2="619.18" y2="92.4" stroke="#404040" stroke-width="0.7"/>
<polygon points="618.28,85.61 620.08,85.61 619.18,82.41" fill="#2a2a2a" stroke="none" stroke-width="0" stroke-linejoin="miter"/>
<line x1="624.44" y1="80.04" x2="624.44" y2="90.11" stroke="#909090" stroke-width="0.7"/>
<polygon points="623.54,87.41 625.34,87.41 624.44,90.61" fill="#2a2a2a" stroke="none" stroke-width="0" stroke-linejoin="miter"/>
<line x1="629.69" y1="79.89" x2="629.69" y2="92.6" stroke="#404040" stroke-width="0.7"/>
<polygon points="628.79,85.29 630.59,85.29 629.69,82.09" fill="#2a2a2a" stroke="none" stroke-width="0" stroke-linejoin="miter"/>
<line x1="634.94" y1="79.75" x2="634.94" y2="90.29" stroke="#909090" stroke-width="0.7"/>
<polygon points="634.04,87.59 635.84,87.59 634.94,90.79" fill="#2a2a2a" stroke="none" stroke-width="0" stroke-linejoin="miter"/>
<line x1="640.19" y1="79.62" x2="640.19" y2="92.77" stroke="#404040" stroke-width="0.7"/>
<polygon points="639.29,85.02 641.09,85.02 640.19,81.82" fill="#2a2a2a" stroke="none" stroke-width="0" stroke-linejoin="miter"/>
<line x1="645.45" y1="79.5" x2="645.45" y2="90.44" stroke="#909090" stroke-width="0.7"/>
<polygon points="644.55,87.74 646.35,87.74 645.45,90.94" fill="#2a2a2a" stroke="none" stroke-width="0" stroke-linejoin="miter"/>
<line x1="650.7" y1="79.4" x2="650.7" y2="92.9" stroke="#404040" stroke-width="0.7"/>
<polygon points="649.8,84.8 651.6,84.8 650.7,81.6" fill="#2a2a2a" stroke="none" stroke-width="0" stroke-linejoin="miter"/>
<line x1="655.95" y1="79.31" x2="655.95" y2="90.55" stroke="#909090" stroke-width="0.7"/>
<polygon points="655.05,87.85 656.85,87.85 655.95,91.05" fill="#2a2a2a" stroke="none" stroke-width="0" stroke-linejoin="miter"/>
<line x1="661.21" y1="79.24" x2="661.21" y2="93" stroke="#404040" stroke-width="0.7"/>
<polygon points="660.31,84.64 662.11,84.64 661.21,81.44" fill="#2a2a2a" stroke="none" stroke-width="0" stroke-linejoin="miter"/>
<line x1="666.46" y1="79.17" x2="666.46" y2="90.63" stroke="#909090" stroke-width="0.7"/>
<polygon points="665.56,87.93 667.36,87.93 666.46,91.13" fill="#2a2a2a" stroke="none" stroke-width="0" stroke-linejoin="miter"/>
<line x1="671.71" y1="79.12" x2="671.71" y2="93.06" stroke="#404040" stroke-width="0.7"/>
<polygon points="670.81,84.52 672.61,84.52 671.71,81.32" fill="#2a2a2a" stroke="none" stroke-width="0" stroke-linejoin="miter"/>
<line x1="676.97" y1="79.09" x2="676.97" y2="90.68" stroke="#909090" stroke-width="0.7"/>
<polygon points="676.07,87.98 677.87,87.98 676.97,91.18" fill="#2a2a2a" stroke="none" stroke-width="0" stroke-linejoin="miter"/>
<line x1="682.22" y1="79.06" x2="682.22" y2="93.1" stroke="#404040" stroke-width="0.7"/>
<polygon points="681.32,84.46 683.12,84.46 682.22,81.26" fill="#2a2a2a" stroke="none" stroke-width="0" stroke-linejoin="miter"/>
<line x1="687.47" y1="79.05" x2="687.47" y2="90.7" stroke="#909090" stroke-width="0.7"/>
<polygon points="686.57,88 688.37,88 687.47,91.2" fill="#2a2a2a" stroke="none" stroke-width="0" stroke-linejoin="miter"/>
<line x1="692.72" y1="79.05" x2="692.72" y2="93.1" stroke="#404040" stroke-width="0.7"/>
<polygon points="691.82,84.45 693.62,84.45 692.72,81.25" fill="#2a2a2a" stroke="none" stroke-width="0" stroke-linejoin="miter"/>
<line x1="697.98" y1="79.07" x2="697.98" y2="90.68" stroke="#909090" stroke-width="0.7"/>
<polygon points="697.08,87.98 698.88,87.98 697.98,91.18" fill="#2a2a2a" stroke="none" stroke-width="0" stroke-linejoin="miter"/>
<line x1="703.23" y1="79.1" x2="703.23" y2="93.06" stroke="#404040" stroke-width="0.7"/>
<polygon points="702.33,84.5 704.13,84.5 703.23,81.3" fill="#2a2a2a" stroke="none" stroke-width="0" stroke-linejoin="miter"/>
<line x1="708.48" y1="79.14" x2="708.48" y2="90.64" stroke="#909090" stroke-width="0.7"/>
<polygon points="707.58,87.94 709.38,87.94 708.48,91.14" fill="#2a2a2a" stroke="none" stroke-width="0" stroke-linejoin="miter"/>
<line x1="713.74" y1="79.19" x2="713.74" y2="93" stroke="#404040" stroke-width="0.7"/>
<polygon points="712.84,84.59 714.64,84.59 713.74,81.39" fill="#2a2a2a" stroke="none" stroke-width="0" stroke-linejoin="miter"/>
<line x1="718.99" y1="79.26" x2="718.99" y2="90.55" stroke="#909090" stroke-width="0.7"/>
<polygon points="718.09,87.85 719.89,87.85 718.99,91.05" fill="#2a2a2a" stroke="none" stroke-width="0" stroke-linejoin="miter"/>
<line x1="724.24" y1="79.34" x2="724.24" y2="92.9" stroke="#404040" stroke-width="0.7"/>
<polygon points="723.34,84.74 725.14,84.74 724.24,81.54" fill="#2a2a2a" stroke="none" stroke-width="0" stroke-linejoin="miter"/>
<line x1="729.5" y1="79.43" x2="729.5" y2="90.44" stroke="#909090" stroke-width="0.7"/>
<polygon points="728.6,87.74 730.4,87.74 729.5,90.94" fill="#2a2a2a" stroke="none" stroke-width="0" stroke-linejoin="miter"/>
<line x1="734.75" y1="79.54" x2="734.75" y2="92.77" stroke="#404040" stroke-width="0.7"/>
<polygon points="733.85,84.94 735.65,84.94 734.75,81.74" fill="#2a2a2a" stroke="none" stroke-width="0" stroke-linejoin="miter"/>
<line x1="740" y1="79.66" x2="740" y2="90.29" stroke="#909090" stroke-width="0.7"/>
<polygon points="739.1,87.59 740.9,87.59 740,90.79" fill="#2a2a2a" stroke="none" stroke-width="0" stroke-linejoin="miter"/>
<line x1="745.25" y1="79.79" x2="745.25" y2="92.61" stroke="#404040" stroke-width="0.7"/>
<polygon points="744.36,85.19 746.15,85.19 745.25,81.99" fill="#2a2a2a" stroke="none" stroke-width="0" stroke-linejoin="miter"/>
<line x1="750.51" y1="79.93" x2="750.51" y2="90.11" stroke="#909090" stroke-width="0.7"/>
<polygon points="749.61,87.41 751.41,87.41 750.51,90.61" fill="#2a2a2a" stroke="none" stroke-width="0" stroke-linejoin="miter"/>
<line x1="755.76" y1="80.09" x2="755.76" y2="92.41" stroke="#404040" stroke-width="0.7"/>
<polygon points="754.86,85.49 756.66,85.49 755.76,82.29" fill="#2a2a2a" stroke="none" stroke-width="0" stroke-linejoin="miter"/>
<line x1="761.01" y1="80.26" x2="761.01" y2="89.9" stroke="#909090" stroke-width="0.7"/>
<polygon points="760.11,87.2 761.91,87.2 761.01,90.4" fill="#2a2a2a" stroke="none" stroke-width="0" stroke-linejoin="miter"/>
<line x1="766.27" y1="80.45" x2="766.27" y2="92.18" stroke="#404040" stroke-width="0.7"/>
<polygon points="765.37,85.85 767.17,85.85 766.27,82.65" fill="#2a2a2a" stroke="none" stroke-width="0" stroke-linejoin="miter"/>
<line x1="771.52" y1="80.64" x2="771.52" y2="89.65" stroke="#909090" stroke-width="0.7"/>
<polygon points="770.62,86.95 772.42,86.95 771.52,90.15" fill="#2a2a2a" stroke="none" stroke-width="0" stroke-linejoin="miter"/>
<line x1="776.77" y1="80.85" x2="776.77" y2="91.92" stroke="#404040" stroke-width="0.7"/>
<polygon points="775.87,86.25 777.67,86.25 776.77,83.05" fill="#2a2a2a" stroke="none" stroke-width="0" stroke-linejoin="miter"/>
<line x1="782.03" y1="81.08" x2="782.03" y2="89.46" stroke="#909090" stroke-width="0.7"/>
<polygon points="781.13,86.76 782.93,86.76 782.03,89.96" fill="#2a2a2a" stroke="none" stroke-width="0" stroke-linejoin="miter"/>
<line x1="787.28" y1="81.31" x2="787.28" y2="91.62" stroke="#404040" stroke-width="0.7"/>
<polygon points="786.38,86.57 788.18,86.57 787.28,83.37" fill="#2a2a2a" stroke="none" stroke-width="0" stroke-linejoin="miter"/>
<line x1="792.53" y1="81.56" x2="792.53" y2="89.28" stroke="#909090" stroke-width="0.7"/>
<polygon points="791.63,86.58 793.43,86.58 792.53,89.78" fill="#2a2a2a" stroke="none" stroke-width="0" stroke-linejoin="miter"/>
<line x1="797.78" y1="81.82" x2="797.78" y2="91.3" stroke="#404040" stroke-width="0.7"/>
<polygon points="796.88,86.84 798.68,86.84 797.78,83.72" fill="#2a2a2a" stroke="none" stroke-width="0" stroke-linejoin="miter"/>
<line x1="803.04" y1="82.1" x2="803.04" y2="89.09" stroke="#909090" stroke-width="0.7"/>
<polygon points="802.14,86.61 803.94,86.61 803.04,89.59" fill="#2a2a2a" stroke="none" stroke-width="0" stroke-linejoin="miter"/>
<line x1="808.29" y1="82.39" x2="808.29" y2="90.93" stroke="#404040" stroke-width="0.7"/>
<polygon points="807.39,86.92 809.19,86.92 808.29,84.1" fill="#2a2a2a" stroke="none" stroke-width="0" stroke-linejoin="miter"/>
</g>
<g transform="translate(-1.2 219.7)">
<polygon points="501.77,70.83 505.81,70.48 509.84,70.14 513.87,69.8 517.9,69.47 521.94,69.15 525.97,68.83 530,68.53 534.04,68.23 538.07,67.94 542.1,67.65 546.13,67.38 550.17,67.11 554.2,66.85 558.23,66.6 562.27,66.35 566.3,66.11 570.33,65.88 574.36,65.66 578.4,65.45 582.43,65.24 586.46,65.04 590.49,64.85 594.53,64.67 598.56,64.49 602.59,64.32 606.63,64.16 610.66,64.01 614.69,63.86 618.72,63.72 622.76,63.59 626.79,63.47 630.82,63.36 634.86,63.25 638.89,63.15 642.92,63.06 646.95,62.97 650.99,62.9 655.02,62.83 659.05,62.77 663.09,62.71 667.12,62.67 671.15,62.63 675.18,62.6 679.22,62.57 683.25,62.56 687.28,62.55 691.32,62.55 695.35,62.56 699.38,62.57 703.42,62.6 707.45,62.63 711.48,62.67 715.51,62.71 719.55,62.77 723.58,62.83 727.61,62.9 731.65,62.97 735.68,63.06 739.71,63.15 743.74,63.25 747.78,63.36 751.81,63.47 755.84,63.59 759.88,63.72 763.91,63.86 767.94,64.01 771.97,64.16 776.01,64.32 780.04,64.49 784.07,64.67 788.11,64.85 792.14,65.04 796.17,65.24 800.2,65.45 804.24,65.66 808.27,65.88 812.3,66.11 816.33,66.35 820.37,66.6 824.4,66.85 828.43,67.11 832.47,67.38 836.5,67.65 840.53,67.94 844.56,68.23 848.6,68.53 852.63,68.83 856.66,69.15 860.7,69.47 864.73,69.8 868.76,70.14 872.79,70.48 876.83,70.83 875.37,87.27 871.37,86.92 867.37,86.58 863.37,86.24 859.37,85.92 855.37,85.6 851.36,85.29 847.36,84.98 843.36,84.69 839.36,84.4 835.36,84.11 831.36,83.84 827.35,83.58 823.35,83.32 819.35,83.07 815.35,82.82 811.35,82.59 807.35,82.36 803.34,82.14 799.34,81.93 795.34,81.72 791.34,81.52 787.34,81.33 783.34,81.15 779.33,80.97 775.33,80.81 771.33,80.65 767.33,80.5 763.33,80.35 759.33,80.21 755.33,80.09 751.32,79.96 747.32,79.85 743.32,79.74 739.32,79.64 735.32,79.55 731.32,79.47 727.31,79.39 723.31,79.32 719.31,79.26 715.31,79.21 711.31,79.17 707.31,79.13 703.31,79.1 699.3,79.07 695.3,79.06 691.3,79.05 687.3,79.05 683.3,79.06 679.3,79.07 675.29,79.1 671.29,79.13 667.29,79.17 663.29,79.21 659.29,79.26 655.29,79.32 651.29,79.39 647.28,79.47 643.28,79.55 639.28,79.64 635.28,79.74 631.28,79.85 627.28,79.96 623.27,80.09 619.27,80.21 615.27,80.35 611.27,80.5 607.27,80.65 603.27,80.81 599.27,80.97 595.26,81.15 591.26,81.33 587.26,81.52 583.26,81.72 579.26,81.93 575.26,82.14 571.25,82.36 567.25,82.59 563.25,82.82 559.25,83.07 555.25,83.32 551.25,83.58 547.24,83.84 543.24,84.11 539.24,84.4 535.24,84.69 531.24,84.98 527.24,85.29 523.23,85.6 519.23,85.92 515.23,86.24 511.23,86.58 507.23,86.92 503.23,87.27" fill="none" stroke="#1e1e1e" stroke-width="1.45" stroke-linejoin="miter"/>
<polyline points="504,78.92 508.03,78.57 512.06,78.23 516.08,77.9 520.11,77.57 524.14,77.25 528.17,76.94 532.2,76.64 536.23,76.34 540.25,76.05 544.28,75.77 548.31,75.5 552.34,75.24 556.37,74.98 560.4,74.73 564.42,74.49 568.45,74.25 572.48,74.03 576.51,73.81 580.54,73.6 584.57,73.39 588.59,73.2 592.62,73.01 596.65,72.83 600.68,72.66 604.71,72.49 608.73,72.34 612.76,72.19 616.79,72.04 620.82,71.91 624.85,71.78 628.88,71.66 632.9,71.55 636.93,71.45 640.96,71.35 644.99,71.26 649.02,71.18 653.05,71.11 657.07,71.05 661.1,70.99 665.13,70.94 669.16,70.9 673.19,70.86 677.22,70.83 681.24,70.82 685.27,70.8 689.3,70.8 693.33,70.8 697.36,70.82 701.38,70.83 705.41,70.86 709.44,70.9 713.47,70.94 717.5,70.99 721.53,71.05 725.55,71.11 729.58,71.18 733.61,71.26 737.64,71.35 741.67,71.45 745.7,71.55 749.72,71.66 753.75,71.78 757.78,71.91 761.81,72.04 765.84,72.19 769.87,72.34 773.89,72.49 777.92,72.66 781.95,72.83 785.98,73.01 790.01,73.2 794.03,73.39 798.06,73.6 802.09,73.81 806.12,74.03 810.15,74.25 814.18,74.49 818.2,74.73 822.23,74.98 826.26,75.24 830.29,75.5 834.32,75.77 838.35,76.05 842.37,76.34 846.4,76.64 850.43,76.94 854.46,77.25 858.49,77.57 862.52,77.9 866.54,78.23 870.57,78.57 874.6,78.92" fill="none" stroke="#777" stroke-width="1" stroke-dasharray="3.3 2.3"/>
<polygon points="530.68,56.64 534.7,56.82 538.73,57 542.75,57.18 546.77,57.35 550.8,57.52 554.82,57.68 558.85,57.83 562.87,57.99 566.89,58.13 570.92,58.27 574.94,58.41 578.96,58.54 582.99,58.67 587.01,58.79 591.03,58.91 595.06,59.03 599.08,59.13 603.11,59.24 607.13,59.34 611.15,59.43 615.18,59.52 619.2,59.6 623.22,59.68 627.25,59.76 631.27,59.83 635.29,59.89 639.32,59.95 643.34,60.01 647.36,60.06 651.39,60.1 655.41,60.15 659.44,60.18 663.46,60.21 667.48,60.24 671.51,60.26 675.53,60.28 679.55,60.29 683.58,60.3 687.6,60.3 691.62,60.3 695.65,60.29 699.67,60.28 703.69,60.26 707.72,60.24 711.74,60.21 715.76,60.18 719.79,60.15 723.81,60.1 727.84,60.06 731.86,60.01 735.88,59.95 739.91,59.89 743.93,59.83 747.95,59.76 751.98,59.68 756,59.6 760.02,59.52 764.05,59.43 768.07,59.34 772.09,59.24 776.12,59.13 780.14,59.03 784.17,58.91 788.19,58.79 792.21,58.67 796.24,58.54 800.26,58.41 804.28,58.27 808.31,58.13 812.33,57.99 816.35,57.83 820.38,57.68 824.4,57.52 828.43,57.35 832.45,57.18 836.47,57 840.5,56.82 844.52,56.64 846.18,92.2 842.11,92.39 838.05,92.57 833.98,92.75 829.92,92.92 825.85,93.09 821.78,93.25 817.72,93.41 813.65,93.56 809.59,93.71 805.52,93.85 801.45,93.99 797.39,94.13 793.32,94.25 789.25,94.38 785.19,94.5 781.12,94.61 777.06,94.72 772.99,94.83 768.92,94.93 764.86,95.02 760.79,95.11 756.73,95.2 752.66,95.28 748.59,95.35 744.53,95.42 740.46,95.49 736.39,95.55 732.33,95.61 728.26,95.66 724.2,95.7 720.13,95.74 716.06,95.78 712,95.81 707.93,95.84 703.86,95.86 699.8,95.88 695.73,95.89 691.67,95.9 687.6,95.9 683.53,95.9 679.47,95.89 675.4,95.88 671.34,95.86 667.27,95.84 663.2,95.81 659.14,95.78 655.07,95.74 651,95.7 646.94,95.66 642.87,95.61 638.81,95.55 634.74,95.49 630.67,95.42 626.61,95.35 622.54,95.28 618.47,95.2 614.41,95.11 610.34,95.02 606.28,94.93 602.21,94.83 598.14,94.72 594.08,94.61 590.01,94.5 585.95,94.38 581.88,94.25 577.81,94.13 573.75,93.99 569.68,93.85 565.61,93.71 561.55,93.56 557.48,93.41 553.42,93.25 549.35,93.09 545.28,92.92 541.22,92.75 537.15,92.57 533.09,92.39 529.02,92.2" fill="none" stroke="#1e1e1e" stroke-width="1.45" stroke-linejoin="miter"/>
<polyline points="530.55,59.33 534.58,59.52 538.61,59.7 542.63,59.88 546.66,60.05 550.69,60.21 554.72,60.37 558.74,60.53 562.77,60.68 566.8,60.83 570.82,60.97 574.85,61.11 578.88,61.24 582.9,61.37 586.93,61.49 590.96,61.61 594.98,61.72 599.01,61.83 603.04,61.94 607.06,62.04 611.09,62.13 615.12,62.22 619.14,62.3 623.17,62.38 627.2,62.46 631.22,62.53 635.25,62.59 639.28,62.65 643.31,62.71 647.33,62.76 651.36,62.8 655.39,62.85 659.41,62.88 663.44,62.91 667.47,62.94 671.49,62.96 675.52,62.98 679.55,62.99 683.57,63 687.6,63 691.63,63 695.65,62.99 699.68,62.98 703.71,62.96 707.73,62.94 711.76,62.91 715.79,62.88 719.81,62.85 723.84,62.8 727.87,62.76 731.89,62.71 735.92,62.65 739.95,62.59 743.98,62.53 748,62.46 752.03,62.38 756.06,62.3 760.08,62.22 764.11,62.13 768.14,62.04 772.16,61.94 776.19,61.83 780.22,61.72 784.24,61.61 788.27,61.49 792.3,61.37 796.32,61.24 800.35,61.11 804.38,60.97 808.4,60.83 812.43,60.68 816.46,60.53 820.48,60.37 824.51,60.21 828.54,60.05 832.57,59.88 836.59,59.7 840.62,59.52 844.65,59.33" fill="none" stroke="#2a2a2a" stroke-width="1" />
<polyline points="529.15,89.4 533.21,89.59 537.28,89.77 541.34,89.95 545.4,90.12 549.46,90.29 553.53,90.45 557.59,90.61 561.65,90.76 565.72,90.91 569.78,91.05 573.84,91.19 577.9,91.33 581.97,91.46 586.03,91.58 590.09,91.7 594.16,91.81 598.22,91.92 602.28,92.03 606.34,92.13 610.41,92.22 614.47,92.31 618.53,92.4 622.59,92.48 626.66,92.55 630.72,92.62 634.78,92.69 638.85,92.75 642.91,92.81 646.97,92.86 651.03,92.9 655.1,92.94 659.16,92.98 663.22,93.01 667.29,93.04 671.35,93.06 675.41,93.08 679.47,93.09 683.54,93.1 687.6,93.1 691.66,93.1 695.73,93.09 699.79,93.08 703.85,93.06 707.91,93.04 711.98,93.01 716.04,92.98 720.1,92.94 724.17,92.9 728.23,92.86 732.29,92.81 736.35,92.75 740.42,92.69 744.48,92.62 748.54,92.55 752.61,92.48 756.67,92.4 760.73,92.31 764.79,92.22 768.86,92.13 772.92,92.03 776.98,91.92 781.04,91.81 785.11,91.7 789.17,91.58 793.23,91.46 797.3,91.33 801.36,91.19 805.42,91.05 809.48,90.91 813.55,90.76 817.61,90.61 821.67,90.45 825.74,90.29 829.8,90.12 833.86,89.95 837.92,89.77 841.99,89.59 846.05,89.4" fill="none" stroke="#2a2a2a" stroke-width="1" />
<polygon points="561.2,55.2 600,55.55 640,56 690,56.3 740,56 780,55.2 815.2,54.4 814.56,58.7 810.55,58.85 806.54,59 802.52,59.14 798.51,59.27 794.5,59.4 790.49,59.53 786.48,59.65 782.47,59.76 778.45,59.87 774.44,59.98 770.43,60.08 766.42,60.18 762.41,60.27 758.4,60.35 754.39,60.44 750.37,60.51 746.36,60.59 742.35,60.65 738.34,60.72 734.33,60.78 730.32,60.83 726.31,60.88 722.29,60.92 718.28,60.96 714.27,60.99 710.26,61.02 706.25,61.05 702.24,61.07 698.23,61.08 694.21,61.09 690.2,61.1 686.19,61.1 682.18,61.1 678.17,61.09 674.16,61.07 670.15,61.05 666.13,61.03 662.12,61 658.11,60.97 654.1,60.93 650.09,60.89 646.08,60.84 642.07,60.79 638.05,60.73 634.04,60.67 630.03,60.61 626.02,60.54 622.01,60.46 618,60.38 613.98,60.29 609.97,60.2 605.96,60.11 601.95,60.01 597.94,59.9 593.93,59.79 589.92,59.68 585.9,59.56 581.89,59.44 577.88,59.31 573.87,59.18 569.86,59.04 565.85,58.89 561.84,58.75" fill="#1e1e1e" stroke="none" stroke-width="0" stroke-linejoin="miter"/>
<polygon points="560.52,94.02 564.57,94.17 568.62,94.32 572.68,94.46 576.73,94.59 580.78,94.72 584.84,94.85 588.89,94.97 592.94,95.08 597,95.19 601.05,95.3 605.1,95.4 609.16,95.49 613.21,95.59 617.27,95.67 621.32,95.75 625.37,95.83 629.43,95.9 633.48,95.97 637.53,96.03 641.59,96.09 645.64,96.14 649.69,96.19 653.75,96.23 657.8,96.27 661.85,96.3 665.91,96.33 669.96,96.35 674.02,96.37 678.07,96.39 682.12,96.4 686.18,96.4 690.23,96.4 694.28,96.39 698.34,96.38 702.39,96.37 706.44,96.35 710.5,96.32 714.55,96.29 718.61,96.26 722.66,96.22 726.71,96.17 730.77,96.13 734.82,96.07 738.87,96.01 742.93,95.95 746.98,95.88 751.03,95.81 755.09,95.73 759.14,95.65 763.19,95.56 767.25,95.47 771.3,95.37 775.36,95.27 779.41,95.16 783.46,95.05 787.52,94.93 791.57,94.81 795.62,94.68 799.68,94.55 803.73,94.41 807.78,94.27 811.84,94.13 815.89,93.98 816.03,97.77 811.98,97.93 807.92,98.07 803.86,98.21 799.8,98.35 795.74,98.48 791.69,98.61 787.63,98.73 783.57,98.85 779.51,98.96 775.45,99.07 771.4,99.17 767.34,99.27 763.28,99.36 759.22,99.45 755.16,99.53 751.1,99.61 747.05,99.68 742.99,99.75 738.93,99.81 734.87,99.87 730.81,99.93 726.76,99.97 722.7,100.02 718.64,100.06 714.58,100.09 710.52,100.12 706.47,100.15 702.41,100.17 698.35,100.18 694.29,100.19 690.23,100.2 686.17,100.2 682.12,100.2 678.06,100.19 674,100.17 669.94,100.15 665.88,100.13 661.83,100.1 657.77,100.07 653.71,100.03 649.65,99.99 645.59,99.94 641.54,99.89 637.48,99.83 633.42,99.77 629.36,99.7 625.3,99.63 621.25,99.55 617.19,99.47 613.13,99.38 609.07,99.29 605.01,99.2 600.95,99.1 596.9,98.99 592.84,98.88 588.78,98.76 584.72,98.64 580.66,98.52 576.61,98.39 572.55,98.25 568.49,98.11 564.43,97.97 560.37,97.82" fill="#1e1e1e" stroke="none" stroke-width="0" stroke-linejoin="miter"/>
<line x1="542.65" y1="59.88" x2="541.35" y2="89.95" stroke="#1e1e1e" stroke-width="1.4"/>
<line x1="549.52" y1="60.17" x2="548.28" y2="90.24" stroke="#1e1e1e" stroke-width="1.4"/>
<polygon points="542.65,59.88 549.52,60.17 549.27,66.36 542.38,66.07" fill="none" stroke="#2a2a2a" stroke-width="0.9" stroke-linejoin="miter"/>
<line x1="543.05" y1="60.27" x2="548.87" y2="65.97" stroke="#333" stroke-width="0.7"/>
<line x1="549.09" y1="60.52" x2="542.81" y2="65.72" stroke="#333" stroke-width="0.7"/>
<polygon points="541.62,83.75 548.54,84.05 548.28,90.24 541.35,89.95" fill="none" stroke="#2a2a2a" stroke-width="0.9" stroke-linejoin="miter"/>
<line x1="542.02" y1="84.14" x2="547.88" y2="89.85" stroke="#333" stroke-width="0.7"/>
<line x1="548.11" y1="84.4" x2="541.79" y2="89.59" stroke="#333" stroke-width="0.7"/>
<line x1="825.48" y1="60.17" x2="826.71" y2="90.25" stroke="#1e1e1e" stroke-width="1.4"/>
<line x1="832.85" y1="59.86" x2="834.15" y2="89.94" stroke="#1e1e1e" stroke-width="1.4"/>
<polygon points="825.48,60.17 832.85,59.86 833.12,66.06 825.74,66.37" fill="none" stroke="#2a2a2a" stroke-width="0.9" stroke-linejoin="miter"/>
<line x1="825.94" y1="60.53" x2="832.66" y2="65.7" stroke="#333" stroke-width="0.7"/>
<line x1="832.42" y1="60.25" x2="826.16" y2="65.98" stroke="#333" stroke-width="0.7"/>
<polygon points="826.46,84.05 833.88,83.74 834.15,89.94 826.71,90.25" fill="none" stroke="#2a2a2a" stroke-width="0.9" stroke-linejoin="miter"/>
<line x1="826.92" y1="84.41" x2="833.69" y2="89.58" stroke="#333" stroke-width="0.7"/>
<line x1="833.45" y1="84.13" x2="827.15" y2="89.86" stroke="#333" stroke-width="0.7"/>
<line x1="814.09" y1="54.22" x2="815.72" y2="97.49" stroke="#1e1e1e" stroke-width="1.45"/>
<line x1="566.65" y1="82.59" x2="566.65" y2="90.93" stroke="#404040" stroke-width="0.7"/>
<polygon points="565.75,87.01 567.55,87.01 566.65,84.26" fill="#2a2a2a" stroke="none" stroke-width="0" stroke-linejoin="miter"/>
<line x1="571.91" y1="82.3" x2="571.91" y2="89.11" stroke="#909090" stroke-width="0.7"/>
<polygon points="571.01,86.7 572.81,86.7 571.91,89.61" fill="#2a2a2a" stroke="none" stroke-width="0" stroke-linejoin="miter"/>
<line x1="577.16" y1="82.01" x2="577.16" y2="91.29" stroke="#404040" stroke-width="0.7"/>
<polygon points="576.26,86.93 578.06,86.93 577.16,83.87" fill="#2a2a2a" stroke="none" stroke-width="0" stroke-linejoin="miter"/>
<line x1="582.41" y1="81.74" x2="582.41" y2="89.3" stroke="#909090" stroke-width="0.7"/>
<polygon points="581.51,86.6 583.31,86.6 582.41,89.8" fill="#2a2a2a" stroke="none" stroke-width="0" stroke-linejoin="miter"/>
<line x1="587.66" y1="81.48" x2="587.66" y2="91.62" stroke="#404040" stroke-width="0.7"/>
<polygon points="586.76,86.71 588.56,86.71 587.66,83.51" fill="#2a2a2a" stroke="none" stroke-width="0" stroke-linejoin="miter"/>
<line x1="592.92" y1="81.24" x2="592.92" y2="89.48" stroke="#909090" stroke-width="0.7"/>
<polygon points="592.02,86.78 593.82,86.78 592.92,89.98" fill="#2a2a2a" stroke="none" stroke-width="0" stroke-linejoin="miter"/>
<line x1="598.17" y1="81.01" x2="598.17" y2="91.91" stroke="#404040" stroke-width="0.7"/>
<polygon points="597.27,86.39 599.07,86.39 598.17,83.19" fill="#2a2a2a" stroke="none" stroke-width="0" stroke-linejoin="miter"/>
<line x1="603.42" y1="80.79" x2="603.42" y2="89.65" stroke="#909090" stroke-width="0.7"/>
<polygon points="602.52,86.95 604.32,86.95 603.42,90.15" fill="#2a2a2a" stroke="none" stroke-width="0" stroke-linejoin="miter"/>
<line x1="608.68" y1="80.58" x2="608.68" y2="92.17" stroke="#404040" stroke-width="0.7"/>
<polygon points="607.78,85.98 609.58,85.98 608.68,82.78" fill="#2a2a2a" stroke="none" stroke-width="0" stroke-linejoin="miter"/>
<line x1="613.93" y1="80.39" x2="613.93" y2="89.89" stroke="#909090" stroke-width="0.7"/>
<polygon points="613.03,87.19 614.83,87.19 613.93,90.39" fill="#2a2a2a" stroke="none" stroke-width="0" stroke-linejoin="miter"/>
<line x1="619.18" y1="80.21" x2="619.18" y2="92.4" stroke="#404040" stroke-width="0.7"/>
<polygon points="618.28,85.61 620.08,85.61 619.18,82.41" fill="#2a2a2a" stroke="none" stroke-width="0" stroke-linejoin="miter"/>
<line x1="624.44" y1="80.04" x2="624.44" y2="90.11" stroke="#909090" stroke-width="0.7"/>
<polygon points="623.54,87.41 625.34,87.41 624.44,90.61" fill="#2a2a2a" stroke="none" stroke-width="0" stroke-linejoin="miter"/>
<line x1="629.69" y1="79.89" x2="629.69" y2="92.6" stroke="#404040" stroke-width="0.7"/>
<polygon points="628.79,85.29 630.59,85.29 629.69,82.09" fill="#2a2a2a" stroke="none" stroke-width="0" stroke-linejoin="miter"/>
<line x1="634.94" y1="79.75" x2="634.94" y2="90.29" stroke="#909090" stroke-width="0.7"/>
<polygon points="634.04,87.59 635.84,87.59 634.94,90.79" fill="#2a2a2a" stroke="none" stroke-width="0" stroke-linejoin="miter"/>
<line x1="640.19" y1="79.62" x2="640.19" y2="92.77" stroke="#404040" stroke-width="0.7"/>
<polygon points="639.29,85.02 641.09,85.02 640.19,81.82" fill="#2a2a2a" stroke="none" stroke-width="0" stroke-linejoin="miter"/>
<line x1="645.45" y1="79.5" x2="645.45" y2="90.44" stroke="#909090" stroke-width="0.7"/>
<polygon points="644.55,87.74 646.35,87.74 645.45,90.94" fill="#2a2a2a" stroke="none" stroke-width="0" stroke-linejoin="miter"/>
<line x1="650.7" y1="79.4" x2="650.7" y2="92.9" stroke="#404040" stroke-width="0.7"/>
<polygon points="649.8,84.8 651.6,84.8 650.7,81.6" fill="#2a2a2a" stroke="none" stroke-width="0" stroke-linejoin="miter"/>
<line x1="655.95" y1="79.31" x2="655.95" y2="90.55" stroke="#909090" stroke-width="0.7"/>
<polygon points="655.05,87.85 656.85,87.85 655.95,91.05" fill="#2a2a2a" stroke="none" stroke-width="0" stroke-linejoin="miter"/>
<line x1="661.21" y1="79.24" x2="661.21" y2="93" stroke="#404040" stroke-width="0.7"/>
<polygon points="660.31,84.64 662.11,84.64 661.21,81.44" fill="#2a2a2a" stroke="none" stroke-width="0" stroke-linejoin="miter"/>
<line x1="666.46" y1="79.17" x2="666.46" y2="90.63" stroke="#909090" stroke-width="0.7"/>
<polygon points="665.56,87.93 667.36,87.93 666.46,91.13" fill="#2a2a2a" stroke="none" stroke-width="0" stroke-linejoin="miter"/>
<line x1="671.71" y1="79.12" x2="671.71" y2="93.06" stroke="#404040" stroke-width="0.7"/>
<polygon points="670.81,84.52 672.61,84.52 671.71,81.32" fill="#2a2a2a" stroke="none" stroke-width="0" stroke-linejoin="miter"/>
<line x1="676.97" y1="79.09" x2="676.97" y2="90.68" stroke="#909090" stroke-width="0.7"/>
<polygon points="676.07,87.98 677.87,87.98 676.97,91.18" fill="#2a2a2a" stroke="none" stroke-width="0" stroke-linejoin="miter"/>
<line x1="682.22" y1="79.06" x2="682.22" y2="93.1" stroke="#404040" stroke-width="0.7"/>
<polygon points="681.32,84.46 683.12,84.46 682.22,81.26" fill="#2a2a2a" stroke="none" stroke-width="0" stroke-linejoin="miter"/>
<line x1="687.47" y1="79.05" x2="687.47" y2="90.7" stroke="#909090" stroke-width="0.7"/>
<polygon points="686.57,88 688.37,88 687.47,91.2" fill="#2a2a2a" stroke="none" stroke-width="0" stroke-linejoin="miter"/>
<line x1="692.72" y1="79.05" x2="692.72" y2="93.1" stroke="#404040" stroke-width="0.7"/>
<polygon points="691.82,84.45 693.62,84.45 692.72,81.25" fill="#2a2a2a" stroke="none" stroke-width="0" stroke-linejoin="miter"/>
<line x1="697.98" y1="79.07" x2="697.98" y2="90.68" stroke="#909090" stroke-width="0.7"/>
<polygon points="697.08,87.98 698.88,87.98 697.98,91.18" fill="#2a2a2a" stroke="none" stroke-width="0" stroke-linejoin="miter"/>
<line x1="703.23" y1="79.1" x2="703.23" y2="93.06" stroke="#404040" stroke-width="0.7"/>
<polygon points="702.33,84.5 704.13,84.5 703.23,81.3" fill="#2a2a2a" stroke="none" stroke-width="0" stroke-linejoin="miter"/>
<line x1="708.48" y1="79.14" x2="708.48" y2="90.64" stroke="#909090" stroke-width="0.7"/>
<polygon points="707.58,87.94 709.38,87.94 708.48,91.14" fill="#2a2a2a" stroke="none" stroke-width="0" stroke-linejoin="miter"/>
<line x1="713.74" y1="79.19" x2="713.74" y2="93" stroke="#404040" stroke-width="0.7"/>
<polygon points="712.84,84.59 714.64,84.59 713.74,81.39" fill="#2a2a2a" stroke="none" stroke-width="0" stroke-linejoin="miter"/>
<line x1="718.99" y1="79.26" x2="718.99" y2="90.55" stroke="#909090" stroke-width="0.7"/>
<polygon points="718.09,87.85 719.89,87.85 718.99,91.05" fill="#2a2a2a" stroke="none" stroke-width="0" stroke-linejoin="miter"/>
<line x1="724.24" y1="79.34" x2="724.24" y2="92.9" stroke="#404040" stroke-width="0.7"/>
<polygon points="723.34,84.74 725.14,84.74 724.24,81.54" fill="#2a2a2a" stroke="none" stroke-width="0" stroke-linejoin="miter"/>
<line x1="729.5" y1="79.43" x2="729.5" y2="90.44" stroke="#909090" stroke-width="0.7"/>
<polygon points="728.6,87.74 730.4,87.74 729.5,90.94" fill="#2a2a2a" stroke="none" stroke-width="0" stroke-linejoin="miter"/>
<line x1="734.75" y1="79.54" x2="734.75" y2="92.77" stroke="#404040" stroke-width="0.7"/>
<polygon points="733.85,84.94 735.65,84.94 734.75,81.74" fill="#2a2a2a" stroke="none" stroke-width="0" stroke-linejoin="miter"/>
<line x1="740" y1="79.66" x2="740" y2="90.29" stroke="#909090" stroke-width="0.7"/>
<polygon points="739.1,87.59 740.9,87.59 740,90.79" fill="#2a2a2a" stroke="none" stroke-width="0" stroke-linejoin="miter"/>
<line x1="745.25" y1="79.79" x2="745.25" y2="92.61" stroke="#404040" stroke-width="0.7"/>
<polygon points="744.36,85.19 746.15,85.19 745.25,81.99" fill="#2a2a2a" stroke="none" stroke-width="0" stroke-linejoin="miter"/>
<line x1="750.51" y1="79.93" x2="750.51" y2="90.11" stroke="#909090" stroke-width="0.7"/>
<polygon points="749.61,87.41 751.41,87.41 750.51,90.61" fill="#2a2a2a" stroke="none" stroke-width="0" stroke-linejoin="miter"/>
<line x1="755.76" y1="80.09" x2="755.76" y2="92.41" stroke="#404040" stroke-width="0.7"/>
<polygon points="754.86,85.49 756.66,85.49 755.76,82.29" fill="#2a2a2a" stroke="none" stroke-width="0" stroke-linejoin="miter"/>
<line x1="761.01" y1="80.26" x2="761.01" y2="89.9" stroke="#909090" stroke-width="0.7"/>
<polygon points="760.11,87.2 761.91,87.2 761.01,90.4" fill="#2a2a2a" stroke="none" stroke-width="0" stroke-linejoin="miter"/>
<line x1="766.27" y1="80.45" x2="766.27" y2="92.18" stroke="#404040" stroke-width="0.7"/>
<polygon points="765.37,85.85 767.17,85.85 766.27,82.65" fill="#2a2a2a" stroke="none" stroke-width="0" stroke-linejoin="miter"/>
<line x1="771.52" y1="80.64" x2="771.52" y2="89.65" stroke="#909090" stroke-width="0.7"/>
<polygon points="770.62,86.95 772.42,86.95 771.52,90.15" fill="#2a2a2a" stroke="none" stroke-width="0" stroke-linejoin="miter"/>
<line x1="776.77" y1="80.85" x2="776.77" y2="91.92" stroke="#404040" stroke-width="0.7"/>
<polygon points="775.87,86.25 777.67,86.25 776.77,83.05" fill="#2a2a2a" stroke="none" stroke-width="0" stroke-linejoin="miter"/>
<line x1="782.03" y1="81.08" x2="782.03" y2="89.46" stroke="#909090" stroke-width="0.7"/>
<polygon points="781.13,86.76 782.93,86.76 782.03,89.96" fill="#2a2a2a" stroke="none" stroke-width="0" stroke-linejoin="miter"/>
<line x1="787.28" y1="81.31" x2="787.28" y2="91.62" stroke="#404040" stroke-width="0.7"/>
<polygon points="786.38,86.57 788.18,86.57 787.28,83.37" fill="#2a2a2a" stroke="none" stroke-width="0" stroke-linejoin="miter"/>
<line x1="792.53" y1="81.56" x2="792.53" y2="89.28" stroke="#909090" stroke-width="0.7"/>
<polygon points="791.63,86.58 793.43,86.58 792.53,89.78" fill="#2a2a2a" stroke="none" stroke-width="0" stroke-linejoin="miter"/>
<line x1="797.78" y1="81.82" x2="797.78" y2="91.3" stroke="#404040" stroke-width="0.7"/>
<polygon points="796.88,86.84 798.68,86.84 797.78,83.72" fill="#2a2a2a" stroke="none" stroke-width="0" stroke-linejoin="miter"/>
<line x1="803.04" y1="82.1" x2="803.04" y2="89.09" stroke="#909090" stroke-width="0.7"/>
<polygon points="802.14,86.61 803.94,86.61 803.04,89.59" fill="#2a2a2a" stroke="none" stroke-width="0" stroke-linejoin="miter"/>
<line x1="808.29" y1="82.39" x2="808.29" y2="90.93" stroke="#404040" stroke-width="0.7"/>
<polygon points="807.39,86.92 809.19,86.92 808.29,84.1" fill="#2a2a2a" stroke="none" stroke-width="0" stroke-linejoin="miter"/>
</g>
<g transform="rotate(-2.29 688.2 350.45) translate(0.2 222.7) matrix(1 0 0 -1 0 200.5)">
<polygon points="500.04,72.47 504.09,72.13 508.13,71.79 512.18,71.47 516.23,71.15 520.27,70.84 524.32,70.54 528.36,70.24 532.41,69.96 536.45,69.68 540.5,69.41 544.55,69.14 548.59,68.88 552.64,68.64 556.68,68.4 560.73,68.16 564.77,67.94 568.82,67.72 572.87,67.51 576.91,67.31 580.96,67.11 585,66.92 589.05,66.74 593.09,66.57 597.14,66.41 601.19,66.25 605.23,66.1 609.28,65.96 613.32,65.83 617.37,65.7 621.41,65.59 625.46,65.48 629.51,65.37 633.55,65.28 637.6,65.19 641.64,65.11 645.69,65.04 649.73,64.98 653.78,64.92 657.83,64.87 661.87,64.83 665.92,64.8 669.96,64.77 674.01,64.75 678.06,64.74 682.1,64.74 686.15,64.74 690.19,64.76 694.24,64.78 698.28,64.81 702.33,64.84 706.38,64.89 710.42,64.94 714.47,65 718.51,65.06 722.56,65.14 726.6,65.22 730.65,65.31 734.7,65.41 738.74,65.51 742.79,65.62 746.83,65.74 750.88,65.87 754.93,66.01 758.97,66.15 763.02,66.3 767.06,66.46 771.11,66.63 775.15,66.8 779.2,66.99 783.25,67.18 787.29,67.37 791.34,67.58 795.38,67.79 799.43,68.01 803.47,68.24 807.52,68.48 811.57,68.72 815.61,68.97 819.66,69.23 823.7,69.5 827.75,69.77 831.79,70.05 835.84,70.34 839.89,70.64 843.93,70.94 847.98,71.26 852.02,71.58 856.07,71.91 860.11,72.24 864.16,72.58 868.2,72.94 872.25,73.29 876.3,73.66 874.79,90.09 870.78,89.73 866.76,89.37 862.75,89.02 858.73,88.68 854.72,88.35 850.7,88.02 846.69,87.71 842.67,87.4 838.66,87.09 834.65,86.8 830.63,86.51 826.62,86.23 822.6,85.96 818.59,85.69 814.57,85.44 810.56,85.19 806.54,84.95 802.53,84.71 798.52,84.49 794.5,84.27 790.49,84.06 786.47,83.85 782.46,83.66 778.44,83.47 774.43,83.29 770.41,83.11 766.4,82.95 762.38,82.79 758.37,82.64 754.36,82.5 750.34,82.36 746.33,82.24 742.31,82.12 738.3,82.01 734.28,81.9 730.27,81.8 726.25,81.72 722.24,81.63 718.23,81.56 714.21,81.49 710.2,81.44 706.18,81.38 702.17,81.34 698.15,81.31 694.14,81.28 690.12,81.26 686.11,81.24 682.1,81.24 678.08,81.24 674.07,81.25 670.05,81.27 666.04,81.3 662.02,81.33 658.01,81.37 654,81.42 649.98,81.47 645.97,81.54 641.95,81.61 637.94,81.69 633.92,81.77 629.91,81.87 625.89,81.97 621.88,82.08 617.87,82.2 613.85,82.32 609.84,82.45 605.82,82.59 601.81,82.74 597.79,82.9 593.78,83.06 589.76,83.23 585.75,83.41 581.73,83.59 577.72,83.79 573.71,83.99 569.69,84.2 565.68,84.41 561.66,84.64 557.65,84.87 553.63,85.11 549.62,85.35 545.6,85.61 541.59,85.87 537.58,86.14 533.56,86.42 529.55,86.7 525.53,86.99 521.52,87.29 517.5,87.6 513.49,87.92 509.47,88.24 505.46,88.57 501.44,88.91" fill="none" stroke="#1e1e1e" stroke-width="1.45" stroke-linejoin="miter"/>
<polyline points="502.24,80.56 506.29,80.22 510.33,79.89 514.37,79.57 518.41,79.26 522.45,78.95 526.49,78.65 530.53,78.36 534.57,78.08 538.62,77.8 542.66,77.53 546.7,77.27 550.74,77.02 554.78,76.77 558.82,76.53 562.86,76.3 566.9,76.08 570.95,75.87 574.99,75.66 579.03,75.46 583.07,75.27 587.11,75.09 591.15,74.91 595.19,74.74 599.24,74.58 603.28,74.43 607.32,74.28 611.36,74.15 615.4,74.02 619.44,73.9 623.48,73.78 627.52,73.67 631.57,73.58 635.61,73.48 639.65,73.4 643.69,73.33 647.73,73.26 651.77,73.2 655.81,73.14 659.85,73.1 663.9,73.06 667.94,73.03 671.98,73.01 676.02,73 680.06,72.99 684.1,72.99 688.14,73 692.19,73.02 696.23,73.04 700.27,73.07 704.31,73.11 708.35,73.16 712.39,73.22 716.43,73.28 720.47,73.35 724.52,73.43 728.56,73.51 732.6,73.61 736.64,73.71 740.68,73.82 744.72,73.93 748.76,74.06 752.8,74.19 756.85,74.33 760.89,74.48 764.93,74.63 768.97,74.8 773.01,74.97 777.05,75.15 781.09,75.33 785.14,75.53 789.18,75.73 793.22,75.94 797.26,76.15 801.3,76.38 805.34,76.61 809.38,76.85 813.42,77.1 817.47,77.35 821.51,77.62 825.55,77.89 829.59,78.17 833.63,78.45 837.67,78.75 841.71,79.05 845.75,79.36 849.8,79.68 853.84,80 857.88,80.33 861.92,80.67 865.96,81.02 870,81.38 874.04,81.74" fill="none" stroke="#777" stroke-width="1" stroke-dasharray="3.3 2.3"/>
</g>
<clipPath id="cl"><rect x="480" y="300" width="334.3" height="100"/></clipPath>
<g clip-path="url(#cl)">
<g transform="rotate(-2.29 688.2 350.45) translate(0.2 222.7) matrix(1 0 0 -1 0 200.5)">
<polygon points="530.68,56.64 534.7,56.82 538.73,57 542.75,57.18 546.77,57.35 550.8,57.52 554.82,57.68 558.85,57.83 562.87,57.99 566.89,58.13 570.92,58.27 574.94,58.41 578.96,58.54 582.99,58.67 587.01,58.79 591.03,58.91 595.06,59.03 599.08,59.13 603.11,59.24 607.13,59.34 611.15,59.43 615.18,59.52 619.2,59.6 623.22,59.68 627.25,59.76 631.27,59.83 635.29,59.89 639.32,59.95 643.34,60.01 647.36,60.06 651.39,60.1 655.41,60.15 659.44,60.18 663.46,60.21 667.48,60.24 671.51,60.26 675.53,60.28 679.55,60.29 683.58,60.3 687.6,60.3 691.62,60.3 695.65,60.29 699.67,60.28 703.69,60.26 707.72,60.24 711.74,60.21 715.76,60.18 719.79,60.15 723.81,60.1 727.84,60.06 731.86,60.01 735.88,59.95 739.91,59.89 743.93,59.83 747.95,59.76 751.98,59.68 756,59.6 760.02,59.52 764.05,59.43 768.07,59.34 772.09,59.24 776.12,59.13 780.14,59.03 784.17,58.91 788.19,58.79 792.21,58.67 796.24,58.54 800.26,58.41 804.28,58.27 808.31,58.13 812.33,57.99 816.35,57.83 820.38,57.68 824.4,57.52 828.43,57.35 832.45,57.18 836.47,57 840.5,56.82 844.52,56.64 846.18,92.2 842.11,92.39 838.05,92.57 833.98,92.75 829.92,92.92 825.85,93.09 821.78,93.25 817.72,93.41 813.65,93.56 809.59,93.71 805.52,93.85 801.45,93.99 797.39,94.13 793.32,94.25 789.25,94.38 785.19,94.5 781.12,94.61 777.06,94.72 772.99,94.83 768.92,94.93 764.86,95.02 760.79,95.11 756.73,95.2 752.66,95.28 748.59,95.35 744.53,95.42 740.46,95.49 736.39,95.55 732.33,95.61 728.26,95.66 724.2,95.7 720.13,95.74 716.06,95.78 712,95.81 707.93,95.84 703.86,95.86 699.8,95.88 695.73,95.89 691.67,95.9 687.6,95.9 683.53,95.9 679.47,95.89 675.4,95.88 671.34,95.86 667.27,95.84 663.2,95.81 659.14,95.78 655.07,95.74 651,95.7 646.94,95.66 642.87,95.61 638.81,95.55 634.74,95.49 630.67,95.42 626.61,95.35 622.54,95.28 618.47,95.2 614.41,95.11 610.34,95.02 606.28,94.93 602.21,94.83 598.14,94.72 594.08,94.61 590.01,94.5 585.95,94.38 581.88,94.25 577.81,94.13 573.75,93.99 569.68,93.85 565.61,93.71 561.55,93.56 557.48,93.41 553.42,93.25 549.35,93.09 545.28,92.92 541.22,92.75 537.15,92.57 533.09,92.39 529.02,92.2" fill="none" stroke="#1e1e1e" stroke-width="1.45" stroke-linejoin="miter"/>
<polyline points="530.55,59.33 534.58,59.52 538.61,59.7 542.63,59.88 546.66,60.05 550.69,60.21 554.72,60.37 558.74,60.53 562.77,60.68 566.8,60.83 570.82,60.97 574.85,61.11 578.88,61.24 582.9,61.37 586.93,61.49 590.96,61.61 594.98,61.72 599.01,61.83 603.04,61.94 607.06,62.04 611.09,62.13 615.12,62.22 619.14,62.3 623.17,62.38 627.2,62.46 631.22,62.53 635.25,62.59 639.28,62.65 643.31,62.71 647.33,62.76 651.36,62.8 655.39,62.85 659.41,62.88 663.44,62.91 667.47,62.94 671.49,62.96 675.52,62.98 679.55,62.99 683.57,63 687.6,63 691.63,63 695.65,62.99 699.68,62.98 703.71,62.96 707.73,62.94 711.76,62.91 715.79,62.88 719.81,62.85 723.84,62.8 727.87,62.76 731.89,62.71 735.92,62.65 739.95,62.59 743.98,62.53 748,62.46 752.03,62.38 756.06,62.3 760.08,62.22 764.11,62.13 768.14,62.04 772.16,61.94 776.19,61.83 780.22,61.72 784.24,61.61 788.27,61.49 792.3,61.37 796.32,61.24 800.35,61.11 804.38,60.97 808.4,60.83 812.43,60.68 816.46,60.53 820.48,60.37 824.51,60.21 828.54,60.05 832.57,59.88 836.59,59.7 840.62,59.52 844.65,59.33" fill="none" stroke="#2a2a2a" stroke-width="1" />
<polyline points="529.15,89.4 533.21,89.59 537.28,89.77 541.34,89.95 545.4,90.12 549.46,90.29 553.53,90.45 557.59,90.61 561.65,90.76 565.72,90.91 569.78,91.05 573.84,91.19 577.9,91.33 581.97,91.46 586.03,91.58 590.09,91.7 594.16,91.81 598.22,91.92 602.28,92.03 606.34,92.13 610.41,92.22 614.47,92.31 618.53,92.4 622.59,92.48 626.66,92.55 630.72,92.62 634.78,92.69 638.85,92.75 642.91,92.81 646.97,92.86 651.03,92.9 655.1,92.94 659.16,92.98 663.22,93.01 667.29,93.04 671.35,93.06 675.41,93.08 679.47,93.09 683.54,93.1 687.6,93.1 691.66,93.1 695.73,93.09 699.79,93.08 703.85,93.06 707.91,93.04 711.98,93.01 716.04,92.98 720.1,92.94 724.17,92.9 728.23,92.86 732.29,92.81 736.35,92.75 740.42,92.69 744.48,92.62 748.54,92.55 752.61,92.48 756.67,92.4 760.73,92.31 764.79,92.22 768.86,92.13 772.92,92.03 776.98,91.92 781.04,91.81 785.11,91.7 789.17,91.58 793.23,91.46 797.3,91.33 801.36,91.19 805.42,91.05 809.48,90.91 813.55,90.76 817.61,90.61 821.67,90.45 825.74,90.29 829.8,90.12 833.86,89.95 837.92,89.77 841.99,89.59 846.05,89.4" fill="none" stroke="#2a2a2a" stroke-width="1" />
<polygon points="561.2,55.2 600,55.55 640,56 690,56.3 740,56 780,55.2 815.2,54.4 814.56,58.7 810.55,58.85 806.54,59 802.52,59.14 798.51,59.27 794.5,59.4 790.49,59.53 786.48,59.65 782.47,59.76 778.45,59.87 774.44,59.98 770.43,60.08 766.42,60.18 762.41,60.27 758.4,60.35 754.39,60.44 750.37,60.51 746.36,60.59 742.35,60.65 738.34,60.72 734.33,60.78 730.32,60.83 726.31,60.88 722.29,60.92 718.28,60.96 714.27,60.99 710.26,61.02 706.25,61.05 702.24,61.07 698.23,61.08 694.21,61.09 690.2,61.1 686.19,61.1 682.18,61.1 678.17,61.09 674.16,61.07 670.15,61.05 666.13,61.03 662.12,61 658.11,60.97 654.1,60.93 650.09,60.89 646.08,60.84 642.07,60.79 638.05,60.73 634.04,60.67 630.03,60.61 626.02,60.54 622.01,60.46 618,60.38 613.98,60.29 609.97,60.2 605.96,60.11 601.95,60.01 597.94,59.9 593.93,59.79 589.92,59.68 585.9,59.56 581.89,59.44 577.88,59.31 573.87,59.18 569.86,59.04 565.85,58.89 561.84,58.75" fill="#1e1e1e" stroke="none" stroke-width="0" stroke-linejoin="miter"/>
<polygon points="560.52,94.02 564.57,94.17 568.62,94.32 572.68,94.46 576.73,94.59 580.78,94.72 584.84,94.85 588.89,94.97 592.94,95.08 597,95.19 601.05,95.3 605.1,95.4 609.16,95.49 613.21,95.59 617.27,95.67 621.32,95.75 625.37,95.83 629.43,95.9 633.48,95.97 637.53,96.03 641.59,96.09 645.64,96.14 649.69,96.19 653.75,96.23 657.8,96.27 661.85,96.3 665.91,96.33 669.96,96.35 674.02,96.37 678.07,96.39 682.12,96.4 686.18,96.4 690.23,96.4 694.28,96.39 698.34,96.38 702.39,96.37 706.44,96.35 710.5,96.32 714.55,96.29 718.61,96.26 722.66,96.22 726.71,96.17 730.77,96.13 734.82,96.07 738.87,96.01 742.93,95.95 746.98,95.88 751.03,95.81 755.09,95.73 759.14,95.65 763.19,95.56 767.25,95.47 771.3,95.37 775.36,95.27 779.41,95.16 783.46,95.05 787.52,94.93 791.57,94.81 795.62,94.68 799.68,94.55 803.73,94.41 807.78,94.27 811.84,94.13 815.89,93.98 816.03,97.77 811.98,97.93 807.92,98.07 803.86,98.21 799.8,98.35 795.74,98.48 791.69,98.61 787.63,98.73 783.57,98.85 779.51,98.96 775.45,99.07 771.4,99.17 767.34,99.27 763.28,99.36 759.22,99.45 755.16,99.53 751.1,99.61 747.05,99.68 742.99,99.75 738.93,99.81 734.87,99.87 730.81,99.93 726.76,99.97 722.7,100.02 718.64,100.06 714.58,100.09 710.52,100.12 706.47,100.15 702.41,100.17 698.35,100.18 694.29,100.19 690.23,100.2 686.17,100.2 682.12,100.2 678.06,100.19 674,100.17 669.94,100.15 665.88,100.13 661.83,100.1 657.77,100.07 653.71,100.03 649.65,99.99 645.59,99.94 641.54,99.89 637.48,99.83 633.42,99.77 629.36,99.7 625.3,99.63 621.25,99.55 617.19,99.47 613.13,99.38 609.07,99.29 605.01,99.2 600.95,99.1 596.9,98.99 592.84,98.88 588.78,98.76 584.72,98.64 580.66,98.52 576.61,98.39 572.55,98.25 568.49,98.11 564.43,97.97 560.37,97.82" fill="#1e1e1e" stroke="none" stroke-width="0" stroke-linejoin="miter"/>
<line x1="542.65" y1="59.88" x2="541.35" y2="89.95" stroke="#1e1e1e" stroke-width="1.4"/>
<line x1="549.52" y1="60.17" x2="548.28" y2="90.24" stroke="#1e1e1e" stroke-width="1.4"/>
<polygon points="542.65,59.88 549.52,60.17 549.27,66.36 542.38,66.07" fill="none" stroke="#2a2a2a" stroke-width="0.9" stroke-linejoin="miter"/>
<line x1="543.05" y1="60.27" x2="548.87" y2="65.97" stroke="#333" stroke-width="0.7"/>
<line x1="549.09" y1="60.52" x2="542.81" y2="65.72" stroke="#333" stroke-width="0.7"/>
<polygon points="541.62,83.75 548.54,84.05 548.28,90.24 541.35,89.95" fill="none" stroke="#2a2a2a" stroke-width="0.9" stroke-linejoin="miter"/>
<line x1="542.02" y1="84.14" x2="547.88" y2="89.85" stroke="#333" stroke-width="0.7"/>
<line x1="548.11" y1="84.4" x2="541.79" y2="89.59" stroke="#333" stroke-width="0.7"/>
<line x1="814.09" y1="54.22" x2="815.72" y2="97.49" stroke="#1e1e1e" stroke-width="1.45"/>
<line x1="566.65" y1="84.33" x2="566.65" y2="90.93" stroke="#404040" stroke-width="0.7"/>
<polygon points="565.75,87.83 567.55,87.83 566.65,85.65" fill="#2a2a2a" stroke="none" stroke-width="0" stroke-linejoin="miter"/>
<line x1="571.91" y1="84.06" x2="571.91" y2="89.41" stroke="#909090" stroke-width="0.7"/>
<polygon points="571.01,87.58 572.81,87.58 571.91,89.91" fill="#2a2a2a" stroke="none" stroke-width="0" stroke-linejoin="miter"/>
<line x1="577.16" y1="83.79" x2="577.16" y2="91.29" stroke="#404040" stroke-width="0.7"/>
<polygon points="576.26,87.76 578.06,87.76 577.16,85.29" fill="#2a2a2a" stroke="none" stroke-width="0" stroke-linejoin="miter"/>
<line x1="582.41" y1="83.54" x2="582.41" y2="89.61" stroke="#909090" stroke-width="0.7"/>
<polygon points="581.51,87.5 583.31,87.5 582.41,90.11" fill="#2a2a2a" stroke="none" stroke-width="0" stroke-linejoin="miter"/>
<line x1="587.66" y1="83.3" x2="587.66" y2="91.62" stroke="#404040" stroke-width="0.7"/>
<polygon points="586.76,87.71 588.56,87.71 587.66,84.97" fill="#2a2a2a" stroke="none" stroke-width="0" stroke-linejoin="miter"/>
<line x1="592.92" y1="83.08" x2="592.92" y2="89.79" stroke="#909090" stroke-width="0.7"/>
<polygon points="592.02,87.42 593.82,87.42 592.92,90.29" fill="#2a2a2a" stroke="none" stroke-width="0" stroke-linejoin="miter"/>
<line x1="598.17" y1="82.87" x2="598.17" y2="91.91" stroke="#404040" stroke-width="0.7"/>
<polygon points="597.27,87.66 599.07,87.66 598.17,84.68" fill="#2a2a2a" stroke="none" stroke-width="0" stroke-linejoin="miter"/>
<line x1="603.42" y1="82.67" x2="603.42" y2="89.95" stroke="#909090" stroke-width="0.7"/>
<polygon points="602.52,87.36 604.32,87.36 603.42,90.45" fill="#2a2a2a" stroke="none" stroke-width="0" stroke-linejoin="miter"/>
<line x1="608.68" y1="82.48" x2="608.68" y2="92.17" stroke="#404040" stroke-width="0.7"/>
<polygon points="607.78,87.62 609.58,87.62 608.68,84.42" fill="#2a2a2a" stroke="none" stroke-width="0" stroke-linejoin="miter"/>
<line x1="613.93" y1="82.31" x2="613.93" y2="90.1" stroke="#909090" stroke-width="0.7"/>
<polygon points="613.03,87.4 614.83,87.4 613.93,90.6" fill="#2a2a2a" stroke="none" stroke-width="0" stroke-linejoin="miter"/>
<line x1="619.18" y1="82.15" x2="619.18" y2="92.4" stroke="#404040" stroke-width="0.7"/>
<polygon points="618.28,87.4 620.08,87.4 619.18,84.2" fill="#2a2a2a" stroke="none" stroke-width="0" stroke-linejoin="miter"/>
<line x1="624.44" y1="82" x2="624.44" y2="90.22" stroke="#909090" stroke-width="0.7"/>
<polygon points="623.54,87.52 625.34,87.52 624.44,90.72" fill="#2a2a2a" stroke="none" stroke-width="0" stroke-linejoin="miter"/>
<line x1="629.69" y1="81.87" x2="629.69" y2="92.6" stroke="#404040" stroke-width="0.7"/>
<polygon points="628.79,87.21 630.59,87.21 629.69,84.01" fill="#2a2a2a" stroke="none" stroke-width="0" stroke-linejoin="miter"/>
<line x1="634.94" y1="81.75" x2="634.94" y2="90.33" stroke="#909090" stroke-width="0.7"/>
<polygon points="634.04,87.63 635.84,87.63 634.94,90.83" fill="#2a2a2a" stroke="none" stroke-width="0" stroke-linejoin="miter"/>
<line x1="640.19" y1="81.64" x2="640.19" y2="92.77" stroke="#404040" stroke-width="0.7"/>
<polygon points="639.29,87.04 641.09,87.04 640.19,83.84" fill="#2a2a2a" stroke="none" stroke-width="0" stroke-linejoin="miter"/>
<line x1="645.45" y1="81.54" x2="645.45" y2="90.44" stroke="#909090" stroke-width="0.7"/>
<polygon points="644.55,87.74 646.35,87.74 645.45,90.94" fill="#2a2a2a" stroke="none" stroke-width="0" stroke-linejoin="miter"/>
<line x1="650.7" y1="81.46" x2="650.7" y2="92.9" stroke="#404040" stroke-width="0.7"/>
<polygon points="649.8,86.86 651.6,86.86 650.7,83.66" fill="#2a2a2a" stroke="none" stroke-width="0" stroke-linejoin="miter"/>
<line x1="655.95" y1="81.39" x2="655.95" y2="90.55" stroke="#909090" stroke-width="0.7"/>
<polygon points="655.05,87.85 656.85,87.85 655.95,91.05" fill="#2a2a2a" stroke="none" stroke-width="0" stroke-linejoin="miter"/>
<line x1="661.21" y1="81.34" x2="661.21" y2="93" stroke="#404040" stroke-width="0.7"/>
<polygon points="660.31,86.74 662.11,86.74 661.21,83.54" fill="#2a2a2a" stroke="none" stroke-width="0" stroke-linejoin="miter"/>
<line x1="666.46" y1="81.29" x2="666.46" y2="90.63" stroke="#909090" stroke-width="0.7"/>
<polygon points="665.56,87.93 667.36,87.93 666.46,91.13" fill="#2a2a2a" stroke="none" stroke-width="0" stroke-linejoin="miter"/>
<line x1="671.71" y1="81.26" x2="671.71" y2="93.06" stroke="#404040" stroke-width="0.7"/>
<polygon points="670.81,86.66 672.61,86.66 671.71,83.46" fill="#2a2a2a" stroke="none" stroke-width="0" stroke-linejoin="miter"/>
<line x1="676.97" y1="81.24" x2="676.97" y2="90.68" stroke="#909090" stroke-width="0.7"/>
<polygon points="676.07,87.98 677.87,87.98 676.97,91.18" fill="#2a2a2a" stroke="none" stroke-width="0" stroke-linejoin="miter"/>
<line x1="682.22" y1="81.24" x2="682.22" y2="93.1" stroke="#404040" stroke-width="0.7"/>
<polygon points="681.32,86.64 683.12,86.64 682.22,83.44" fill="#2a2a2a" stroke="none" stroke-width="0" stroke-linejoin="miter"/>
<line x1="687.47" y1="81.25" x2="687.47" y2="90.7" stroke="#909090" stroke-width="0.7"/>
<polygon points="686.57,88 688.37,88 687.47,91.2" fill="#2a2a2a" stroke="none" stroke-width="0" stroke-linejoin="miter"/>
<line x1="692.72" y1="81.27" x2="692.72" y2="93.1" stroke="#404040" stroke-width="0.7"/>
<polygon points="691.82,86.67 693.62,86.67 692.72,83.47" fill="#2a2a2a" stroke="none" stroke-width="0" stroke-linejoin="miter"/>
<line x1="697.98" y1="81.3" x2="697.98" y2="90.68" stroke="#909090" stroke-width="0.7"/>
<polygon points="697.08,87.98 698.88,87.98 697.98,91.18" fill="#2a2a2a" stroke="none" stroke-width="0" stroke-linejoin="miter"/>
<line x1="703.23" y1="81.35" x2="703.23" y2="93.06" stroke="#404040" stroke-width="0.7"/>
<polygon points="702.33,86.75 704.13,86.75 703.23,83.55" fill="#2a2a2a" stroke="none" stroke-width="0" stroke-linejoin="miter"/>
<line x1="708.48" y1="81.41" x2="708.48" y2="90.64" stroke="#909090" stroke-width="0.7"/>
<polygon points="707.58,87.94 709.38,87.94 708.48,91.14" fill="#2a2a2a" stroke="none" stroke-width="0" stroke-linejoin="miter"/>
<line x1="713.74" y1="81.48" x2="713.74" y2="93" stroke="#404040" stroke-width="0.7"/>
<polygon points="712.84,86.88 714.64,86.88 713.74,83.68" fill="#2a2a2a" stroke="none" stroke-width="0" stroke-linejoin="miter"/>
<line x1="718.99" y1="81.57" x2="718.99" y2="90.55" stroke="#909090" stroke-width="0.7"/>
<polygon points="718.09,87.85 719.89,87.85 718.99,91.05" fill="#2a2a2a" stroke="none" stroke-width="0" stroke-linejoin="miter"/>
<line x1="724.24" y1="81.67" x2="724.24" y2="92.9" stroke="#404040" stroke-width="0.7"/>
<polygon points="723.34,87.07 725.14,87.07 724.24,83.87" fill="#2a2a2a" stroke="none" stroke-width="0" stroke-linejoin="miter"/>
<line x1="729.5" y1="81.78" x2="729.5" y2="90.46" stroke="#909090" stroke-width="0.7"/>
<polygon points="728.6,87.76 730.4,87.76 729.5,90.96" fill="#2a2a2a" stroke="none" stroke-width="0" stroke-linejoin="miter"/>
<line x1="734.75" y1="81.91" x2="734.75" y2="92.77" stroke="#404040" stroke-width="0.7"/>
<polygon points="733.85,87.28 735.65,87.28 734.75,84.08" fill="#2a2a2a" stroke="none" stroke-width="0" stroke-linejoin="miter"/>
<line x1="740" y1="82.05" x2="740" y2="90.38" stroke="#909090" stroke-width="0.7"/>
<polygon points="739.1,87.68 740.9,87.68 740,90.88" fill="#2a2a2a" stroke="none" stroke-width="0" stroke-linejoin="miter"/>
<line x1="745.25" y1="82.2" x2="745.25" y2="92.61" stroke="#404040" stroke-width="0.7"/>
<polygon points="744.36,87.48 746.15,87.48 745.25,84.28" fill="#2a2a2a" stroke="none" stroke-width="0" stroke-linejoin="miter"/>
<line x1="750.51" y1="82.36" x2="750.51" y2="90.29" stroke="#909090" stroke-width="0.7"/>
<polygon points="749.61,87.59 751.41,87.59 750.51,90.79" fill="#2a2a2a" stroke="none" stroke-width="0" stroke-linejoin="miter"/>
<line x1="755.76" y1="82.54" x2="755.76" y2="92.41" stroke="#404040" stroke-width="0.7"/>
<polygon points="754.86,87.71 756.66,87.71 755.76,84.51" fill="#2a2a2a" stroke="none" stroke-width="0" stroke-linejoin="miter"/>
<line x1="761.01" y1="82.73" x2="761.01" y2="90.17" stroke="#909090" stroke-width="0.7"/>
<polygon points="760.11,87.51 761.91,87.51 761.01,90.67" fill="#2a2a2a" stroke="none" stroke-width="0" stroke-linejoin="miter"/>
<line x1="766.27" y1="82.93" x2="766.27" y2="92.18" stroke="#404040" stroke-width="0.7"/>
<polygon points="765.37,87.83 767.17,87.83 766.27,84.78" fill="#2a2a2a" stroke="none" stroke-width="0" stroke-linejoin="miter"/>
<line x1="771.52" y1="83.15" x2="771.52" y2="90.04" stroke="#909090" stroke-width="0.7"/>
<polygon points="770.62,87.6 772.42,87.6 771.52,90.54" fill="#2a2a2a" stroke="none" stroke-width="0" stroke-linejoin="miter"/>
<line x1="776.77" y1="83.38" x2="776.77" y2="91.92" stroke="#404040" stroke-width="0.7"/>
<polygon points="775.87,87.9 777.67,87.9 776.77,85.08" fill="#2a2a2a" stroke="none" stroke-width="0" stroke-linejoin="miter"/>
<line x1="782.03" y1="83.62" x2="782.03" y2="89.89" stroke="#909090" stroke-width="0.7"/>
<polygon points="781.13,87.7 782.93,87.7 782.03,90.39" fill="#2a2a2a" stroke="none" stroke-width="0" stroke-linejoin="miter"/>
<line x1="787.28" y1="83.87" x2="787.28" y2="91.62" stroke="#404040" stroke-width="0.7"/>
<polygon points="786.38,87.98 788.18,87.98 787.28,85.42" fill="#2a2a2a" stroke="none" stroke-width="0" stroke-linejoin="miter"/>
<line x1="792.53" y1="84.14" x2="792.53" y2="89.72" stroke="#909090" stroke-width="0.7"/>
<polygon points="791.63,87.8 793.43,87.8 792.53,90.22" fill="#2a2a2a" stroke="none" stroke-width="0" stroke-linejoin="miter"/>
<line x1="797.78" y1="84.42" x2="797.78" y2="91.3" stroke="#404040" stroke-width="0.7"/>
<polygon points="796.88,88.06 798.68,88.06 797.78,85.8" fill="#2a2a2a" stroke="none" stroke-width="0" stroke-linejoin="miter"/>
<line x1="803.04" y1="84.71" x2="803.04" y2="89.53" stroke="#909090" stroke-width="0.7"/>
<polygon points="802.14,87.92 803.94,87.92 803.04,90.03" fill="#2a2a2a" stroke="none" stroke-width="0" stroke-linejoin="miter"/>
<line x1="808.29" y1="85.02" x2="808.29" y2="90.93" stroke="#404040" stroke-width="0.7"/>
<polygon points="807.39,88.16 809.19,88.16 808.29,86.2" fill="#2a2a2a" stroke="none" stroke-width="0" stroke-linejoin="miter"/>
</g>
</g>
<polyline points="813.9,324.7 844.9,324.7 844.9,360.4 813.9,360.4" fill="none" stroke="#1e1e1e" stroke-width="1.45" />
<line x1="813.9" y1="326.9" x2="844.9" y2="326.9" stroke="#2a2a2a" stroke-width="1"/>
<line x1="813.9" y1="357.9" x2="844.9" y2="357.9" stroke="#2a2a2a" stroke-width="1"/>
<line x1="813.9" y1="320.2" x2="813.9" y2="363.8" stroke="#1e1e1e" stroke-width="1.5"/>
<line x1="825.8" y1="326.7" x2="825.8" y2="358" stroke="#1e1e1e" stroke-width="1.4"/>
<line x1="832.7" y1="326.7" x2="832.7" y2="358" stroke="#1e1e1e" stroke-width="1.4"/>
<polygon points="825.8,326.7 832.7,326.7 832.7,330.81 825.8,331.61" fill="none" stroke="#2a2a2a" stroke-width="0.9" stroke-linejoin="miter"/>
<line x1="826.21" y1="326.95" x2="832.29" y2="330.56" stroke="#333" stroke-width="0.7"/>
<line x1="832.29" y1="326.95" x2="826.21" y2="331.26" stroke="#333" stroke-width="0.7"/>
<polygon points="825.8,348.01 832.7,347.21 832.7,358 825.8,358" fill="none" stroke="#2a2a2a" stroke-width="0.9" stroke-linejoin="miter"/>
<line x1="826.21" y1="348.61" x2="832.29" y2="357.4" stroke="#333" stroke-width="0.7"/>
<line x1="832.29" y1="347.9" x2="826.21" y2="357.4" stroke="#333" stroke-width="0.7"/>
<polygon points="75.1,28.9 76.7,28.9 76.7,42.3 78.15,40.8 75.9,58 73.65,40.8 75.1,42.3" fill="#1e1e1e" stroke="none" stroke-width="0" stroke-linejoin="miter"/>
<polygon points="423.6,31.5 425.2,31.5 425.2,44.7 426.65,43.2 424.4,60.4 422.15,43.2 423.6,44.7" fill="#1e1e1e" stroke="none" stroke-width="0" stroke-linejoin="miter"/>
<polygon points="75.2,162.7 76.8,162.7 76.8,149.5 78.25,151 76,133.8 73.75,151 75.2,149.5" fill="#1e1e1e" stroke="none" stroke-width="0" stroke-linejoin="miter"/>
<polygon points="423.5,160.4 425.1,160.4 425.1,146.7 426.55,148.2 424.3,131 422.05,148.2 423.5,146.7" fill="#1e1e1e" stroke="none" stroke-width="0" stroke-linejoin="miter"/>
<polygon points="75.1,256 76.7,256 76.7,268.7 78.15,267.2 75.9,284.4 73.65,267.2 75.1,268.7" fill="#1e1e1e" stroke="none" stroke-width="0" stroke-linejoin="miter"/>
<polygon points="423.4,258.2 425,258.2 425,271.4 426.45,269.9 424.2,287.1 421.95,269.9 423.4,271.4" fill="#1e1e1e" stroke="none" stroke-width="0" stroke-linejoin="miter"/>
<polygon points="74.7,396.1 76.3,396.1 76.3,383.6 77.75,385.1 75.5,367.9 73.25,385.1 74.7,383.6" fill="#1e1e1e" stroke="none" stroke-width="0" stroke-linejoin="miter"/>
<polygon points="423.4,394.6 425,394.6 425,381.3 426.45,382.8 424.2,365.6 421.95,382.8 423.4,381.3" fill="#1e1e1e" stroke="none" stroke-width="0" stroke-linejoin="miter"/>
<polygon points="514.1,30.3 515.7,30.3 515.7,42.9 517.15,41.4 514.9,58.6 512.65,41.4 514.1,42.9" fill="#1e1e1e" stroke="none" stroke-width="0" stroke-linejoin="miter"/>
<polygon points="859.9,32.2 861.5,32.2 861.5,45.7 862.95,44.2 860.7,61.4 858.45,44.2 859.9,45.7" fill="#1e1e1e" stroke="none" stroke-width="0" stroke-linejoin="miter"/>
<polygon points="514,170.3 515.6,170.3 515.6,157 517.05,158.5 514.8,141.3 512.55,158.5 514,157" fill="#1e1e1e" stroke="none" stroke-width="0" stroke-linejoin="miter"/>
<polygon points="859.9,168.9 861.5,168.9 861.5,155.3 862.95,156.8 860.7,139.6 858.45,156.8 859.9,155.3" fill="#1e1e1e" stroke="none" stroke-width="0" stroke-linejoin="miter"/>
<polygon points="513.3,250.2 514.9,250.2 514.9,262.7 516.35,261.2 514.1,278.4 511.85,261.2 513.3,262.7" fill="#1e1e1e" stroke="none" stroke-width="0" stroke-linejoin="miter"/>
<polygon points="858.5,252.2 860.1,252.2 860.1,264.7 861.55,263.2 859.3,280.4 857.05,263.2 858.5,264.7" fill="#1e1e1e" stroke="none" stroke-width="0" stroke-linejoin="miter"/>
<polygon points="513.2,390.2 514.8,390.2 514.8,377.2 516.25,378.7 514,361.5 511.75,378.7 513.2,377.2" fill="#1e1e1e" stroke="none" stroke-width="0" stroke-linejoin="miter"/>
<polygon points="858.8,387.8 860.4,387.8 860.4,375.6 861.85,377.1 859.6,359.9 857.35,377.1 858.8,375.6" fill="#1e1e1e" stroke="none" stroke-width="0" stroke-linejoin="miter"/>
<text x="250.1" y="189.6" text-anchor="middle" font-family="Liberation Sans, sans-serif" font-size="15" fill="#333" xml:space="preserve">( a )</text>
<text x="250.9" y="425.9" text-anchor="middle" font-family="Liberation Sans, sans-serif" font-size="15" fill="#333" xml:space="preserve">( b )</text>
<text x="683.1" y="189.6" text-anchor="middle" font-family="Liberation Sans, sans-serif" font-size="15" fill="#333" xml:space="preserve">( c )</text>
<text x="685.4" y="425.9" text-anchor="middle" font-family="Liberation Sans, sans-serif" font-size="15" fill="#333" xml:space="preserve">( d )</text>
</svg>
</body></html>
